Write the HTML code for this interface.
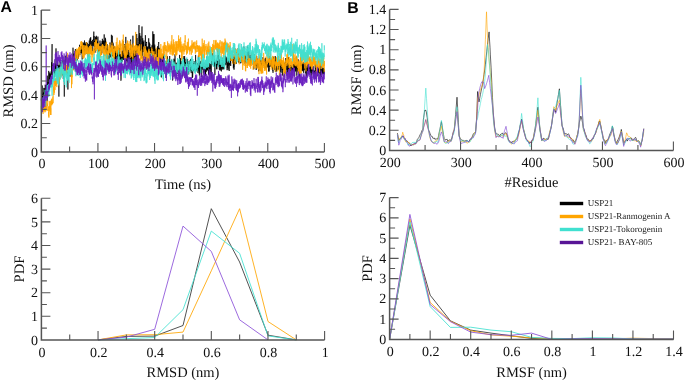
<!DOCTYPE html><html><head><meta charset="utf-8"><style>html,body{margin:0;padding:0;background:#fff;width:685px;height:381px;overflow:hidden}svg{display:block;will-change:transform}</style></head><body><svg width="685" height="381" viewBox="0 0 685 381" text-rendering="geometricPrecision">
<style>.tk{font-family:"Liberation Serif",serif;font-size:14px;fill:#111}.tt{font-family:"Liberation Serif",serif;font-size:14.5px;fill:#111}.pl{font-family:"Liberation Sans",sans-serif;font-weight:bold;font-size:15.8px;fill:#000}.lg{font-family:"Liberation Serif",serif;font-size:9px;fill:#222}</style>
<rect width="685" height="381" fill="#fff"/>
<polyline points="41.3,100.6 41.4,98.5 41.5,105.2 41.6,95.0 41.8,106.3 41.9,101.4 42.0,94.4 42.1,107.1 42.2,85.5 42.3,96.5 42.4,97.2 42.5,94.3 42.7,100.0 42.8,98.8 42.9,102.4 43.0,98.0 43.1,96.7 43.2,97.8 43.3,92.8 43.5,97.4 43.6,92.5 43.7,100.0 43.8,87.9 43.9,90.4 44.0,92.9 44.1,94.9 44.2,97.8 44.4,101.5 44.5,98.8 44.6,96.4 44.7,88.1 44.8,89.9 44.9,92.4 45.0,90.5 45.2,84.7 45.3,85.4 45.4,86.1 45.5,94.3 45.6,94.3 45.7,93.9 45.8,96.4 45.9,85.1 46.1,93.5 46.2,95.8 46.3,98.3 46.4,91.6 46.5,88.3 46.6,92.1 46.7,92.1 46.9,87.2 47.0,84.0 47.1,101.3 47.2,87.5 47.3,75.7 47.4,84.6 47.5,87.4 47.6,93.9 47.8,84.7 47.9,82.1 48.0,82.0 48.1,91.7 48.2,88.7 48.3,85.8 48.4,85.8 48.6,81.3 48.7,70.9 48.8,76.3 48.9,83.5 49.0,82.7 49.1,83.8 49.2,79.4 49.3,75.0 49.5,75.0 49.6,73.8 49.7,80.9 49.8,72.4 49.9,73.9 50.0,85.8 50.1,79.2 50.2,73.6 50.4,77.5 50.5,74.4 50.6,85.8 50.7,79.0 50.8,77.3 50.9,76.9 51.0,76.8 51.2,71.2 51.3,72.0 51.4,74.7 51.5,72.0 51.6,62.3 51.7,70.9 51.8,69.0 51.9,55.9 52.1,44.1 52.2,67.8 52.3,69.8 52.4,75.5 52.5,75.5 52.6,69.9 52.7,72.8 52.9,71.7 53.0,64.6 53.1,65.1 53.2,69.1 53.3,70.6 53.4,66.5 53.5,69.3 53.6,67.6 53.8,71.3 53.9,69.2 54.0,69.3 54.1,67.1 54.2,67.8 54.3,74.1 54.4,71.6 54.6,66.2 54.7,77.2 54.8,72.6 54.9,63.3 55.0,65.5 55.1,72.4 55.2,67.9 55.3,74.6 55.5,70.7 55.6,64.3 55.7,67.3 55.8,69.8 55.9,67.5 56.0,48.4 56.1,67.7 56.3,69.9 56.4,73.4 56.5,66.5 56.6,66.2 56.7,64.3 56.8,66.3 56.9,66.9 57.0,72.9 57.2,73.1 57.3,67.3 57.4,68.2 57.5,64.1 57.6,79.0 57.7,61.9 57.8,67.2 58.0,69.3 58.1,68.5 58.2,66.7 58.3,66.1 58.4,65.9 58.5,69.1 58.6,68.6 58.7,65.6 58.9,96.6 59.0,64.7 59.1,69.7 59.2,73.7 59.3,65.3 59.4,70.3 59.5,70.4 59.7,66.7 59.8,69.5 59.9,71.7 60.0,62.7 60.1,62.1 60.2,61.6 60.3,72.8 60.4,67.7 60.6,66.0 60.7,62.7 60.8,68.3 60.9,64.3 61.0,68.5 61.1,69.2 61.2,68.4 61.4,70.0 61.5,65.8 61.6,62.6 61.7,63.9 61.8,65.6 61.9,72.2 62.0,62.3 62.1,60.1 62.3,61.8 62.4,63.4 62.5,75.2 62.6,68.9 62.7,65.9 62.8,67.3 62.9,70.2 63.1,61.3 63.2,69.8 63.3,79.0 63.4,73.1 63.5,67.2 63.6,72.5 63.7,63.8 63.8,65.7 64.0,59.8 64.1,62.7 64.2,64.1 64.3,96.6 64.4,65.5 64.5,64.7 64.6,67.1 64.8,71.2 64.9,70.6 65.0,69.4 65.1,68.4 65.2,65.1 65.3,55.7 65.4,68.4 65.5,66.4 65.7,69.1 65.8,70.5 65.9,65.2 66.0,66.3 66.1,71.8 66.2,72.6 66.3,69.7 66.4,69.0 66.6,68.2 66.7,67.2 66.8,70.3 66.9,70.9 67.0,74.7 67.1,67.0 67.2,64.8 67.4,67.3 67.5,70.2 67.6,67.4 67.7,70.7 67.8,70.7 67.9,89.5 68.0,64.4 68.1,65.4 68.3,73.8 68.4,69.0 68.5,65.6 68.6,68.6 68.7,63.4 68.8,67.4 68.9,71.7 69.1,63.7 69.2,72.9 69.3,66.4 69.4,73.7 69.5,73.2 69.6,69.7 69.7,62.5 69.8,63.0 70.0,76.7 70.1,58.8 70.2,63.1 70.3,62.9 70.4,61.2 70.5,64.1 70.6,59.8 70.8,65.9 70.9,64.3 71.0,61.5 71.1,58.3 71.2,62.6 71.3,64.3 71.4,66.8 71.5,68.6 71.7,68.7 71.8,63.3 71.9,62.0 72.0,64.0 72.1,64.9 72.2,59.9 72.3,60.1 72.5,60.5 72.6,60.5 72.7,59.4 72.8,63.5 72.9,62.3 73.0,47.7 73.1,54.3 73.2,61.9 73.4,54.9 73.5,56.8 73.6,65.7 73.7,69.7 73.8,59.9 73.9,53.6 74.0,59.9 74.2,63.0 74.3,58.3 74.4,61.2 74.5,61.8 74.6,53.9 74.7,56.4 74.8,57.6 74.9,53.4 75.1,57.0 75.2,54.8 75.3,58.6 75.4,49.1 75.5,54.9 75.6,60.5 75.7,59.3 75.9,55.0 76.0,53.2 76.1,52.2 76.2,52.3 76.3,55.7 76.4,54.0 76.5,50.6 76.6,57.1 76.8,61.3 76.9,58.0 77.0,51.8 77.1,59.8 77.2,54.8 77.3,57.4 77.4,53.0 77.6,57.4 77.7,56.3 77.8,53.8 77.9,58.8 78.0,51.1 78.1,58.5 78.2,57.4 78.3,55.5 78.5,48.6 78.6,53.7 78.7,50.9 78.8,53.2 78.9,52.7 79.0,50.4 79.1,49.7 79.3,53.3 79.4,52.7 79.5,44.8 79.6,53.5 79.7,52.1 79.8,53.5 79.9,55.0 80.0,47.6 80.2,51.8 80.3,52.3 80.4,52.7 80.5,52.7 80.6,50.7 80.7,50.8 80.8,47.3 80.9,48.8 81.1,50.9 81.2,49.2 81.3,46.3 81.4,45.8 81.5,53.3 81.6,47.4 81.7,50.7 81.9,43.3 82.0,47.8 82.1,46.5 82.2,59.5 82.3,43.5 82.4,49.8 82.5,50.8 82.6,54.1 82.8,49.3 82.9,49.7 83.0,42.3 83.1,49.3 83.2,43.1 83.3,44.1 83.4,49.0 83.6,48.7 83.7,49.0 83.8,46.6 83.9,48.9 84.0,46.5 84.1,51.7 84.2,47.7 84.3,47.2 84.5,40.5 84.6,51.6 84.7,45.0 84.8,54.5 84.9,42.9 85.0,51.1 85.1,47.0 85.3,44.0 85.4,46.1 85.5,48.6 85.6,51.6 85.7,46.2 85.8,49.2 85.9,48.2 86.0,48.6 86.2,42.0 86.3,48.7 86.4,49.4 86.5,42.1 86.6,48.9 86.7,50.3 86.8,49.6 87.0,54.1 87.1,52.8 87.2,46.7 87.3,51.6 87.4,45.0 87.5,42.9 87.6,59.5 87.7,48.8 87.9,50.5 88.0,49.7 88.1,55.1 88.2,54.2 88.3,47.3 88.4,44.1 88.5,53.7 88.7,49.6 88.8,59.1 88.9,46.1 89.0,48.7 89.1,48.1 89.2,47.8 89.3,40.5 89.4,49.2 89.6,49.5 89.7,49.6 89.8,48.1 89.9,41.9 90.0,38.4 90.1,41.9 90.2,45.2 90.4,41.5 90.5,38.5 90.6,41.6 90.7,37.2 90.8,48.9 90.9,49.7 91.0,48.2 91.1,50.7 91.3,53.6 91.4,47.8 91.5,41.2 91.6,46.6 91.7,53.2 91.8,50.5 91.9,46.5 92.1,51.3 92.2,47.4 92.3,46.0 92.4,43.3 92.5,39.9 92.6,45.3 92.7,44.8 92.8,45.6 93.0,42.2 93.1,42.8 93.2,46.2 93.3,41.8 93.4,39.3 93.5,39.3 93.6,39.9 93.8,31.6 93.9,38.5 94.0,44.6 94.1,36.0 94.2,42.3 94.3,50.8 94.4,40.9 94.5,51.4 94.7,45.9 94.8,48.8 94.9,47.6 95.0,52.7 95.1,41.8 95.2,46.2 95.3,45.5 95.5,36.8 95.6,45.5 95.7,38.6 95.8,46.5 95.9,43.4 96.0,47.4 96.1,42.4 96.2,46.8 96.4,35.8 96.5,37.2 96.6,39.1 96.7,37.5 96.8,48.1 96.9,45.1 97.0,42.1 97.1,44.5 97.3,48.8 97.4,45.4 97.5,41.4 97.6,41.3 97.7,44.3 97.8,49.3 97.9,36.6 98.1,46.9 98.2,47.1 98.3,48.4 98.4,51.4 98.5,47.7 98.6,51.5 98.7,46.4 98.8,51.3 99.0,48.2 99.1,52.6 99.2,49.4 99.3,44.9 99.4,46.9 99.5,49.0 99.6,44.2 99.8,49.3 99.9,47.4 100.0,40.6 100.1,45.0 100.2,46.6 100.3,48.7 100.4,47.5 100.5,50.4 100.7,47.8 100.8,50.3 100.9,47.1 101.0,43.5 101.1,45.9 101.2,48.4 101.3,50.5 101.5,54.5 101.6,54.1 101.7,46.7 101.8,53.3 101.9,45.8 102.0,44.4 102.1,41.1 102.2,48.3 102.4,38.8 102.5,45.9 102.6,44.2 102.7,47.2 102.8,42.3 102.9,43.1 103.0,44.4 103.2,41.0 103.3,45.9 103.4,40.5 103.5,47.7 103.6,50.2 103.7,50.0 103.8,44.9 103.9,47.2 104.1,45.9 104.2,34.4 104.3,44.2 104.4,47.2 104.5,47.9 104.6,49.7 104.7,43.7 104.9,40.9 105.0,43.0 105.1,43.5 105.2,42.7 105.3,43.2 105.4,37.8 105.5,42.2 105.6,39.4 105.8,51.4 105.9,43.1 106.0,52.7 106.1,41.8 106.2,48.1 106.3,42.6 106.4,46.2 106.6,52.6 106.7,53.7 106.8,58.4 106.9,55.0 107.0,50.6 107.1,48.9 107.2,51.3 107.3,44.3 107.5,52.2 107.6,51.4 107.7,54.1 107.8,65.6 107.9,56.3 108.0,58.1 108.1,66.3 108.3,58.3 108.4,59.8 108.5,58.0 108.6,56.4 108.7,59.3 108.8,62.3 108.9,70.1 109.0,55.4 109.2,55.9 109.3,60.2 109.4,57.3 109.5,48.0 109.6,48.0 109.7,55.1 109.8,49.2 110.0,42.5 110.1,51.8 110.2,50.8 110.3,50.8 110.4,48.0 110.5,57.3 110.6,48.5 110.7,47.8 110.9,50.4 111.0,50.8 111.1,54.2 111.2,49.0 111.3,44.4 111.4,34.8 111.5,39.3 111.7,45.5 111.8,42.4 111.9,43.3 112.0,51.7 112.1,56.3 112.2,44.3 112.3,35.7 112.4,46.1 112.6,41.9 112.7,44.3 112.8,42.7 112.9,55.5 113.0,54.6 113.1,43.6 113.2,56.5 113.3,50.6 113.5,50.5 113.6,47.2 113.7,50.1 113.8,50.6 113.9,49.6 114.0,48.6 114.1,47.1 114.3,46.7 114.4,57.2 114.5,57.0 114.6,52.0 114.7,46.4 114.8,54.0 114.9,59.2 115.0,48.8 115.2,57.8 115.3,60.8 115.4,48.2 115.5,58.8 115.6,53.0 115.7,56.2 115.8,58.1 116.0,62.6 116.1,53.1 116.2,64.8 116.3,58.5 116.4,58.3 116.5,58.1 116.6,61.1 116.7,61.2 116.9,57.4 117.0,50.5 117.1,49.6 117.2,53.5 117.3,55.2 117.4,54.7 117.5,59.3 117.7,58.1 117.8,52.2 117.9,58.3 118.0,55.5 118.1,56.9 118.2,59.2 118.3,52.8 118.4,57.2 118.6,68.4 118.7,50.6 118.8,51.7 118.9,52.2 119.0,50.9 119.1,58.1 119.2,47.7 119.4,49.7 119.5,59.5 119.6,54.0 119.7,54.6 119.8,55.6 119.9,57.5 120.0,62.4 120.1,54.1 120.3,57.7 120.4,57.0 120.5,57.3 120.6,60.0 120.7,55.1 120.8,59.2 120.9,80.7 121.1,79.6 121.2,62.1 121.3,51.4 121.4,63.3 121.5,63.4 121.6,55.3 121.7,54.5 121.8,51.8 122.0,55.5 122.1,53.2 122.2,61.7 122.3,57.6 122.4,59.6 122.5,51.3 122.6,59.8 122.8,49.2 122.9,49.0 123.0,45.7 123.1,49.2 123.2,49.6 123.3,41.1 123.4,44.5 123.5,59.9 123.7,56.9 123.8,50.8 123.9,47.4 124.0,51.7 124.1,44.0 124.2,50.1 124.3,48.4 124.5,57.0 124.6,50.9 124.7,55.8 124.8,67.3 124.9,55.2 125.0,52.9 125.1,46.2 125.2,50.8 125.4,63.3 125.5,56.9 125.6,52.0 125.7,60.2 125.8,36.9 125.9,63.9 126.0,52.2 126.2,60.6 126.3,56.3 126.4,59.5 126.5,57.5 126.6,46.0 126.7,57.5 126.8,51.7 126.9,53.1 127.1,61.4 127.2,56.4 127.3,48.3 127.4,57.5 127.5,61.4 127.6,50.4 127.7,56.7 127.8,53.8 128.0,69.0 128.1,52.8 128.2,58.5 128.3,59.7 128.4,51.8 128.5,61.2 128.6,49.8 128.8,56.4 128.9,52.4 129.0,57.9 129.1,64.1 129.2,56.8 129.3,69.4 129.4,67.2 129.5,66.7 129.7,55.9 129.8,60.7 129.9,60.8 130.0,60.6 130.1,57.3 130.2,62.3 130.3,63.9 130.5,60.2 130.6,39.5 130.7,53.3 130.8,53.6 130.9,57.8 131.0,49.5 131.1,51.5 131.2,53.1 131.4,51.0 131.5,57.0 131.6,70.5 131.7,56.0 131.8,57.7 131.9,58.6 132.0,52.8 132.2,58.7 132.3,64.4 132.4,57.8 132.5,57.7 132.6,56.0 132.7,58.9 132.8,65.4 132.9,35.7 133.1,52.6 133.2,68.3 133.3,53.7 133.4,54.9 133.5,52.8 133.6,66.7 133.7,57.0 133.9,49.5 134.0,52.0 134.1,52.9 134.2,53.8 134.3,55.7 134.4,49.8 134.5,60.6 134.6,50.9 134.8,51.4 134.9,51.4 135.0,53.5 135.1,52.1 135.2,46.0 135.3,49.9 135.4,66.1 135.6,54.0 135.7,46.0 135.8,45.4 135.9,49.0 136.0,51.1 136.1,53.2 136.2,50.6 136.3,49.0 136.5,62.9 136.6,59.5 136.7,34.0 136.8,56.9 136.9,50.3 137.0,38.0 137.1,49.8 137.3,46.8 137.4,56.5 137.5,53.3 137.6,66.9 137.7,57.4 137.8,49.3 137.9,44.1 138.0,46.5 138.2,46.7 138.3,44.5 138.4,47.5 138.5,45.9 138.6,41.4 138.7,36.9 138.8,35.5 139.0,25.1 139.1,40.9 139.2,43.5 139.3,49.4 139.4,34.9 139.5,38.9 139.6,46.8 139.7,33.0 139.9,41.6 140.0,39.5 140.1,45.3 140.2,43.9 140.3,49.8 140.4,53.7 140.5,49.5 140.7,54.4 140.8,35.8 140.9,36.8 141.0,45.6 141.1,50.5 141.2,44.3 141.3,45.5 141.4,45.2 141.6,57.5 141.7,40.5 141.8,36.0 141.9,31.1 142.0,26.5 142.1,38.4 142.2,58.8 142.4,47.1 142.5,41.2 142.6,52.2 142.7,38.2 142.8,48.1 142.9,41.7 143.0,46.5 143.1,43.3 143.3,43.5 143.4,42.0 143.5,50.5 143.6,51.7 143.7,47.9 143.8,47.7 143.9,40.5 144.0,52.2 144.2,52.1 144.3,60.7 144.4,52.8 144.5,52.0 144.6,59.9 144.7,55.1 144.8,47.7 145.0,47.1 145.1,53.6 145.2,50.5 145.3,58.1 145.4,35.2 145.5,62.4 145.6,54.0 145.7,44.1 145.9,63.1 146.0,54.0 146.1,48.7 146.2,45.5 146.3,43.3 146.4,42.1 146.5,43.0 146.7,41.9 146.8,65.3 146.9,46.3 147.0,55.1 147.1,61.4 147.2,48.9 147.3,55.2 147.4,47.4 147.6,49.5 147.7,51.1 147.8,46.8 147.9,51.6 148.0,56.5 148.1,49.4 148.2,56.2 148.4,51.1 148.5,45.6 148.6,44.9 148.7,38.3 148.8,46.9 148.9,46.8 149.0,50.5 149.1,49.7 149.3,54.1 149.4,42.5 149.5,43.8 149.6,52.7 149.7,51.4 149.8,43.8 149.9,59.7 150.1,50.1 150.2,51.5 150.3,48.6 150.4,50.8 150.5,53.6 150.6,47.1 150.7,52.6 150.8,49.3 151.0,52.2 151.1,51.6 151.2,49.9 151.3,57.1 151.4,49.8 151.5,56.1 151.6,56.3 151.8,50.6 151.9,46.6 152.0,61.4 152.1,44.9 152.2,46.2 152.3,49.0 152.4,57.0 152.5,51.6 152.7,41.0 152.8,31.4 152.9,52.5 153.0,54.1 153.1,52.7 153.2,54.0 153.3,44.8 153.5,34.3 153.6,45.6 153.7,50.2 153.8,52.4 153.9,49.2 154.0,34.1 154.1,54.9 154.2,52.4 154.4,62.1 154.5,46.1 154.6,50.9 154.7,44.6 154.8,45.8 154.9,48.5 155.0,49.2 155.2,53.2 155.3,54.6 155.4,52.9 155.5,51.0 155.6,50.4 155.7,48.8 155.8,54.5 155.9,57.6 156.1,50.4 156.2,65.3 156.3,67.0 156.4,62.2 156.5,59.4 156.6,54.5 156.7,60.0 156.9,57.5 157.0,55.7 157.1,54.3 157.2,49.8 157.3,54.8 157.4,58.8 157.5,53.7 157.6,46.2 157.8,52.2 157.9,49.4 158.0,53.1 158.1,53.0 158.2,47.8 158.3,50.8 158.4,44.3 158.6,43.7 158.7,42.0 158.8,47.0 158.9,52.9 159.0,49.4 159.1,49.7 159.2,66.6 159.3,47.9 159.5,60.9 159.6,61.6 159.7,58.8 159.8,61.5 159.9,59.1 160.0,56.5 160.1,67.5 160.2,65.0 160.4,70.2 160.5,67.7 160.6,59.5 160.7,57.2 160.8,57.4 160.9,68.4 161.0,57.4 161.2,59.4 161.3,63.5 161.4,77.4 161.5,59.2 161.6,68.1 161.7,65.0 161.8,61.4 161.9,59.5 162.1,66.1 162.2,54.4 162.3,55.7 162.4,54.8 162.5,57.6 162.6,54.5 162.7,61.8 162.9,66.3 163.0,68.1 163.1,53.8 163.2,66.8 163.3,64.8 163.4,60.7 163.5,64.9 163.6,71.5 163.8,53.9 163.9,65.9 164.0,62.7 164.1,62.8 164.2,71.1 164.3,67.5 164.4,63.2 164.6,61.9 164.7,68.6 164.8,62.3 164.9,67.7 165.0,72.4 165.1,67.6 165.2,63.6 165.3,66.5 165.5,63.2 165.6,62.1 165.7,60.9 165.8,68.4 165.9,70.5 166.0,77.9 166.1,67.2 166.3,61.5 166.4,72.6 166.5,67.2 166.6,62.3 166.7,68.6 166.8,65.9 166.9,65.7 167.0,64.5 167.2,62.6 167.3,60.1 167.4,58.0 167.5,56.3 167.6,71.9 167.7,65.3 167.8,64.8 168.0,59.7 168.1,60.2 168.2,65.5 168.3,66.5 168.4,65.3 168.5,66.4 168.6,66.2 168.7,60.7 168.9,67.5 169.0,62.7 169.1,68.8 169.2,72.5 169.3,69.3 169.4,63.7 169.5,66.5 169.7,56.0 169.8,72.2 169.9,64.4 170.0,65.3 170.1,66.3 170.2,65.0 170.3,64.2 170.4,63.7 170.6,71.7 170.7,66.6 170.8,61.8 170.9,64.5 171.0,67.4 171.1,66.6 171.2,68.9 171.4,59.7 171.5,59.7 171.6,65.9 171.7,63.3 171.8,67.1 171.9,69.6 172.0,68.8 172.1,72.2 172.3,68.7 172.4,68.0 172.5,69.0 172.6,80.5 172.7,77.0 172.8,73.3 172.9,64.3 173.1,71.9 173.2,69.0 173.3,67.7 173.4,70.1 173.5,68.1 173.6,64.0 173.7,61.1 173.8,64.4 174.0,58.7 174.1,66.3 174.2,68.3 174.3,63.8 174.4,59.6 174.5,63.9 174.6,66.5 174.8,66.0 174.9,76.5 175.0,54.3 175.1,66.1 175.2,64.4 175.3,72.0 175.4,67.2 175.5,73.2 175.7,65.6 175.8,68.5 175.9,67.4 176.0,64.1 176.1,68.6 176.2,68.4 176.3,72.4 176.4,62.9 176.6,64.0 176.7,67.9 176.8,65.1 176.9,69.5 177.0,72.7 177.1,64.7 177.2,62.5 177.4,71.5 177.5,69.8 177.6,67.5 177.7,70.7 177.8,74.0 177.9,68.7 178.0,67.5 178.1,71.7 178.3,65.5 178.4,66.4 178.5,65.4 178.6,68.1 178.7,66.9 178.8,68.5 178.9,71.2 179.1,71.9 179.2,60.6 179.3,72.3 179.4,66.9 179.5,61.7 179.6,54.9 179.7,68.1 179.8,62.4 180.0,66.4 180.1,64.4 180.2,68.6 180.3,75.7 180.4,76.3 180.5,58.2 180.6,69.4 180.8,64.6 180.9,64.3 181.0,68.6 181.1,67.0 181.2,66.9 181.3,65.3 181.4,61.2 181.5,69.7 181.7,63.6 181.8,67.6 181.9,76.6 182.0,67.3 182.1,67.6 182.2,64.3 182.3,69.9 182.5,68.9 182.6,69.5 182.7,76.5 182.8,75.5 182.9,71.9 183.0,71.6 183.1,63.9 183.2,68.0 183.4,69.7 183.5,68.4 183.6,66.0 183.7,72.9 183.8,62.9 183.9,56.1 184.0,63.6 184.2,58.2 184.3,64.6 184.4,68.0 184.5,67.2 184.6,56.1 184.7,64.8 184.8,66.6 184.9,62.5 185.1,71.2 185.2,62.1 185.3,65.8 185.4,62.7 185.5,64.5 185.6,63.2 185.7,65.4 185.9,65.8 186.0,58.8 186.1,61.1 186.2,73.1 186.3,65.5 186.4,64.3 186.5,63.5 186.6,69.9 186.8,70.0 186.9,73.4 187.0,70.1 187.1,68.3 187.2,71.5 187.3,67.4 187.4,70.4 187.6,59.1 187.7,69.3 187.8,68.5 187.9,65.5 188.0,72.4 188.1,70.3 188.2,66.4 188.3,66.3 188.5,61.5 188.6,70.1 188.7,74.4 188.8,67.6 188.9,71.4 189.0,65.5 189.1,64.5 189.3,64.8 189.4,65.4 189.5,65.0 189.6,67.4 189.7,70.6 189.8,70.3 189.9,65.7 190.0,60.5 190.2,67.8 190.3,62.1 190.4,64.1 190.5,71.2 190.6,59.1 190.7,68.2 190.8,66.5 190.9,67.6 191.1,65.8 191.2,73.1 191.3,72.6 191.4,67.1 191.5,70.8 191.6,66.8 191.7,69.0 191.9,70.3 192.0,64.1 192.1,66.9 192.2,69.1 192.3,78.0 192.4,71.0 192.5,72.2 192.6,77.0 192.8,73.4 192.9,67.7 193.0,65.7 193.1,63.9 193.2,66.0 193.3,67.4 193.4,67.9 193.6,68.9 193.7,66.4 193.8,71.1 193.9,63.1 194.0,69.8 194.1,61.0 194.2,62.9 194.3,66.7 194.5,64.7 194.6,66.6 194.7,68.8 194.8,62.7 194.9,70.2 195.0,68.7 195.1,65.3 195.3,62.3 195.4,70.1 195.5,60.7 195.6,54.9 195.7,60.6 195.8,60.3 195.9,71.4 196.0,67.3 196.2,65.2 196.3,69.9 196.4,62.2 196.5,63.5 196.6,65.4 196.7,66.7 196.8,64.9 197.0,64.4 197.1,65.5 197.2,63.0 197.3,70.5 197.4,69.0 197.5,66.8 197.6,71.0 197.7,69.6 197.9,72.8 198.0,67.0 198.1,66.5 198.2,69.4 198.3,66.7 198.4,55.5 198.5,68.8 198.7,66.1 198.8,59.1 198.9,70.7 199.0,67.6 199.1,73.5 199.2,70.5 199.3,71.9 199.4,75.6 199.6,70.8 199.7,60.7 199.8,70.7 199.9,67.6 200.0,68.0 200.1,61.3 200.2,73.3 200.4,66.6 200.5,71.4 200.6,70.7 200.7,68.4 200.8,61.5 200.9,68.1 201.0,67.8 201.1,66.3 201.3,69.0 201.4,64.2 201.5,68.2 201.6,67.3 201.7,77.1 201.8,64.9 201.9,62.9 202.1,67.4 202.2,64.0 202.3,67.5 202.4,68.4 202.5,67.3 202.6,69.0 202.7,66.8 202.8,63.6 203.0,70.0 203.1,66.2 203.2,67.1 203.3,65.6 203.4,72.6 203.5,71.9 203.6,70.5 203.8,69.1 203.9,62.4 204.0,74.7 204.1,71.6 204.2,71.0 204.3,71.2 204.4,70.8 204.5,77.0 204.7,77.0 204.8,66.0 204.9,74.7 205.0,71.1 205.1,68.6 205.2,75.9 205.3,67.0 205.5,75.6 205.6,74.0 205.7,69.7 205.8,71.9 205.9,70.0 206.0,72.1 206.1,63.3 206.2,68.3 206.4,70.1 206.5,66.2 206.6,64.7 206.7,56.7 206.8,64.1 206.9,70.5 207.0,63.2 207.1,69.8 207.3,69.2 207.4,64.6 207.5,70.3 207.6,65.0 207.7,63.5 207.8,66.0 207.9,64.6 208.1,68.3 208.2,66.0 208.3,68.0 208.4,70.1 208.5,74.2 208.6,70.2 208.7,70.1 208.8,75.2 209.0,74.9 209.1,73.5 209.2,70.6 209.3,67.8 209.4,71.8 209.5,66.4 209.6,63.3 209.8,67.2 209.9,73.3 210.0,69.1 210.1,68.4 210.2,68.3 210.3,63.8 210.4,71.1 210.5,71.2 210.7,71.8 210.8,69.2 210.9,65.7 211.0,69.9 211.1,69.7 211.2,78.9 211.3,70.8 211.5,58.2 211.6,58.8 211.7,58.2 211.8,61.5 211.9,65.2 212.0,62.4 212.1,63.9 212.2,58.9 212.4,60.0 212.5,63.2 212.6,56.7 212.7,53.2 212.8,61.4 212.9,59.6 213.0,60.3 213.2,57.9 213.3,61.7 213.4,55.7 213.5,58.3 213.6,60.9 213.7,59.4 213.8,63.4 213.9,59.3 214.1,62.6 214.2,66.4 214.3,65.1 214.4,65.4 214.5,55.9 214.6,64.6 214.7,60.6 214.9,75.0 215.0,67.8 215.1,62.9 215.2,63.4 215.3,64.6 215.4,66.6 215.5,63.7 215.6,63.7 215.8,61.9 215.9,60.8 216.0,60.4 216.1,63.6 216.2,65.4 216.3,63.9 216.4,63.7 216.6,68.9 216.7,63.6 216.8,69.4 216.9,59.1 217.0,65.3 217.1,62.9 217.2,59.5 217.3,58.8 217.5,55.0 217.6,64.7 217.7,60.0 217.8,61.9 217.9,61.5 218.0,48.8 218.1,60.4 218.3,61.5 218.4,66.4 218.5,54.5 218.6,60.8 218.7,64.8 218.8,61.9 218.9,62.6 219.0,67.3 219.2,67.4 219.3,69.4 219.4,69.8 219.5,59.0 219.6,66.2 219.7,63.6 219.8,60.1 220.0,64.7 220.1,70.6 220.2,70.5 220.3,65.3 220.4,69.7 220.5,66.7 220.6,60.7 220.7,60.9 220.9,60.8 221.0,62.0 221.1,60.1 221.2,61.6 221.3,61.6 221.4,71.4 221.5,62.8 221.7,64.9 221.8,66.2 221.9,69.2 222.0,61.6 222.1,57.6 222.2,61.5 222.3,60.7 222.4,65.9 222.6,67.3 222.7,59.4 222.8,63.8 222.9,69.6 223.0,62.0 223.1,67.7 223.2,68.6 223.3,62.0 223.5,61.6 223.6,64.2 223.7,60.0 223.8,64.7 223.9,62.6 224.0,66.2 224.1,69.2 224.3,61.2 224.4,66.2 224.5,62.4 224.6,60.6 224.7,59.3 224.8,65.6 224.9,64.9 225.0,58.1 225.2,64.3 225.3,64.2 225.4,55.4 225.5,61.4 225.6,61.2 225.7,58.0 225.8,59.5 226.0,64.8 226.1,62.6 226.2,56.8 226.3,60.5 226.4,62.2 226.5,62.8 226.6,59.1 226.7,58.3 226.9,63.1 227.0,64.6 227.1,70.2 227.2,66.4 227.3,63.3 227.4,67.9 227.5,63.0 227.7,64.3 227.8,65.7 227.9,61.8 228.0,57.7 228.1,64.3 228.2,69.7 228.3,58.3 228.4,61.2 228.6,62.0 228.7,60.0 228.8,65.7 228.9,63.3 229.0,64.0 229.1,65.3 229.2,71.0 229.4,58.1 229.5,61.7 229.6,61.9 229.7,59.4 229.8,65.1 229.9,59.3 230.0,63.0 230.1,62.5 230.3,61.9 230.4,54.1 230.5,62.4 230.6,62.2 230.7,66.0 230.8,58.0 230.9,60.9 231.1,60.1 231.2,60.4 231.3,60.9 231.4,60.5 231.5,60.2 231.6,55.4 231.7,60.7 231.8,57.6 232.0,54.4 232.1,56.4 232.2,54.8 232.3,58.5 232.4,50.8 232.5,57.5 232.6,62.9 232.8,54.1 232.9,58.8 233.0,61.3 233.1,60.9 233.2,60.5 233.3,56.8 233.4,68.3 233.5,59.2 233.7,63.6 233.8,66.9 233.9,62.1 234.0,69.7 234.1,69.2 234.2,65.4 234.3,61.4 234.5,56.6 234.6,59.2 234.7,57.1 234.8,56.1 234.9,48.4 235.0,57.7 235.1,58.4 235.2,52.2 235.4,59.5 235.5,60.0 235.6,59.8 235.7,58.8 235.8,63.8 235.9,60.0 236.0,55.4 236.2,63.7 236.3,57.0 236.4,54.1 236.5,52.1 236.6,55.8 236.7,59.7 236.8,54.9 236.9,53.4 237.1,54.9 237.2,55.0 237.3,55.9 237.4,48.7 237.5,52.5 237.6,49.2 237.7,55.6 237.9,55.2 238.0,52.8 238.1,55.4 238.2,56.2 238.3,57.7 238.4,57.3 238.5,54.5 238.6,62.6 238.8,58.4 238.9,54.2 239.0,54.9 239.1,58.4 239.2,57.2 239.3,58.5 239.4,58.0 239.5,60.0 239.7,56.4 239.8,59.3 239.9,59.4 240.0,54.9 240.1,63.3 240.2,55.9 240.3,52.7 240.5,51.9 240.6,51.4 240.7,59.8 240.8,60.3 240.9,63.2 241.0,60.2 241.1,56.1 241.2,50.2 241.4,56.1 241.5,52.4 241.6,54.6 241.7,58.6 241.8,58.4 241.9,55.8 242.0,61.0 242.2,50.9 242.3,57.0 242.4,53.3 242.5,57.8 242.6,51.5 242.7,50.5 242.8,52.8 242.9,53.3 243.1,55.1 243.2,51.5 243.3,54.7 243.4,52.9 243.5,49.6 243.6,54.5 243.7,51.5 243.9,46.5 244.0,53.8 244.1,51.5 244.2,54.4 244.3,59.7 244.4,54.4 244.5,59.7 244.6,58.4 244.8,58.8 244.9,57.9 245.0,63.8 245.1,54.6 245.2,58.6 245.3,56.1 245.4,57.5 245.6,59.6 245.7,60.9 245.8,55.2 245.9,60.2 246.0,63.4 246.1,61.2 246.2,58.5 246.3,61.9 246.5,56.4 246.6,54.9 246.7,54.0 246.8,55.5 246.9,60.7 247.0,55.9 247.1,52.4 247.3,55.1 247.4,46.3 247.5,62.9 247.6,56.3 247.7,55.5 247.8,51.7 247.9,57.4 248.0,62.5 248.2,51.2 248.3,52.9 248.4,53.0 248.5,54.6 248.6,53.9 248.7,52.1 248.8,54.4 249.0,56.9 249.1,57.9 249.2,51.0 249.3,54.6 249.4,54.9 249.5,56.8 249.6,56.5 249.7,57.1 249.9,58.5 250.0,55.0 250.1,62.1 250.2,57.4 250.3,65.2 250.4,56.5 250.5,62.8 250.7,56.4 250.8,58.4 250.9,62.9 251.0,61.3 251.1,59.2 251.2,56.9 251.3,52.8 251.4,57.3 251.6,60.1 251.7,55.7 251.8,57.3 251.9,56.5 252.0,60.0 252.1,54.7 252.2,55.7 252.4,53.6 252.5,57.5 252.6,57.2 252.7,62.7 252.8,62.5 252.9,55.1 253.0,64.4 253.1,60.8 253.3,64.4 253.4,59.0 253.5,63.8 253.6,64.8 253.7,64.8 253.8,69.3 253.9,63.8 254.0,59.6 254.2,61.8 254.3,54.1 254.4,59.0 254.5,57.5 254.6,59.8 254.7,60.4 254.8,57.4 255.0,65.8 255.1,63.9 255.2,60.4 255.3,62.0 255.4,61.0 255.5,61.9 255.6,61.6 255.7,65.1 255.9,66.1 256.0,65.6 256.1,62.2 256.2,70.0 256.3,66.4 256.4,66.2 256.5,62.5 256.7,56.0 256.8,59.9 256.9,66.0 257.0,59.7 257.1,58.9 257.2,61.2 257.3,64.2 257.4,67.7 257.6,58.8 257.7,64.0 257.8,64.7 257.9,65.0 258.0,63.0 258.1,63.5 258.2,63.3 258.4,64.3 258.5,71.3 258.6,63.6 258.7,63.4 258.8,67.2 258.9,69.1 259.0,64.9 259.1,64.5 259.3,60.9 259.4,60.5 259.5,65.5 259.6,66.4 259.7,65.7 259.8,62.4 259.9,70.4 260.1,65.2 260.2,62.1 260.3,60.3 260.4,64.4 260.5,70.9 260.6,59.0 260.7,54.3 260.8,66.6 261.0,68.9 261.1,62.9 261.2,67.9 261.3,69.6 261.4,67.3 261.5,65.3 261.6,71.4 261.8,70.5 261.9,63.4 262.0,65.9 262.1,59.8 262.2,61.7 262.3,62.0 262.4,64.3 262.5,64.3 262.7,64.1 262.8,60.2 262.9,58.9 263.0,57.2 263.1,58.6 263.2,60.3 263.3,60.1 263.5,61.9 263.6,65.3 263.7,62.6 263.8,60.8 263.9,58.7 264.0,64.8 264.1,66.0 264.2,62.0 264.4,66.2 264.5,68.4 264.6,64.7 264.7,61.1 264.8,64.3 264.9,64.1 265.0,62.9 265.2,65.2 265.3,68.3 265.4,57.8 265.5,65.0 265.6,58.3 265.7,65.3 265.8,64.6 265.9,61.1 266.1,67.4 266.2,62.2 266.3,63.9 266.4,66.7 266.5,66.7 266.6,65.9 266.7,62.2 266.9,67.8 267.0,62.8 267.1,66.1 267.2,63.5 267.3,67.1 267.4,64.4 267.5,62.3 267.6,60.8 267.8,63.7 267.9,61.1 268.0,63.5 268.1,63.2 268.2,67.0 268.3,61.5 268.4,60.4 268.6,66.3 268.7,66.7 268.8,71.6 268.9,66.5 269.0,71.3 269.1,67.4 269.2,63.3 269.3,64.5 269.5,66.7 269.6,62.9 269.7,56.3 269.8,59.7 269.9,58.6 270.0,61.4 270.1,63.9 270.2,60.1 270.4,61.5 270.5,61.1 270.6,62.6 270.7,65.6 270.8,63.5 270.9,65.8 271.0,67.0 271.2,60.6 271.3,64.6 271.4,65.0 271.5,61.2 271.6,59.2 271.7,63.4 271.8,62.1 271.9,60.6 272.1,67.7 272.2,61.6 272.3,65.4 272.4,66.6 272.5,65.8 272.6,69.6 272.7,70.5 272.9,70.0 273.0,72.8 273.1,66.2 273.2,65.1 273.3,61.8 273.4,62.0 273.5,60.1 273.6,57.8 273.8,56.6 273.9,61.0 274.0,61.7 274.1,60.6 274.2,64.0 274.3,60.2 274.4,66.6 274.6,70.0 274.7,59.7 274.8,63.0 274.9,64.8 275.0,69.0 275.1,67.8 275.2,64.7 275.3,56.1 275.5,66.9 275.6,63.7 275.7,66.7 275.8,66.8 275.9,67.8 276.0,72.1 276.1,69.0 276.3,71.0 276.4,67.1 276.5,69.9 276.6,65.5 276.7,65.7 276.8,67.1 276.9,66.1 277.0,65.4 277.2,62.4 277.3,64.4 277.4,61.9 277.5,62.8 277.6,67.6 277.7,69.9 277.8,64.4 278.0,60.5 278.1,64.4 278.2,63.2 278.3,63.3 278.4,65.3 278.5,65.2 278.6,67.5 278.7,69.5 278.9,67.6 279.0,66.3 279.1,60.0 279.2,60.9 279.3,60.1 279.4,63.7 279.5,59.8 279.7,60.6 279.8,62.7 279.9,67.0 280.0,65.8 280.1,61.9 280.2,61.7 280.3,59.5 280.4,64.4 280.6,61.4 280.7,67.9 280.8,71.8 280.9,66.0 281.0,73.3 281.1,65.3 281.2,67.3 281.4,62.6 281.5,63.3 281.6,61.6 281.7,60.2 281.8,67.6 281.9,63.3 282.0,68.7 282.1,68.2 282.3,70.0 282.4,65.9 282.5,65.0 282.6,75.6 282.7,68.2 282.8,68.8 282.9,69.6 283.1,64.9 283.2,68.0 283.3,64.7 283.4,66.0 283.5,67.3 283.6,61.9 283.7,69.6 283.8,69.2 284.0,65.0 284.1,67.0 284.2,70.8 284.3,65.5 284.4,63.0 284.5,65.4 284.6,64.9 284.8,73.1 284.9,72.2 285.0,67.4 285.1,64.8 285.2,62.3 285.3,63.0 285.4,65.8 285.5,66.5 285.7,74.3 285.8,58.0 285.9,64.8 286.0,66.8 286.1,64.2 286.2,67.5 286.3,65.6 286.4,64.0 286.6,66.5 286.7,64.7 286.8,68.1 286.9,69.6 287.0,68.4 287.1,72.8 287.2,67.6 287.4,69.6 287.5,64.0 287.6,57.0 287.7,64.7 287.8,71.8 287.9,75.8 288.0,71.9 288.1,69.0 288.3,70.2 288.4,68.3 288.5,57.1 288.6,70.8 288.7,68.7 288.8,69.4 288.9,68.2 289.1,66.5 289.2,67.7 289.3,72.5 289.4,69.7 289.5,68.3 289.6,71.4 289.7,69.8 289.8,70.2 290.0,77.1 290.1,71.1 290.2,69.4 290.3,70.6 290.4,65.0 290.5,70.4 290.6,68.4 290.8,67.7 290.9,66.3 291.0,71.3 291.1,68.4 291.2,65.1 291.3,67.9 291.4,71.7 291.5,69.8 291.7,74.0 291.8,75.1 291.9,74.2 292.0,74.2 292.1,72.5 292.2,73.3 292.3,68.1 292.5,69.6 292.6,67.5 292.7,69.5 292.8,69.0 292.9,71.3 293.0,69.2 293.1,68.5 293.2,64.3 293.4,66.3 293.5,64.2 293.6,63.8 293.7,66.9 293.8,64.1 293.9,68.5 294.0,71.4 294.2,68.1 294.3,64.1 294.4,73.2 294.5,72.7 294.6,67.9 294.7,76.5 294.8,62.1 294.9,64.3 295.1,71.6 295.2,67.6 295.3,64.7 295.4,71.1 295.5,65.8 295.6,66.2 295.7,70.1 295.9,66.5 296.0,66.4 296.1,68.7 296.2,67.3 296.3,56.6 296.4,63.6 296.5,65.0 296.6,63.9 296.8,75.7 296.9,71.1 297.0,64.2 297.1,67.9 297.2,71.4 297.3,65.5 297.4,68.3 297.6,71.5 297.7,67.7 297.8,70.9 297.9,70.3 298.0,66.2 298.1,59.2 298.2,61.1 298.3,63.3 298.5,64.0 298.6,65.3 298.7,65.3 298.8,63.4 298.9,68.8 299.0,66.7 299.1,69.6 299.3,67.7 299.4,67.0 299.5,68.6 299.6,82.4 299.7,69.9 299.8,64.2 299.9,66.0 300.0,64.5 300.2,65.4 300.3,66.5 300.4,61.7 300.5,65.3 300.6,65.3 300.7,65.7 300.8,57.1 300.9,64.6 301.1,60.4 301.2,62.7 301.3,62.8 301.4,66.6 301.5,60.1 301.6,62.9 301.7,62.3 301.9,65.2 302.0,69.9 302.1,70.7 302.2,63.5 302.3,71.2 302.4,63.7 302.5,69.9 302.6,67.9 302.8,67.3 302.9,68.2 303.0,65.7 303.1,66.4 303.2,68.7 303.3,69.8 303.4,62.4 303.6,72.8 303.7,69.0 303.8,70.6 303.9,69.4 304.0,69.8 304.1,67.0 304.2,62.9 304.3,69.3 304.5,65.7 304.6,69.0 304.7,68.1 304.8,65.6 304.9,64.4 305.0,69.2 305.1,63.8 305.3,66.1 305.4,73.5 305.5,65.5 305.6,67.0 305.7,69.8 305.8,66.7 305.9,62.1 306.0,68.1 306.2,68.9 306.3,74.8 306.4,79.6 306.5,69.0 306.6,68.0 306.7,69.4 306.8,68.0 307.0,70.0 307.1,72.1 307.2,66.5 307.3,73.7 307.4,68.5 307.5,63.5 307.6,67.8 307.7,74.1 307.9,71.4 308.0,67.6 308.1,70.4 308.2,72.0 308.3,66.0 308.4,71.8 308.5,63.7 308.7,73.9 308.8,66.1 308.9,68.6 309.0,69.2 309.1,71.5 309.2,69.4 309.3,71.9 309.4,68.7 309.6,69.1 309.7,68.6 309.8,69.7 309.9,74.7 310.0,66.6 310.1,69.9 310.2,67.1 310.4,70.7 310.5,68.3 310.6,71.5 310.7,59.6 310.8,65.5 310.9,70.3 311.0,73.2 311.1,63.5 311.3,75.9 311.4,70.8 311.5,69.5 311.6,71.0 311.7,66.9 311.8,68.4 311.9,67.8 312.1,66.9 312.2,68.0 312.3,68.8 312.4,71.7 312.5,68.4 312.6,65.4 312.7,69.5 312.8,70.7 313.0,73.7 313.1,66.2 313.2,72.1 313.3,71.4 313.4,69.9 313.5,70.3 313.6,73.8 313.8,74.7 313.9,77.0 314.0,70.6 314.1,70.3 314.2,74.0 314.3,71.7 314.4,72.0 314.5,71.2 314.7,71.8 314.8,71.3 314.9,77.1 315.0,72.0 315.1,70.0 315.2,63.8 315.3,68.0 315.5,68.8 315.6,64.7 315.7,73.5 315.8,70.2 315.9,73.5 316.0,68.9 316.1,75.8 316.2,78.5 316.4,77.7 316.5,71.8 316.6,69.1 316.7,76.4 316.8,65.3 316.9,64.6 317.0,68.7 317.1,72.0 317.3,69.1 317.4,71.7 317.5,69.3 317.6,65.9 317.7,67.9 317.8,66.1 317.9,76.3 318.1,70.0 318.2,72.8 318.3,68.5 318.4,70.2 318.5,71.9 318.6,67.5 318.7,70.1 318.8,72.5 319.0,70.3 319.1,72.0 319.2,71.6 319.3,72.5 319.4,70.1 319.5,73.4 319.6,73.1 319.8,65.5 319.9,73.3 320.0,75.4 320.1,78.3 320.2,76.3 320.3,75.0 320.4,71.6 320.5,73.0 320.7,71.5 320.8,75.0 320.9,68.9 321.0,70.9 321.1,63.9 321.2,72.2 321.3,77.1 321.5,72.2 321.6,73.7 321.7,70.3 321.8,71.0 321.9,74.0 322.0,67.4 322.1,68.2 322.2,69.4 322.4,71.5 322.5,72.4 322.6,69.1 322.7,72.2 322.8,73.4 322.9,74.5 323.0,67.8 323.2,71.8 323.3,74.0 323.4,70.7 323.5,70.0 323.6,68.0 323.7,71.3 323.8,70.4 323.9,68.9 324.1,70.7 324.2,74.4 324.3,72.0 324.4,70.8" fill="none" stroke="#000000" stroke-width="0.7" stroke-linejoin="round" />
<polyline points="41.3,106.3 41.4,106.9 41.5,105.4 41.6,108.4 41.8,104.9 41.9,102.7 42.0,107.8 42.1,102.2 42.2,100.6 42.3,103.8 42.4,103.8 42.5,106.5 42.7,104.5 42.8,110.8 42.9,107.4 43.0,106.7 43.1,113.9 43.2,105.6 43.3,111.5 43.5,110.5 43.6,109.2 43.7,107.4 43.8,106.3 43.9,103.3 44.0,110.2 44.1,106.7 44.2,100.6 44.4,107.3 44.5,111.1 44.6,110.1 44.7,107.0 44.8,107.3 44.9,112.4 45.0,106.6 45.2,106.7 45.3,99.8 45.4,107.2 45.5,107.0 45.6,102.9 45.7,111.5 45.8,104.1 45.9,101.3 46.1,107.8 46.2,108.7 46.3,108.0 46.4,100.9 46.5,108.1 46.6,108.8 46.7,108.6 46.9,108.9 47.0,110.6 47.1,109.9 47.2,108.2 47.3,103.6 47.4,105.8 47.5,105.0 47.6,105.7 47.8,100.7 47.9,108.3 48.0,110.5 48.1,109.2 48.2,110.7 48.3,108.3 48.4,106.5 48.6,108.1 48.7,116.5 48.8,111.7 48.9,117.7 49.0,109.4 49.1,106.4 49.2,110.3 49.3,110.7 49.5,107.1 49.6,101.2 49.7,110.5 49.8,106.4 49.9,110.1 50.0,111.9 50.1,108.1 50.2,105.8 50.4,108.5 50.5,100.7 50.6,114.9 50.7,108.3 50.8,108.9 50.9,115.0 51.0,109.7 51.2,105.6 51.3,102.0 51.4,104.7 51.5,99.3 51.6,102.8 51.7,105.4 51.8,105.2 51.9,98.6 52.1,104.3 52.2,104.3 52.3,102.2 52.4,101.8 52.5,104.0 52.6,102.3 52.7,99.0 52.9,96.4 53.0,99.0 53.1,103.2 53.2,97.3 53.3,96.9 53.4,92.5 53.5,86.6 53.6,90.5 53.8,87.2 53.9,80.4 54.0,94.9 54.1,88.2 54.2,90.9 54.3,92.8 54.4,92.5 54.6,89.1 54.7,79.2 54.8,84.0 54.9,80.8 55.0,90.0 55.1,79.3 55.2,81.8 55.3,78.1 55.5,85.8 55.6,80.7 55.7,82.9 55.8,85.7 55.9,85.0 56.0,83.6 56.1,81.3 56.3,83.0 56.4,78.4 56.5,84.4 56.6,83.9 56.7,82.9 56.8,87.1 56.9,70.0 57.0,71.5 57.2,80.6 57.3,79.7 57.4,82.0 57.5,77.4 57.6,79.9 57.7,82.1 57.8,79.7 58.0,81.2 58.1,77.0 58.2,70.3 58.3,73.8 58.4,74.5 58.5,77.1 58.6,69.0 58.7,76.7 58.9,83.8 59.0,76.5 59.1,82.2 59.2,72.6 59.3,73.0 59.4,68.8 59.5,70.1 59.7,76.1 59.8,78.6 59.9,73.2 60.0,79.3 60.1,78.1 60.2,67.8 60.3,75.8 60.4,71.1 60.6,64.3 60.7,73.5 60.8,64.1 60.9,76.9 61.0,73.4 61.1,64.1 61.2,70.0 61.4,71.9 61.5,74.5 61.6,67.7 61.7,63.3 61.8,75.7 61.9,73.9 62.0,68.5 62.1,73.3 62.3,66.1 62.4,71.6 62.5,63.4 62.6,65.2 62.7,70.3 62.8,69.4 62.9,63.4 63.1,73.9 63.2,69.6 63.3,72.8 63.4,70.4 63.5,61.7 63.6,67.2 63.7,65.6 63.8,66.9 64.0,70.6 64.1,65.1 64.2,69.6 64.3,67.2 64.4,67.2 64.5,63.4 64.6,72.7 64.8,69.5 64.9,69.0 65.0,69.3 65.1,70.8 65.2,72.8 65.3,70.6 65.4,66.5 65.5,68.9 65.7,73.2 65.8,66.5 65.9,65.2 66.0,66.9 66.1,72.5 66.2,66.0 66.3,65.2 66.4,66.9 66.6,67.2 66.7,74.3 66.8,65.9 66.9,68.2 67.0,66.3 67.1,70.6 67.2,68.6 67.4,70.1 67.5,71.8 67.6,52.9 67.7,62.2 67.8,60.9 67.9,61.6 68.0,66.5 68.1,65.8 68.3,74.0 68.4,67.0 68.5,72.1 68.6,69.5 68.7,63.5 68.8,67.0 68.9,59.0 69.1,62.8 69.2,66.6 69.3,69.8 69.4,74.7 69.5,61.1 69.6,63.0 69.7,68.2 69.8,68.8 70.0,74.2 70.1,64.8 70.2,69.4 70.3,66.1 70.4,66.5 70.5,67.3 70.6,68.7 70.8,68.7 70.9,70.4 71.0,69.7 71.1,62.8 71.2,60.5 71.3,77.1 71.4,69.7 71.5,88.1 71.7,74.6 71.8,69.4 71.9,84.2 72.0,68.2 72.1,77.2 72.2,66.7 72.3,67.6 72.5,68.5 72.6,64.6 72.7,69.0 72.8,55.7 72.9,67.9 73.0,69.5 73.1,62.7 73.2,61.0 73.4,60.2 73.5,65.6 73.6,69.5 73.7,69.2 73.8,70.4 73.9,68.8 74.0,63.6 74.2,65.4 74.3,61.7 74.4,57.5 74.5,61.2 74.6,57.8 74.7,55.6 74.8,60.9 74.9,56.9 75.1,62.3 75.2,53.2 75.3,57.9 75.4,57.4 75.5,58.9 75.6,55.3 75.7,50.7 75.9,57.0 76.0,59.2 76.1,57.1 76.2,53.8 76.3,51.6 76.4,54.6 76.5,52.9 76.6,50.6 76.8,48.5 76.9,55.1 77.0,59.5 77.1,56.0 77.2,49.9 77.3,56.3 77.4,51.7 77.6,52.5 77.7,58.7 77.8,49.2 77.9,56.1 78.0,59.0 78.1,54.4 78.2,52.1 78.3,48.7 78.5,49.9 78.6,52.3 78.7,47.8 78.8,50.4 78.9,47.0 79.0,54.5 79.1,51.3 79.3,53.7 79.4,51.5 79.5,46.8 79.6,46.9 79.7,51.7 79.8,56.6 79.9,51.1 80.0,51.5 80.2,51.3 80.3,46.3 80.4,46.8 80.5,48.6 80.6,45.7 80.7,50.1 80.8,48.2 80.9,41.5 81.1,45.4 81.2,42.0 81.3,45.0 81.4,43.9 81.5,45.8 81.6,41.1 81.7,45.6 81.9,42.8 82.0,44.5 82.1,49.1 82.2,42.6 82.3,49.5 82.4,45.5 82.5,54.7 82.6,45.6 82.8,55.7 82.9,53.1 83.0,58.3 83.1,57.0 83.2,55.2 83.3,56.5 83.4,45.1 83.6,52.0 83.7,58.6 83.8,53.9 83.9,52.3 84.0,50.5 84.1,50.6 84.2,57.6 84.3,45.3 84.5,48.2 84.6,49.0 84.7,48.4 84.8,52.6 84.9,55.3 85.0,54.1 85.1,47.5 85.3,52.9 85.4,51.7 85.5,53.1 85.6,45.9 85.7,47.7 85.8,45.5 85.9,49.9 86.0,53.7 86.2,48.7 86.3,53.3 86.4,53.9 86.5,46.8 86.6,47.4 86.7,42.3 86.8,45.9 87.0,49.1 87.1,45.9 87.2,52.4 87.3,51.0 87.4,53.1 87.5,58.9 87.6,49.5 87.7,51.5 87.9,53.8 88.0,47.2 88.1,55.2 88.2,47.9 88.3,47.8 88.4,54.3 88.5,52.7 88.7,52.4 88.8,57.0 88.9,57.1 89.0,55.9 89.1,51.4 89.2,58.7 89.3,55.1 89.4,46.1 89.6,51.7 89.7,52.5 89.8,55.7 89.9,57.2 90.0,47.2 90.1,46.3 90.2,50.6 90.4,53.9 90.5,48.7 90.6,52.5 90.7,44.6 90.8,47.3 90.9,46.5 91.0,51.1 91.1,54.6 91.3,54.4 91.4,46.1 91.5,54.3 91.6,48.2 91.7,54.5 91.8,54.7 91.9,62.3 92.1,54.2 92.2,54.9 92.3,51.2 92.4,54.7 92.5,54.3 92.6,53.6 92.7,53.2 92.8,54.3 93.0,57.4 93.1,56.5 93.2,53.0 93.3,49.6 93.4,51.0 93.5,51.8 93.6,52.6 93.8,53.2 93.9,47.8 94.0,54.7 94.1,54.1 94.2,49.9 94.3,51.8 94.4,52.3 94.5,47.3 94.7,48.5 94.8,42.0 94.9,42.9 95.0,44.0 95.1,47.9 95.2,42.6 95.3,44.2 95.5,48.6 95.6,50.4 95.7,46.4 95.8,39.5 95.9,45.1 96.0,41.0 96.1,44.5 96.2,45.6 96.4,39.8 96.5,44.7 96.6,51.1 96.7,44.6 96.8,48.0 96.9,44.6 97.0,46.2 97.1,49.4 97.3,53.0 97.4,46.6 97.5,43.4 97.6,48.9 97.7,58.8 97.8,55.5 97.9,50.6 98.1,59.6 98.2,56.3 98.3,56.9 98.4,52.9 98.5,44.1 98.6,49.6 98.7,42.8 98.8,48.9 99.0,48.6 99.1,49.4 99.2,49.8 99.3,46.3 99.4,46.0 99.5,47.3 99.6,47.1 99.8,56.7 99.9,51.7 100.0,53.4 100.1,51.3 100.2,46.2 100.3,55.8 100.4,54.8 100.5,53.0 100.7,57.7 100.8,50.4 100.9,47.0 101.0,46.2 101.1,50.5 101.2,49.4 101.3,47.2 101.5,52.6 101.6,54.9 101.7,48.4 101.8,48.9 101.9,48.0 102.0,45.3 102.1,47.8 102.2,49.3 102.4,44.3 102.5,46.5 102.6,48.4 102.7,44.5 102.8,47.0 102.9,45.1 103.0,52.5 103.2,49.0 103.3,45.9 103.4,55.6 103.5,55.9 103.6,56.6 103.7,55.6 103.8,50.5 103.9,48.5 104.1,53.3 104.2,49.8 104.3,56.0 104.4,52.2 104.5,48.7 104.6,47.8 104.7,46.1 104.9,47.3 105.0,50.5 105.1,60.5 105.2,56.3 105.3,53.3 105.4,51.8 105.5,50.6 105.6,45.6 105.8,51.3 105.9,56.3 106.0,51.2 106.1,45.4 106.2,42.7 106.3,47.7 106.4,41.9 106.6,45.0 106.7,44.2 106.8,58.8 106.9,50.0 107.0,51.5 107.1,51.3 107.2,53.3 107.3,54.5 107.5,52.2 107.6,55.3 107.7,60.3 107.8,51.0 107.9,53.0 108.0,52.6 108.1,45.2 108.3,50.0 108.4,51.9 108.5,51.0 108.6,54.3 108.7,49.7 108.8,54.7 108.9,49.2 109.0,50.3 109.2,47.3 109.3,49.7 109.4,46.2 109.5,52.5 109.6,53.0 109.7,43.8 109.8,46.2 110.0,50.7 110.1,48.4 110.2,52.6 110.3,51.9 110.4,53.3 110.5,47.5 110.6,54.3 110.7,52.0 110.9,54.0 111.0,51.7 111.1,53.3 111.2,52.5 111.3,47.9 111.4,45.3 111.5,49.0 111.7,58.1 111.8,50.7 111.9,53.8 112.0,42.5 112.1,43.9 112.2,46.0 112.3,46.9 112.4,48.7 112.6,45.5 112.7,47.6 112.8,55.2 112.9,46.2 113.0,51.8 113.1,49.4 113.2,60.5 113.3,48.9 113.5,55.3 113.6,55.5 113.7,51.3 113.8,57.0 113.9,51.5 114.0,59.0 114.1,45.9 114.3,45.8 114.4,49.1 114.5,56.8 114.6,48.5 114.7,49.1 114.8,51.4 114.9,52.7 115.0,50.7 115.2,50.4 115.3,49.1 115.4,46.6 115.5,50.1 115.6,48.7 115.7,50.1 115.8,51.2 116.0,48.6 116.1,51.0 116.2,49.4 116.3,42.0 116.4,52.9 116.5,47.3 116.6,56.1 116.7,47.4 116.9,49.5 117.0,43.3 117.1,37.7 117.2,49.3 117.3,46.0 117.4,49.4 117.5,48.8 117.7,45.8 117.8,52.8 117.9,49.9 118.0,54.5 118.1,47.4 118.2,44.6 118.3,48.4 118.4,47.1 118.6,54.9 118.7,48.2 118.8,47.8 118.9,52.3 119.0,54.3 119.1,48.2 119.2,43.7 119.4,41.9 119.5,44.3 119.6,40.3 119.7,45.1 119.8,47.7 119.9,40.8 120.0,46.0 120.1,52.1 120.3,50.0 120.4,45.4 120.5,44.2 120.6,47.4 120.7,50.2 120.8,44.2 120.9,42.7 121.1,45.5 121.2,44.5 121.3,56.3 121.4,52.7 121.5,50.8 121.6,50.9 121.7,53.1 121.8,56.7 122.0,47.5 122.1,47.5 122.2,49.8 122.3,44.7 122.4,39.6 122.5,48.9 122.6,50.1 122.8,47.2 122.9,42.1 123.0,47.5 123.1,47.7 123.2,46.8 123.3,34.6 123.4,42.8 123.5,43.2 123.7,47.7 123.8,50.6 123.9,53.3 124.0,46.9 124.1,45.0 124.2,54.8 124.3,47.7 124.5,58.6 124.6,63.1 124.7,53.5 124.8,51.4 124.9,50.3 125.0,54.1 125.1,55.9 125.2,51.3 125.4,63.0 125.5,52.8 125.6,53.9 125.7,58.1 125.8,53.2 125.9,43.3 126.0,59.3 126.2,52.3 126.3,55.9 126.4,48.9 126.5,45.5 126.6,45.2 126.7,45.5 126.8,43.1 126.9,45.3 127.1,52.2 127.2,51.5 127.3,44.2 127.4,48.9 127.5,43.3 127.6,40.5 127.7,54.7 127.8,41.2 128.0,48.3 128.1,48.3 128.2,46.5 128.3,43.7 128.4,43.5 128.5,49.8 128.6,46.2 128.8,46.0 128.9,45.9 129.0,43.9 129.1,46.4 129.2,49.8 129.3,48.9 129.4,52.0 129.5,48.4 129.7,49.8 129.8,48.7 129.9,42.1 130.0,41.2 130.1,49.9 130.2,52.5 130.3,57.9 130.5,49.9 130.6,50.0 130.7,52.5 130.8,52.9 130.9,45.5 131.0,49.0 131.1,55.2 131.2,44.9 131.4,49.4 131.5,44.6 131.6,52.4 131.7,56.4 131.8,54.0 131.9,55.1 132.0,56.8 132.2,49.1 132.3,52.0 132.4,57.5 132.5,47.5 132.6,50.6 132.7,48.3 132.8,50.6 132.9,59.1 133.1,44.3 133.2,48.2 133.3,50.4 133.4,48.8 133.5,43.2 133.6,46.5 133.7,49.3 133.9,48.3 134.0,53.4 134.1,48.0 134.2,49.6 134.3,45.6 134.4,49.7 134.5,49.5 134.6,55.9 134.8,51.2 134.9,53.8 135.0,53.5 135.1,49.2 135.2,48.0 135.3,45.9 135.4,50.9 135.6,44.8 135.7,31.9 135.8,48.6 135.9,50.2 136.0,46.0 136.1,50.2 136.2,45.0 136.3,55.1 136.5,51.6 136.6,51.6 136.7,49.2 136.8,45.8 136.9,49.1 137.0,48.4 137.1,45.5 137.3,49.8 137.4,47.7 137.5,54.8 137.6,51.9 137.7,53.6 137.8,50.3 137.9,54.5 138.0,54.3 138.2,61.8 138.3,47.6 138.4,54.3 138.5,51.4 138.6,55.7 138.7,45.6 138.8,48.3 139.0,46.6 139.1,54.0 139.2,50.5 139.3,46.6 139.4,54.9 139.5,44.3 139.6,48.8 139.7,51.7 139.9,55.7 140.0,50.5 140.1,54.7 140.2,60.2 140.3,57.6 140.4,60.7 140.5,56.4 140.7,51.1 140.8,55.7 140.9,52.2 141.0,56.2 141.1,53.9 141.2,44.3 141.3,55.4 141.4,58.3 141.6,54.2 141.7,49.4 141.8,53.0 141.9,59.1 142.0,59.0 142.1,61.6 142.2,57.4 142.4,55.8 142.5,57.4 142.6,63.3 142.7,58.5 142.8,62.1 142.9,62.7 143.0,58.0 143.1,57.9 143.3,62.6 143.4,60.4 143.5,63.0 143.6,63.3 143.7,56.4 143.8,55.1 143.9,46.6 144.0,51.2 144.2,51.4 144.3,53.3 144.4,55.8 144.5,58.9 144.6,50.4 144.7,52.3 144.8,52.5 145.0,48.4 145.1,53.8 145.2,51.5 145.3,46.2 145.4,56.9 145.5,55.7 145.6,49.1 145.7,51.0 145.9,49.9 146.0,59.6 146.1,61.7 146.2,51.3 146.3,53.1 146.4,58.3 146.5,67.9 146.7,50.8 146.8,53.0 146.9,53.9 147.0,63.5 147.1,52.7 147.2,55.1 147.3,56.9 147.4,53.0 147.6,59.1 147.7,61.5 147.8,59.9 147.9,52.6 148.0,61.6 148.1,59.5 148.2,60.1 148.4,60.1 148.5,57.6 148.6,61.6 148.7,49.7 148.8,55.8 148.9,58.5 149.0,48.8 149.1,52.6 149.3,51.6 149.4,56.7 149.5,58.3 149.6,60.6 149.7,56.6 149.8,51.0 149.9,60.5 150.1,55.3 150.2,57.1 150.3,52.9 150.4,55.9 150.5,56.9 150.6,54.0 150.7,56.7 150.8,53.8 151.0,57.2 151.1,58.6 151.2,57.4 151.3,53.8 151.4,51.2 151.5,50.3 151.6,50.0 151.8,47.5 151.9,51.9 152.0,49.1 152.1,53.0 152.2,54.3 152.3,53.3 152.4,51.0 152.5,58.8 152.7,55.1 152.8,56.9 152.9,59.0 153.0,57.2 153.1,54.9 153.2,51.5 153.3,60.8 153.5,54.1 153.6,62.0 153.7,54.5 153.8,55.6 153.9,59.2 154.0,51.4 154.1,63.3 154.2,58.5 154.4,62.5 154.5,59.7 154.6,63.6 154.7,60.4 154.8,57.1 154.9,54.2 155.0,54.4 155.2,62.4 155.3,59.6 155.4,56.4 155.5,54.4 155.6,57.3 155.7,65.0 155.8,58.1 155.9,54.8 156.1,56.5 156.2,47.7 156.3,69.6 156.4,65.6 156.5,65.1 156.6,58.3 156.7,57.3 156.9,66.7 157.0,60.9 157.1,57.0 157.2,59.0 157.3,57.8 157.4,59.8 157.5,60.4 157.6,64.3 157.8,66.8 157.9,57.4 158.0,58.4 158.1,58.5 158.2,62.3 158.3,55.4 158.4,50.2 158.6,58.6 158.7,49.2 158.8,55.6 158.9,65.8 159.0,57.7 159.1,55.7 159.2,50.0 159.3,55.5 159.5,61.4 159.6,59.4 159.7,58.5 159.8,49.8 159.9,55.9 160.0,58.2 160.1,50.4 160.2,48.6 160.4,58.3 160.5,52.6 160.6,48.9 160.7,46.8 160.8,44.0 160.9,44.8 161.0,49.1 161.2,56.4 161.3,48.8 161.4,52.6 161.5,54.8 161.6,57.4 161.7,55.5 161.8,59.0 161.9,57.0 162.1,53.4 162.2,54.5 162.3,59.7 162.4,53.8 162.5,54.4 162.6,57.2 162.7,55.2 162.9,56.4 163.0,51.3 163.1,46.3 163.2,52.3 163.3,45.5 163.4,55.7 163.5,55.3 163.6,48.5 163.8,54.2 163.9,52.0 164.0,51.5 164.1,53.4 164.2,42.3 164.3,50.6 164.4,46.8 164.6,48.6 164.7,47.4 164.8,42.1 164.9,59.1 165.0,55.8 165.1,56.8 165.2,51.4 165.3,47.1 165.5,45.1 165.6,50.9 165.7,47.2 165.8,48.2 165.9,48.5 166.0,51.4 166.1,50.1 166.3,48.3 166.4,45.6 166.5,51.0 166.6,49.2 166.7,58.9 166.8,63.5 166.9,51.3 167.0,49.8 167.2,51.4 167.3,50.1 167.4,46.4 167.5,45.2 167.6,41.4 167.7,48.2 167.8,52.6 168.0,47.6 168.1,43.2 168.2,44.0 168.3,51.9 168.4,50.2 168.5,45.4 168.6,49.8 168.7,47.3 168.9,46.9 169.0,49.2 169.1,48.7 169.2,49.8 169.3,51.3 169.4,50.2 169.5,45.4 169.7,49.2 169.8,49.0 169.9,43.7 170.0,54.3 170.1,45.8 170.2,50.9 170.3,46.4 170.4,46.4 170.6,45.3 170.7,51.9 170.8,52.1 170.9,46.6 171.0,47.4 171.1,54.7 171.2,41.4 171.4,48.7 171.5,43.9 171.6,49.1 171.7,43.2 171.8,43.7 171.9,35.1 172.0,44.0 172.1,48.8 172.3,46.4 172.4,55.5 172.5,45.5 172.6,44.3 172.7,49.6 172.8,49.1 172.9,53.8 173.1,48.3 173.2,46.9 173.3,55.2 173.4,45.7 173.5,51.0 173.6,39.4 173.7,53.7 173.8,45.1 174.0,42.2 174.1,50.3 174.2,51.7 174.3,45.9 174.4,44.3 174.5,47.9 174.6,49.3 174.8,51.6 174.9,52.9 175.0,52.7 175.1,47.2 175.2,51.6 175.3,50.6 175.4,50.1 175.5,55.3 175.7,52.8 175.8,41.2 175.9,56.1 176.0,50.6 176.1,48.4 176.2,50.6 176.3,50.9 176.4,41.7 176.6,54.9 176.7,44.2 176.8,54.6 176.9,54.5 177.0,47.2 177.1,47.4 177.2,41.1 177.4,46.1 177.5,47.8 177.6,47.3 177.7,48.8 177.8,51.4 177.9,48.7 178.0,43.9 178.1,47.7 178.3,50.5 178.4,43.9 178.5,48.5 178.6,35.4 178.7,46.5 178.8,38.9 178.9,42.7 179.1,39.2 179.2,38.9 179.3,47.1 179.4,43.4 179.5,43.0 179.6,52.2 179.7,40.9 179.8,45.0 180.0,45.5 180.1,42.3 180.2,46.0 180.3,48.4 180.4,45.5 180.5,52.1 180.6,37.3 180.8,50.8 180.9,41.6 181.0,48.1 181.1,45.4 181.2,44.3 181.3,53.0 181.4,49.9 181.5,60.3 181.7,48.5 181.8,46.2 181.9,50.0 182.0,51.1 182.1,53.3 182.2,61.0 182.3,55.3 182.5,51.1 182.6,45.8 182.7,48.6 182.8,51.4 182.9,51.0 183.0,47.7 183.1,43.7 183.2,51.3 183.4,46.5 183.5,47.3 183.6,47.0 183.7,47.9 183.8,54.6 183.9,54.2 184.0,47.9 184.2,43.6 184.3,43.3 184.4,46.8 184.5,50.7 184.6,49.1 184.7,51.7 184.8,46.4 184.9,40.5 185.1,42.1 185.2,35.2 185.3,46.4 185.4,45.3 185.5,46.9 185.6,47.8 185.7,49.8 185.9,49.9 186.0,45.5 186.1,49.4 186.2,48.8 186.3,45.9 186.4,51.1 186.5,54.7 186.6,48.8 186.8,46.6 186.9,49.6 187.0,50.3 187.1,53.1 187.2,49.1 187.3,42.2 187.4,53.5 187.6,48.7 187.7,47.7 187.8,49.1 187.9,49.8 188.0,41.8 188.1,42.9 188.2,48.2 188.3,39.8 188.5,38.6 188.6,46.9 188.7,49.9 188.8,48.8 188.9,47.4 189.0,47.7 189.1,51.2 189.3,51.5 189.4,46.7 189.5,49.2 189.6,48.5 189.7,50.4 189.8,46.9 189.9,54.6 190.0,48.3 190.2,48.1 190.3,48.6 190.4,51.2 190.5,47.9 190.6,49.6 190.7,45.7 190.8,46.3 190.9,48.8 191.1,46.6 191.2,46.4 191.3,48.0 191.4,45.3 191.5,54.7 191.6,51.7 191.7,43.6 191.9,42.5 192.0,40.3 192.1,40.9 192.2,46.3 192.3,52.6 192.4,44.1 192.5,47.2 192.6,46.4 192.8,47.0 192.9,47.2 193.0,43.3 193.1,49.1 193.2,48.7 193.3,46.2 193.4,42.6 193.6,48.3 193.7,42.9 193.8,47.1 193.9,45.2 194.0,41.9 194.1,43.0 194.2,48.0 194.3,49.4 194.5,46.8 194.6,45.9 194.7,47.9 194.8,48.1 194.9,47.6 195.0,44.7 195.1,41.6 195.3,53.7 195.4,46.7 195.5,50.6 195.6,47.5 195.7,46.1 195.8,50.7 195.9,49.5 196.0,52.4 196.2,51.0 196.3,51.9 196.4,50.0 196.5,43.2 196.6,44.1 196.7,40.4 196.8,45.8 197.0,48.9 197.1,45.2 197.2,48.4 197.3,45.6 197.4,49.1 197.5,47.2 197.6,46.8 197.7,45.3 197.9,52.0 198.0,48.4 198.1,48.1 198.2,51.2 198.3,46.2 198.4,49.8 198.5,48.3 198.7,45.7 198.8,54.8 198.9,57.4 199.0,52.5 199.1,57.3 199.2,46.7 199.3,53.5 199.4,45.5 199.6,51.8 199.7,55.5 199.8,55.4 199.9,48.9 200.0,46.8 200.1,51.8 200.2,55.7 200.4,52.4 200.5,49.4 200.6,47.7 200.7,54.9 200.8,54.3 200.9,46.3 201.0,46.7 201.1,54.7 201.3,59.1 201.4,51.3 201.5,66.5 201.6,53.1 201.7,55.3 201.8,47.0 201.9,53.3 202.1,53.4 202.2,38.7 202.3,47.2 202.4,51.9 202.5,52.0 202.6,52.9 202.7,58.3 202.8,48.8 203.0,51.2 203.1,45.4 203.2,48.7 203.3,43.0 203.4,47.2 203.5,45.5 203.6,46.8 203.8,49.9 203.9,52.3 204.0,57.7 204.1,45.3 204.2,52.3 204.3,40.3 204.4,51.1 204.5,58.1 204.7,53.2 204.8,49.3 204.9,50.2 205.0,51.5 205.1,46.9 205.2,46.8 205.3,47.4 205.5,46.6 205.6,46.3 205.7,49.8 205.8,47.5 205.9,47.1 206.0,44.0 206.1,54.1 206.2,54.9 206.4,51.7 206.5,50.0 206.6,53.8 206.7,51.3 206.8,51.2 206.9,47.4 207.0,45.8 207.1,50.1 207.3,56.5 207.4,54.2 207.5,51.2 207.6,49.2 207.7,46.9 207.8,53.0 207.9,47.0 208.1,43.3 208.2,54.4 208.3,49.9 208.4,51.1 208.5,49.5 208.6,49.2 208.7,53.1 208.8,41.6 209.0,51.8 209.1,49.3 209.2,49.4 209.3,49.8 209.4,51.6 209.5,51.7 209.6,53.5 209.8,53.0 209.9,45.8 210.0,56.8 210.1,53.6 210.2,53.8 210.3,54.9 210.4,50.0 210.5,54.0 210.7,55.0 210.8,57.0 210.9,50.1 211.0,51.5 211.1,54.3 211.2,49.5 211.3,50.2 211.5,47.0 211.6,55.7 211.7,61.1 211.8,56.8 211.9,54.3 212.0,54.5 212.1,48.7 212.2,48.1 212.4,48.5 212.5,50.8 212.6,52.4 212.7,43.9 212.8,50.3 212.9,51.9 213.0,47.4 213.2,45.3 213.3,54.3 213.4,45.3 213.5,48.4 213.6,52.4 213.7,51.8 213.8,42.1 213.9,40.0 214.1,48.4 214.2,45.6 214.3,48.7 214.4,49.0 214.5,51.4 214.6,52.0 214.7,49.1 214.9,48.2 215.0,44.9 215.1,44.7 215.2,46.3 215.3,46.4 215.4,40.5 215.5,49.4 215.6,45.7 215.8,40.9 215.9,48.5 216.0,39.9 216.1,47.9 216.2,46.8 216.3,47.0 216.4,46.0 216.6,49.8 216.7,45.3 216.8,43.8 216.9,44.2 217.0,46.0 217.1,50.8 217.2,43.0 217.3,49.3 217.5,44.1 217.6,48.0 217.7,42.4 217.8,44.9 217.9,47.3 218.0,54.9 218.1,50.6 218.3,46.7 218.4,51.6 218.5,49.7 218.6,53.0 218.7,43.7 218.8,51.2 218.9,43.4 219.0,50.5 219.2,54.8 219.3,45.0 219.4,48.7 219.5,51.3 219.6,51.1 219.7,42.5 219.8,43.7 220.0,43.6 220.1,40.2 220.2,46.4 220.3,46.7 220.4,52.8 220.5,49.3 220.6,49.0 220.7,46.4 220.9,46.5 221.0,49.2 221.1,48.9 221.2,59.9 221.3,51.0 221.4,41.5 221.5,48.5 221.7,49.5 221.8,47.1 221.9,46.0 222.0,53.4 222.1,50.8 222.2,48.2 222.3,50.4 222.4,48.1 222.6,53.6 222.7,41.6 222.8,52.0 222.9,51.7 223.0,46.3 223.1,43.1 223.2,47.6 223.3,49.9 223.5,47.4 223.6,59.0 223.7,49.1 223.8,43.1 223.9,50.6 224.0,42.4 224.1,45.6 224.3,49.5 224.4,48.3 224.5,46.5 224.6,42.3 224.7,51.1 224.8,54.9 224.9,47.7 225.0,38.6 225.2,51.2 225.3,47.6 225.4,49.3 225.5,48.6 225.6,40.6 225.7,42.8 225.8,52.4 226.0,48.6 226.1,45.0 226.2,43.0 226.3,45.0 226.4,49.1 226.5,51.5 226.6,46.9 226.7,43.6 226.9,48.2 227.0,51.2 227.1,42.6 227.2,50.1 227.3,46.4 227.4,45.6 227.5,52.0 227.7,43.9 227.8,55.1 227.9,51.8 228.0,47.2 228.1,43.5 228.2,44.1 228.3,50.9 228.4,47.7 228.6,52.9 228.7,55.1 228.8,45.9 228.9,49.4 229.0,48.0 229.1,55.0 229.2,50.4 229.4,60.2 229.5,52.3 229.6,50.7 229.7,45.4 229.8,51.5 229.9,49.7 230.0,46.5 230.1,42.0 230.3,46.9 230.4,49.7 230.5,56.9 230.6,54.0 230.7,55.7 230.8,60.9 230.9,52.8 231.1,58.0 231.2,54.5 231.3,58.3 231.4,53.3 231.5,60.8 231.6,57.3 231.7,50.4 231.8,57.6 232.0,60.9 232.1,59.7 232.2,59.8 232.3,58.0 232.4,54.7 232.5,56.4 232.6,56.8 232.8,63.9 232.9,60.8 233.0,56.9 233.1,51.9 233.2,49.5 233.3,47.5 233.4,52.2 233.5,51.3 233.7,50.4 233.8,45.3 233.9,51.3 234.0,53.2 234.1,51.0 234.2,49.2 234.3,49.3 234.5,55.8 234.6,51.0 234.7,57.2 234.8,51.6 234.9,59.0 235.0,60.3 235.1,64.3 235.2,48.8 235.4,57.2 235.5,52.9 235.6,55.9 235.7,63.9 235.8,56.0 235.9,57.7 236.0,56.4 236.2,57.3 236.3,54.5 236.4,49.5 236.5,55.4 236.6,52.9 236.7,58.8 236.8,57.8 236.9,57.8 237.1,55.0 237.2,57.7 237.3,57.7 237.4,58.4 237.5,59.7 237.6,52.7 237.7,59.1 237.9,48.9 238.0,52.7 238.1,48.9 238.2,48.5 238.3,58.8 238.4,59.1 238.5,57.9 238.6,55.1 238.8,56.7 238.9,60.8 239.0,59.3 239.1,63.5 239.2,64.3 239.3,57.4 239.4,56.1 239.5,53.9 239.7,58.4 239.8,55.3 239.9,54.2 240.0,53.7 240.1,55.3 240.2,58.0 240.3,54.3 240.5,50.5 240.6,58.4 240.7,57.8 240.8,59.6 240.9,59.9 241.0,58.3 241.1,61.7 241.2,49.2 241.4,59.5 241.5,60.4 241.6,56.2 241.7,53.2 241.8,52.3 241.9,48.5 242.0,55.9 242.2,60.3 242.3,62.7 242.4,59.8 242.5,57.5 242.6,61.5 242.7,69.9 242.8,63.4 242.9,58.8 243.1,63.2 243.2,65.4 243.3,65.2 243.4,56.3 243.5,53.4 243.6,56.8 243.7,62.2 243.9,61.1 244.0,51.3 244.1,50.5 244.2,50.5 244.3,55.9 244.4,60.0 244.5,52.5 244.6,52.5 244.8,60.1 244.9,66.0 245.0,64.3 245.1,61.9 245.2,64.6 245.3,63.4 245.4,70.7 245.6,63.5 245.7,71.3 245.8,65.7 245.9,66.0 246.0,63.7 246.1,59.3 246.2,61.9 246.3,57.4 246.5,62.4 246.6,60.0 246.7,62.0 246.8,62.8 246.9,66.2 247.0,64.8 247.1,67.9 247.3,66.3 247.4,68.0 247.5,60.3 247.6,65.9 247.7,56.3 247.8,57.0 247.9,58.9 248.0,54.8 248.2,61.9 248.3,65.7 248.4,63.0 248.5,62.2 248.6,61.5 248.7,63.9 248.8,59.4 249.0,64.5 249.1,58.2 249.2,61.5 249.3,58.3 249.4,58.8 249.5,64.1 249.6,58.1 249.7,66.7 249.9,64.4 250.0,63.2 250.1,65.0 250.2,60.3 250.3,60.8 250.4,61.5 250.5,64.7 250.7,68.7 250.8,65.4 250.9,65.5 251.0,58.0 251.1,63.6 251.2,59.8 251.3,61.2 251.4,65.9 251.6,61.4 251.7,58.2 251.8,56.1 251.9,52.7 252.0,54.1 252.1,52.4 252.2,61.3 252.4,56.5 252.5,57.1 252.6,63.8 252.7,60.5 252.8,62.5 252.9,57.0 253.0,62.8 253.1,69.8 253.3,63.8 253.4,53.4 253.5,66.3 253.6,60.4 253.7,60.5 253.8,60.6 253.9,58.9 254.0,66.0 254.2,64.3 254.3,65.0 254.4,63.1 254.5,67.8 254.6,68.1 254.7,60.1 254.8,59.9 255.0,62.2 255.1,63.4 255.2,61.4 255.3,63.4 255.4,62.0 255.5,68.6 255.6,67.2 255.7,63.6 255.9,60.9 256.0,59.0 256.1,58.0 256.2,64.7 256.3,58.5 256.4,55.2 256.5,61.8 256.7,63.2 256.8,63.3 256.9,59.9 257.0,68.2 257.1,58.6 257.2,60.1 257.3,62.9 257.4,61.7 257.6,59.5 257.7,60.8 257.8,66.7 257.9,68.0 258.0,69.2 258.1,63.3 258.2,62.6 258.4,57.8 258.5,63.4 258.6,60.9 258.7,69.2 258.8,68.1 258.9,67.7 259.0,74.2 259.1,61.1 259.3,69.7 259.4,55.2 259.5,66.4 259.6,62.4 259.7,62.9 259.8,57.2 259.9,67.3 260.1,64.3 260.2,65.1 260.3,61.7 260.4,65.7 260.5,71.3 260.6,69.2 260.7,69.0 260.8,63.8 261.0,73.7 261.1,59.9 261.2,70.2 261.3,65.4 261.4,65.5 261.5,65.7 261.6,73.5 261.8,65.7 261.9,72.4 262.0,67.4 262.1,68.9 262.2,68.7 262.3,59.0 262.4,73.2 262.5,60.5 262.7,65.9 262.8,73.3 262.9,65.2 263.0,64.1 263.1,67.8 263.2,63.9 263.3,58.3 263.5,65.3 263.6,65.1 263.7,52.9 263.8,62.4 263.9,62.8 264.0,61.5 264.1,67.3 264.2,68.1 264.4,61.9 264.5,65.0 264.6,67.0 264.7,71.0 264.8,66.6 264.9,61.2 265.0,61.2 265.2,70.5 265.3,68.0 265.4,67.6 265.5,65.1 265.6,65.8 265.7,65.3 265.8,63.5 265.9,64.0 266.1,69.8 266.2,56.3 266.3,61.7 266.4,71.4 266.5,67.9 266.6,74.5 266.7,70.7 266.9,68.1 267.0,66.0 267.1,60.4 267.2,62.2 267.3,64.2 267.4,62.8 267.5,64.1 267.6,60.6 267.8,56.7 267.9,51.5 268.0,56.7 268.1,61.5 268.2,54.0 268.3,62.8 268.4,62.1 268.6,56.0 268.7,49.3 268.8,61.3 268.9,53.3 269.0,59.6 269.1,57.3 269.2,61.4 269.3,61.9 269.5,59.5 269.6,65.1 269.7,65.5 269.8,59.2 269.9,60.9 270.0,59.8 270.1,63.6 270.2,61.3 270.4,62.8 270.5,61.8 270.6,53.9 270.7,65.1 270.8,64.6 270.9,62.6 271.0,63.7 271.2,69.7 271.3,63.9 271.4,57.5 271.5,58.3 271.6,59.9 271.7,63.7 271.8,65.0 271.9,67.9 272.1,63.8 272.2,57.7 272.3,63.7 272.4,58.5 272.5,55.9 272.6,66.6 272.7,60.7 272.9,62.4 273.0,63.9 273.1,66.9 273.2,59.4 273.3,68.5 273.4,68.1 273.5,58.6 273.6,64.4 273.8,69.8 273.9,65.2 274.0,57.2 274.1,59.0 274.2,61.5 274.3,64.7 274.4,56.4 274.6,60.5 274.7,62.5 274.8,63.3 274.9,63.5 275.0,61.4 275.1,71.6 275.2,66.1 275.3,65.2 275.5,68.3 275.6,62.8 275.7,64.7 275.8,65.5 275.9,61.6 276.0,65.7 276.1,62.4 276.3,66.2 276.4,57.9 276.5,64.2 276.6,63.3 276.7,62.9 276.8,57.1 276.9,63.5 277.0,61.7 277.2,62.6 277.3,71.4 277.4,59.3 277.5,62.0 277.6,68.0 277.7,65.9 277.8,57.1 278.0,58.2 278.1,58.7 278.2,66.0 278.3,57.7 278.4,55.9 278.5,64.0 278.6,60.8 278.7,56.1 278.9,65.9 279.0,62.6 279.1,60.3 279.2,70.9 279.3,67.8 279.4,75.2 279.5,65.7 279.7,60.3 279.8,63.1 279.9,66.1 280.0,66.1 280.1,62.3 280.2,63.1 280.3,58.9 280.4,60.0 280.6,62.3 280.7,59.3 280.8,62.0 280.9,60.0 281.0,64.7 281.1,61.4 281.2,60.3 281.4,53.4 281.5,53.6 281.6,63.9 281.7,62.7 281.8,62.8 281.9,67.0 282.0,65.4 282.1,60.9 282.3,68.8 282.4,60.3 282.5,64.8 282.6,62.3 282.7,63.4 282.8,66.4 282.9,62.7 283.1,67.3 283.2,66.7 283.3,57.9 283.4,65.7 283.5,57.3 283.6,68.3 283.7,58.7 283.8,77.3 284.0,67.6 284.1,72.7 284.2,68.3 284.3,66.3 284.4,71.5 284.5,67.3 284.6,63.4 284.8,64.2 284.9,67.1 285.0,61.5 285.1,60.7 285.2,71.5 285.3,66.5 285.4,74.0 285.5,70.2 285.7,66.0 285.8,63.0 285.9,64.3 286.0,66.4 286.1,62.1 286.2,59.8 286.3,63.6 286.4,60.6 286.6,64.0 286.7,61.4 286.8,54.4 286.9,59.8 287.0,65.7 287.1,64.1 287.2,58.8 287.4,62.2 287.5,52.2 287.6,63.0 287.7,57.5 287.8,57.5 287.9,56.7 288.0,56.9 288.1,60.4 288.3,60.8 288.4,64.5 288.5,64.4 288.6,59.5 288.7,61.2 288.8,60.8 288.9,63.2 289.1,67.9 289.2,58.9 289.3,56.9 289.4,62.1 289.5,59.1 289.6,66.6 289.7,63.6 289.8,72.7 290.0,69.7 290.1,69.9 290.2,66.2 290.3,67.0 290.4,65.4 290.5,65.2 290.6,59.7 290.8,57.9 290.9,65.6 291.0,59.6 291.1,58.7 291.2,59.0 291.3,63.5 291.4,62.4 291.5,65.6 291.7,66.7 291.8,64.4 291.9,61.3 292.0,61.3 292.1,64.7 292.2,61.2 292.3,62.2 292.5,57.9 292.6,54.4 292.7,52.3 292.8,67.9 292.9,44.1 293.0,49.3 293.1,60.8 293.2,54.5 293.4,59.9 293.5,50.0 293.6,63.8 293.7,55.7 293.8,56.7 293.9,55.1 294.0,56.5 294.2,63.7 294.3,65.3 294.4,61.2 294.5,62.8 294.6,63.9 294.7,57.8 294.8,62.8 294.9,62.8 295.1,53.6 295.2,61.3 295.3,64.5 295.4,66.1 295.5,63.5 295.6,64.8 295.7,64.6 295.9,63.0 296.0,63.3 296.1,62.3 296.2,57.2 296.3,66.4 296.4,61.9 296.5,58.8 296.6,65.0 296.8,61.0 296.9,55.6 297.0,58.8 297.1,63.7 297.2,61.8 297.3,64.1 297.4,60.5 297.6,58.6 297.7,68.0 297.8,63.6 297.9,63.6 298.0,61.9 298.1,73.1 298.2,70.5 298.3,69.4 298.5,68.0 298.6,68.7 298.7,61.5 298.8,63.5 298.9,65.3 299.0,72.5 299.1,60.7 299.3,73.8 299.4,63.9 299.5,68.5 299.6,63.5 299.7,65.4 299.8,62.6 299.9,63.0 300.0,60.3 300.2,60.0 300.3,61.9 300.4,54.5 300.5,63.6 300.6,73.6 300.7,52.6 300.8,52.3 300.9,61.0 301.1,68.8 301.2,65.6 301.3,73.3 301.4,69.1 301.5,65.2 301.6,61.1 301.7,64.4 301.9,58.7 302.0,57.4 302.1,57.4 302.2,60.6 302.3,57.1 302.4,55.9 302.5,61.2 302.6,54.7 302.8,58.6 302.9,55.2 303.0,63.1 303.1,64.1 303.2,60.1 303.3,49.7 303.4,60.0 303.6,58.0 303.7,55.6 303.8,54.0 303.9,52.5 304.0,55.2 304.1,56.9 304.2,54.3 304.3,53.6 304.5,56.8 304.6,65.4 304.7,68.6 304.8,64.0 304.9,58.8 305.0,56.1 305.1,59.4 305.3,63.2 305.4,63.4 305.5,61.1 305.6,63.5 305.7,52.5 305.8,64.7 305.9,71.4 306.0,54.2 306.2,56.7 306.3,65.4 306.4,63.0 306.5,66.0 306.6,53.2 306.7,58.8 306.8,57.6 307.0,64.8 307.1,62.3 307.2,52.8 307.3,63.9 307.4,63.8 307.5,53.9 307.6,58.0 307.7,59.7 307.9,64.5 308.0,62.3 308.1,67.5 308.2,51.5 308.3,56.8 308.4,54.8 308.5,57.5 308.7,59.5 308.8,56.4 308.9,60.9 309.0,60.0 309.1,59.6 309.2,57.5 309.3,61.7 309.4,56.9 309.6,57.6 309.7,64.3 309.8,63.4 309.9,60.4 310.0,66.4 310.1,58.8 310.2,56.7 310.4,66.1 310.5,58.9 310.6,62.4 310.7,65.2 310.8,63.2 310.9,64.9 311.0,60.8 311.1,66.6 311.3,59.7 311.4,65.7 311.5,60.0 311.6,68.4 311.7,69.3 311.8,61.8 311.9,67.3 312.1,67.9 312.2,56.8 312.3,69.4 312.4,60.8 312.5,66.3 312.6,58.5 312.7,64.2 312.8,66.3 313.0,55.7 313.1,65.5 313.2,53.1 313.3,62.5 313.4,63.6 313.5,62.9 313.6,59.6 313.8,60.6 313.9,57.7 314.0,59.1 314.1,64.3 314.2,58.4 314.3,61.6 314.4,64.7 314.5,56.9 314.7,65.4 314.8,62.3 314.9,62.8 315.0,63.8 315.1,63.4 315.2,60.8 315.3,64.6 315.5,62.3 315.6,63.0 315.7,60.6 315.8,58.0 315.9,56.5 316.0,67.7 316.1,61.2 316.2,65.9 316.4,64.7 316.5,76.8 316.6,63.8 316.7,72.2 316.8,71.2 316.9,69.0 317.0,61.0 317.1,71.5 317.3,68.6 317.4,69.5 317.5,63.6 317.6,64.0 317.7,60.0 317.8,63.5 317.9,67.7 318.1,62.3 318.2,62.3 318.3,62.0 318.4,63.1 318.5,60.6 318.6,61.8 318.7,57.7 318.8,68.4 319.0,60.3 319.1,60.0 319.2,62.1 319.3,58.8 319.4,63.1 319.5,72.3 319.6,67.6 319.8,60.7 319.9,59.0 320.0,60.3 320.1,66.2 320.2,62.3 320.3,61.2 320.4,63.2 320.5,62.6 320.7,61.2 320.8,65.1 320.9,59.8 321.0,60.8 321.1,58.9 321.2,61.1 321.3,69.0 321.5,61.3 321.6,59.7 321.7,60.7 321.8,55.2 321.9,63.4 322.0,55.4 322.1,58.5 322.2,55.1 322.4,57.8 322.5,67.3 322.6,65.3 322.7,60.8 322.8,60.9 322.9,61.4 323.0,66.5 323.2,60.9 323.3,64.6 323.4,57.7 323.5,59.8 323.6,68.0 323.7,55.7 323.8,64.7 323.9,66.0 324.1,63.6 324.2,71.8 324.3,61.0 324.4,64.4" fill="none" stroke="#FFA500" stroke-width="0.7" stroke-linejoin="round" />
<polyline points="41.3,104.6 41.4,110.2 41.5,108.7 41.6,110.9 41.8,103.4 41.9,107.6 42.0,107.8 42.1,107.4 42.2,106.8 42.3,101.7 42.4,98.3 42.5,106.4 42.7,107.6 42.8,104.9 42.9,106.9 43.0,105.4 43.1,100.2 43.2,100.7 43.3,100.2 43.5,105.1 43.6,99.9 43.7,98.9 43.8,96.3 43.9,99.9 44.0,102.0 44.1,99.1 44.2,99.1 44.4,100.8 44.5,97.1 44.6,96.5 44.7,94.3 44.8,98.0 44.9,101.5 45.0,91.2 45.2,89.8 45.3,98.8 45.4,101.3 45.5,93.7 45.6,97.8 45.7,106.1 45.8,95.3 45.9,97.3 46.1,96.3 46.2,94.1 46.3,100.0 46.4,99.6 46.5,91.4 46.6,89.2 46.7,91.8 46.9,85.9 47.0,89.0 47.1,87.7 47.2,93.4 47.3,89.7 47.4,85.0 47.5,93.5 47.6,92.7 47.8,92.6 47.9,92.1 48.0,93.1 48.1,97.2 48.2,85.0 48.3,90.9 48.4,84.0 48.6,95.4 48.7,91.9 48.8,90.6 48.9,87.1 49.0,96.4 49.1,86.0 49.2,90.0 49.3,88.4 49.5,89.7 49.6,82.0 49.7,91.5 49.8,80.2 49.9,86.2 50.0,86.0 50.1,87.6 50.2,82.3 50.4,87.4 50.5,86.4 50.6,85.6 50.7,78.7 50.8,78.6 50.9,84.0 51.0,80.4 51.2,78.2 51.3,79.0 51.4,82.1 51.5,87.4 51.6,77.6 51.7,80.5 51.8,87.2 51.9,86.5 52.1,95.8 52.2,83.3 52.3,87.1 52.4,81.9 52.5,75.2 52.6,86.1 52.7,77.0 52.9,81.5 53.0,83.1 53.1,75.2 53.2,78.1 53.3,81.7 53.4,76.4 53.5,79.7 53.6,76.4 53.8,73.1 53.9,66.7 54.0,80.2 54.1,80.4 54.2,73.4 54.3,80.9 54.4,80.4 54.6,78.7 54.7,80.4 54.8,80.6 54.9,79.9 55.0,80.2 55.1,77.3 55.2,77.4 55.3,71.3 55.5,74.3 55.6,76.1 55.7,72.4 55.8,70.8 55.9,68.9 56.0,71.1 56.1,73.4 56.3,74.1 56.4,80.7 56.5,71.2 56.6,74.4 56.7,76.2 56.8,75.3 56.9,66.0 57.0,77.6 57.2,71.1 57.3,83.5 57.4,73.5 57.5,66.0 57.6,73.4 57.7,74.6 57.8,79.9 58.0,83.8 58.1,73.4 58.2,72.0 58.3,71.2 58.4,67.7 58.5,74.9 58.6,75.3 58.7,85.4 58.9,78.1 59.0,76.9 59.1,73.2 59.2,71.7 59.3,72.0 59.4,74.4 59.5,77.0 59.7,76.5 59.8,75.0 59.9,73.2 60.0,67.0 60.1,75.8 60.2,79.5 60.3,78.7 60.4,63.5 60.6,68.1 60.7,73.5 60.8,71.4 60.9,67.8 61.0,67.0 61.1,68.4 61.2,77.7 61.4,75.3 61.5,71.0 61.6,65.9 61.7,66.7 61.8,60.0 61.9,67.1 62.0,68.3 62.1,69.4 62.3,65.1 62.4,72.8 62.5,62.6 62.6,74.6 62.7,66.2 62.8,67.9 62.9,63.4 63.1,74.9 63.2,76.0 63.3,74.4 63.4,72.5 63.5,71.3 63.6,81.9 63.7,73.6 63.8,71.1 64.0,68.9 64.1,69.0 64.2,71.0 64.3,71.3 64.4,81.5 64.5,69.7 64.6,85.0 64.8,75.3 64.9,77.8 65.0,71.2 65.1,76.6 65.2,71.0 65.3,72.7 65.4,72.1 65.5,70.7 65.7,70.2 65.8,75.3 65.9,71.7 66.0,74.3 66.1,73.1 66.2,78.0 66.3,87.4 66.4,79.6 66.6,76.1 66.7,75.3 66.8,78.7 66.9,74.3 67.0,77.3 67.1,73.6 67.2,70.0 67.4,74.7 67.5,73.7 67.6,80.6 67.7,79.3 67.8,76.1 67.9,79.8 68.0,74.3 68.1,73.2 68.3,68.7 68.4,77.1 68.5,70.2 68.6,78.7 68.7,72.7 68.8,68.8 68.9,72.1 69.1,82.8 69.2,73.4 69.3,67.4 69.4,75.2 69.5,71.3 69.6,69.9 69.7,67.2 69.8,60.8 70.0,72.0 70.1,70.1 70.2,61.0 70.3,62.3 70.4,62.6 70.5,66.2 70.6,62.3 70.8,75.1 70.9,66.5 71.0,72.7 71.1,73.2 71.2,70.3 71.3,61.6 71.4,58.6 71.5,65.9 71.7,65.9 71.8,59.8 71.9,65.9 72.0,63.7 72.1,61.8 72.2,58.5 72.3,64.6 72.5,74.6 72.6,64.5 72.7,59.1 72.8,64.4 72.9,65.8 73.0,68.1 73.1,61.8 73.2,65.7 73.4,64.8 73.5,64.1 73.6,60.8 73.7,62.2 73.8,63.4 73.9,69.0 74.0,66.3 74.2,67.3 74.3,62.8 74.4,63.2 74.5,68.1 74.6,61.3 74.7,62.6 74.8,65.6 74.9,62.7 75.1,71.8 75.2,68.4 75.3,61.2 75.4,66.8 75.5,69.1 75.6,66.9 75.7,67.9 75.9,76.2 76.0,73.7 76.1,72.9 76.2,69.0 76.3,65.7 76.4,58.6 76.5,66.9 76.6,72.1 76.8,68.9 76.9,69.8 77.0,67.0 77.1,67.3 77.2,64.9 77.3,69.8 77.4,66.3 77.6,64.8 77.7,68.3 77.8,68.7 77.9,75.0 78.0,69.4 78.1,73.9 78.2,76.0 78.3,72.6 78.5,72.9 78.6,66.9 78.7,67.3 78.8,60.4 78.9,62.0 79.0,63.3 79.1,64.8 79.3,65.0 79.4,63.1 79.5,71.7 79.6,69.7 79.7,72.9 79.8,63.5 79.9,64.8 80.0,67.0 80.2,64.1 80.3,78.0 80.4,68.7 80.5,63.2 80.6,65.3 80.7,73.4 80.8,66.7 80.9,64.1 81.1,69.8 81.2,71.0 81.3,68.4 81.4,74.5 81.5,63.9 81.6,69.4 81.7,66.5 81.9,66.7 82.0,65.9 82.1,59.3 82.2,66.5 82.3,65.4 82.4,72.4 82.5,71.0 82.6,76.5 82.8,64.1 82.9,68.1 83.0,70.9 83.1,67.0 83.2,72.7 83.3,69.2 83.4,73.3 83.6,71.8 83.7,68.7 83.8,68.7 83.9,68.2 84.0,69.2 84.1,70.3 84.2,60.2 84.3,64.7 84.5,67.4 84.6,63.5 84.7,68.3 84.8,61.7 84.9,67.7 85.0,59.2 85.1,58.5 85.3,61.2 85.4,61.9 85.5,64.9 85.6,57.8 85.7,61.5 85.8,68.7 85.9,67.7 86.0,59.0 86.2,68.6 86.3,63.3 86.4,66.6 86.5,59.8 86.6,62.9 86.7,63.8 86.8,65.9 87.0,65.2 87.1,60.3 87.2,65.2 87.3,69.6 87.4,54.9 87.5,56.5 87.6,64.0 87.7,58.5 87.9,57.3 88.0,60.6 88.1,53.9 88.2,55.9 88.3,60.8 88.4,62.2 88.5,57.6 88.7,56.7 88.8,62.6 88.9,56.9 89.0,63.2 89.1,57.1 89.2,67.8 89.3,60.4 89.4,53.9 89.6,54.7 89.7,63.5 89.8,71.5 89.9,59.8 90.0,55.9 90.1,61.9 90.2,63.6 90.4,69.2 90.5,68.2 90.6,71.4 90.7,71.2 90.8,67.4 90.9,61.6 91.0,63.7 91.1,70.1 91.3,66.4 91.4,71.6 91.5,71.8 91.6,67.1 91.7,73.2 91.8,67.7 91.9,71.6 92.1,63.8 92.2,70.2 92.3,65.5 92.4,67.5 92.5,63.4 92.6,72.9 92.7,69.2 92.8,68.1 93.0,68.9 93.1,63.3 93.2,62.8 93.3,64.8 93.4,65.1 93.5,64.9 93.6,64.1 93.8,57.2 93.9,60.6 94.0,57.9 94.1,59.9 94.2,54.1 94.3,57.3 94.4,57.3 94.5,58.5 94.7,64.9 94.8,60.8 94.9,61.6 95.0,63.1 95.1,62.6 95.2,62.2 95.3,71.3 95.5,63.6 95.6,67.1 95.7,67.3 95.8,64.0 95.9,62.9 96.0,63.3 96.1,65.6 96.2,61.7 96.4,64.0 96.5,61.2 96.6,60.8 96.7,61.6 96.8,64.3 96.9,66.3 97.0,54.4 97.1,61.2 97.3,54.8 97.4,56.4 97.5,49.6 97.6,56.0 97.7,58.9 97.8,64.3 97.9,55.6 98.1,56.3 98.2,58.9 98.3,58.1 98.4,52.3 98.5,53.8 98.6,52.9 98.7,58.3 98.8,56.8 99.0,55.7 99.1,61.1 99.2,56.1 99.3,61.2 99.4,51.2 99.5,61.7 99.6,61.4 99.8,59.8 99.9,60.9 100.0,62.4 100.1,63.4 100.2,59.0 100.3,64.4 100.4,58.8 100.5,60.5 100.7,64.6 100.8,65.3 100.9,55.8 101.0,71.5 101.1,64.4 101.2,63.4 101.3,62.4 101.5,64.6 101.6,62.0 101.7,62.9 101.8,60.9 101.9,68.5 102.0,62.8 102.1,56.0 102.2,65.2 102.4,61.8 102.5,67.8 102.6,61.0 102.7,67.9 102.8,60.5 102.9,67.8 103.0,62.1 103.2,66.0 103.3,63.4 103.4,62.0 103.5,54.2 103.6,62.2 103.7,62.8 103.8,58.6 103.9,63.6 104.1,69.4 104.2,63.0 104.3,64.1 104.4,60.3 104.5,63.2 104.6,71.5 104.7,64.3 104.9,54.8 105.0,62.2 105.1,73.7 105.2,73.2 105.3,69.8 105.4,73.9 105.5,80.9 105.6,65.5 105.8,72.3 105.9,70.2 106.0,69.1 106.1,67.3 106.2,66.7 106.3,60.8 106.4,66.5 106.6,63.4 106.7,63.3 106.8,54.4 106.9,60.9 107.0,72.4 107.1,59.2 107.2,59.2 107.3,61.7 107.5,69.0 107.6,59.7 107.7,64.4 107.8,66.6 107.9,67.2 108.0,59.0 108.1,66.5 108.3,63.8 108.4,65.1 108.5,59.3 108.6,63.9 108.7,60.8 108.8,64.0 108.9,55.2 109.0,64.2 109.2,60.7 109.3,58.7 109.4,60.4 109.5,70.9 109.6,65.1 109.7,63.3 109.8,63.7 110.0,65.0 110.1,58.4 110.2,58.6 110.3,67.2 110.4,69.1 110.5,64.5 110.6,65.2 110.7,60.9 110.9,66.2 111.0,64.4 111.1,68.9 111.2,61.8 111.3,53.1 111.4,52.4 111.5,57.9 111.7,61.9 111.8,62.9 111.9,58.8 112.0,60.0 112.1,64.3 112.2,66.9 112.3,67.7 112.4,63.7 112.6,57.7 112.7,66.6 112.8,66.2 112.9,62.0 113.0,64.5 113.1,58.2 113.2,65.9 113.3,62.7 113.5,63.5 113.6,59.4 113.7,60.8 113.8,65.3 113.9,64.2 114.0,64.9 114.1,60.6 114.3,62.2 114.4,63.0 114.5,67.7 114.6,70.9 114.7,70.3 114.8,69.3 114.9,67.1 115.0,68.1 115.2,64.9 115.3,73.8 115.4,69.9 115.5,69.8 115.6,72.1 115.7,73.2 115.8,66.8 116.0,59.0 116.1,69.4 116.2,60.7 116.3,62.9 116.4,67.4 116.5,69.2 116.6,71.2 116.7,69.0 116.9,60.8 117.0,60.4 117.1,62.3 117.2,64.3 117.3,66.5 117.4,63.8 117.5,69.7 117.7,67.1 117.8,59.9 117.9,65.9 118.0,56.5 118.1,57.8 118.2,59.7 118.3,58.4 118.4,58.4 118.6,50.3 118.7,66.1 118.8,64.7 118.9,69.5 119.0,60.6 119.1,58.8 119.2,56.6 119.4,68.3 119.5,62.6 119.6,67.5 119.7,63.1 119.8,60.4 119.9,70.5 120.0,63.1 120.1,65.2 120.3,62.1 120.4,59.6 120.5,71.3 120.6,66.4 120.7,71.0 120.8,73.7 120.9,67.1 121.1,65.2 121.2,70.2 121.3,70.5 121.4,61.5 121.5,65.9 121.6,64.4 121.7,65.5 121.8,68.8 122.0,58.6 122.1,66.5 122.2,69.8 122.3,70.0 122.4,72.7 122.5,70.1 122.6,67.2 122.8,66.6 122.9,65.8 123.0,73.8 123.1,69.4 123.2,70.3 123.3,70.1 123.4,72.7 123.5,69.1 123.7,70.7 123.8,66.0 123.9,73.3 124.0,69.2 124.1,77.8 124.2,69.9 124.3,64.1 124.5,68.1 124.6,66.5 124.7,69.1 124.8,71.2 124.9,67.3 125.0,67.4 125.1,66.6 125.2,70.5 125.4,71.1 125.5,78.1 125.6,69.0 125.7,72.9 125.8,69.4 125.9,65.4 126.0,67.6 126.2,69.2 126.3,73.8 126.4,71.4 126.5,73.3 126.6,72.4 126.7,72.5 126.8,63.4 126.9,73.0 127.1,66.9 127.2,67.4 127.3,65.7 127.4,68.5 127.5,74.3 127.6,71.0 127.7,62.8 127.8,63.7 128.0,69.7 128.1,65.4 128.2,67.4 128.3,63.0 128.4,71.6 128.5,66.4 128.6,64.7 128.8,67.4 128.9,58.7 129.0,69.6 129.1,70.3 129.2,67.0 129.3,73.6 129.4,70.8 129.5,74.2 129.7,71.0 129.8,68.1 129.9,75.3 130.0,70.1 130.1,67.7 130.2,69.0 130.3,68.2 130.5,67.9 130.6,73.1 130.7,67.1 130.8,67.9 130.9,71.6 131.0,67.3 131.1,72.3 131.2,78.5 131.4,69.0 131.5,73.8 131.6,68.2 131.7,77.7 131.8,71.7 131.9,76.3 132.0,76.4 132.2,73.5 132.3,71.3 132.4,70.2 132.5,67.1 132.6,65.1 132.7,73.1 132.8,69.9 132.9,59.0 133.1,62.0 133.2,70.3 133.3,71.0 133.4,62.5 133.5,75.0 133.6,66.4 133.7,80.0 133.9,73.4 134.0,78.0 134.1,70.5 134.2,63.7 134.3,66.9 134.4,62.8 134.5,62.3 134.6,58.3 134.8,64.1 134.9,75.7 135.0,72.7 135.1,64.4 135.2,67.6 135.3,66.8 135.4,74.7 135.6,75.1 135.7,81.6 135.8,76.2 135.9,71.4 136.0,76.3 136.1,82.1 136.2,71.0 136.3,78.6 136.5,76.9 136.6,76.8 136.7,78.1 136.8,82.0 136.9,73.3 137.0,76.1 137.1,75.0 137.3,66.7 137.4,69.6 137.5,69.0 137.6,78.0 137.7,65.6 137.8,74.2 137.9,77.2 138.0,75.6 138.2,77.2 138.3,75.8 138.4,72.9 138.5,69.8 138.6,75.3 138.7,73.3 138.8,74.2 139.0,73.0 139.1,78.3 139.2,65.0 139.3,75.8 139.4,75.1 139.5,68.6 139.6,75.8 139.7,76.7 139.9,72.2 140.0,62.3 140.1,71.5 140.2,78.0 140.3,71.4 140.4,70.9 140.5,73.5 140.7,71.8 140.8,80.8 140.9,71.6 141.0,70.9 141.1,71.9 141.2,75.3 141.3,68.5 141.4,68.3 141.6,65.5 141.7,73.9 141.8,70.2 141.9,68.1 142.0,66.5 142.1,77.4 142.2,75.1 142.4,76.1 142.5,72.6 142.6,72.3 142.7,64.1 142.8,64.3 142.9,69.4 143.0,66.0 143.1,69.1 143.3,71.8 143.4,73.0 143.5,72.1 143.6,60.4 143.7,70.1 143.8,71.4 143.9,68.8 144.0,81.1 144.2,73.5 144.3,74.6 144.4,67.2 144.5,70.3 144.6,80.1 144.7,79.9 144.8,71.2 145.0,72.9 145.1,78.0 145.2,74.6 145.3,67.9 145.4,73.8 145.5,69.1 145.6,70.6 145.7,74.0 145.9,70.6 146.0,81.1 146.1,82.5 146.2,77.0 146.3,83.4 146.4,73.1 146.5,74.8 146.7,75.6 146.8,77.0 146.9,77.4 147.0,82.5 147.1,76.5 147.2,75.5 147.3,72.1 147.4,71.8 147.6,66.4 147.7,70.7 147.8,76.5 147.9,72.1 148.0,65.7 148.1,71.4 148.2,69.9 148.4,67.0 148.5,73.9 148.6,68.4 148.7,62.7 148.8,70.7 148.9,74.0 149.0,70.2 149.1,70.6 149.3,75.0 149.4,68.6 149.5,71.3 149.6,80.0 149.7,70.0 149.8,75.4 149.9,72.8 150.1,71.1 150.2,74.8 150.3,76.4 150.4,78.1 150.5,72.3 150.6,68.9 150.7,75.8 150.8,70.5 151.0,63.3 151.1,73.5 151.2,53.5 151.3,66.6 151.4,72.4 151.5,67.0 151.6,70.8 151.8,66.6 151.9,75.4 152.0,67.9 152.1,76.0 152.2,67.8 152.3,64.4 152.4,70.7 152.5,67.0 152.7,72.3 152.8,66.1 152.9,71.9 153.0,69.5 153.1,71.3 153.2,77.1 153.3,76.1 153.5,75.0 153.6,65.4 153.7,74.0 153.8,74.2 153.9,76.2 154.0,71.9 154.1,74.6 154.2,68.9 154.4,73.5 154.5,77.9 154.6,72.1 154.7,80.5 154.8,65.9 154.9,78.3 155.0,83.9 155.2,73.1 155.3,69.7 155.4,69.8 155.5,72.1 155.6,76.4 155.7,75.8 155.8,74.4 155.9,70.3 156.1,68.3 156.2,67.5 156.3,66.8 156.4,79.3 156.5,72.4 156.6,67.0 156.7,75.0 156.9,71.6 157.0,74.5 157.1,71.9 157.2,73.2 157.3,80.3 157.4,70.4 157.5,69.7 157.6,74.7 157.8,78.9 157.9,73.7 158.0,80.3 158.1,71.5 158.2,77.1 158.3,79.9 158.4,75.8 158.6,66.7 158.7,73.8 158.8,74.2 158.9,70.4 159.0,73.1 159.1,65.1 159.2,74.5 159.3,66.9 159.5,64.5 159.6,65.0 159.7,69.3 159.8,72.3 159.9,73.1 160.0,74.3 160.1,72.7 160.2,72.2 160.4,69.1 160.5,74.0 160.6,77.1 160.7,67.8 160.8,69.4 160.9,70.2 161.0,64.5 161.2,72.8 161.3,70.2 161.4,68.5 161.5,62.9 161.6,71.8 161.7,70.7 161.8,65.3 161.9,75.4 162.1,65.5 162.2,63.9 162.3,70.8 162.4,74.2 162.5,71.3 162.6,71.1 162.7,66.2 162.9,65.0 163.0,66.0 163.1,79.2 163.2,74.0 163.3,73.2 163.4,75.0 163.5,81.2 163.6,72.5 163.8,70.7 163.9,70.3 164.0,70.5 164.1,64.9 164.2,72.5 164.3,68.1 164.4,65.1 164.6,54.8 164.7,69.1 164.8,64.4 164.9,62.2 165.0,65.0 165.1,66.2 165.2,64.0 165.3,74.2 165.5,65.7 165.6,69.2 165.7,60.7 165.8,63.9 165.9,67.7 166.0,69.9 166.1,73.1 166.3,63.9 166.4,76.8 166.5,73.0 166.6,73.0 166.7,69.2 166.8,71.8 166.9,74.6 167.0,67.6 167.2,65.3 167.3,74.4 167.4,61.9 167.5,70.8 167.6,67.0 167.7,65.3 167.8,68.4 168.0,59.0 168.1,64.3 168.2,66.2 168.3,72.3 168.4,63.4 168.5,67.9 168.6,58.8 168.7,69.8 168.9,62.2 169.0,73.2 169.1,72.5 169.2,65.3 169.3,63.4 169.4,64.9 169.5,71.4 169.7,74.0 169.8,67.3 169.9,76.3 170.0,76.2 170.1,69.2 170.2,68.6 170.3,67.7 170.4,65.2 170.6,79.7 170.7,69.7 170.8,60.7 170.9,68.3 171.0,71.6 171.1,61.4 171.2,63.9 171.4,64.1 171.5,67.0 171.6,70.2 171.7,70.3 171.8,71.0 171.9,58.9 172.0,73.2 172.1,69.2 172.3,71.9 172.4,69.1 172.5,67.2 172.6,75.2 172.7,69.3 172.8,67.1 172.9,60.5 173.1,70.7 173.2,67.2 173.3,62.5 173.4,75.7 173.5,71.3 173.6,69.7 173.7,73.1 173.8,70.1 174.0,68.1 174.1,61.6 174.2,64.0 174.3,71.6 174.4,71.7 174.5,63.6 174.6,73.6 174.8,69.6 174.9,72.2 175.0,73.6 175.1,67.5 175.2,72.6 175.3,71.5 175.4,65.9 175.5,64.3 175.7,75.4 175.8,72.6 175.9,72.2 176.0,74.7 176.1,64.4 176.2,66.3 176.3,69.7 176.4,76.1 176.6,70.2 176.7,72.2 176.8,72.1 176.9,67.7 177.0,63.7 177.1,66.4 177.2,65.7 177.4,69.1 177.5,58.0 177.6,60.5 177.7,73.1 177.8,63.9 177.9,60.6 178.0,69.8 178.1,68.6 178.3,59.5 178.4,63.9 178.5,69.9 178.6,64.1 178.7,64.0 178.8,68.7 178.9,71.2 179.1,67.7 179.2,66.1 179.3,58.5 179.4,60.7 179.5,63.6 179.6,70.2 179.7,71.4 179.8,78.4 180.0,70.4 180.1,70.1 180.2,72.5 180.3,65.4 180.4,65.8 180.5,78.3 180.6,69.5 180.8,67.1 180.9,71.8 181.0,74.8 181.1,64.1 181.2,67.5 181.3,63.9 181.4,75.6 181.5,76.8 181.7,73.1 181.8,66.8 181.9,67.0 182.0,60.5 182.1,70.2 182.2,74.0 182.3,64.2 182.5,64.5 182.6,62.6 182.7,58.2 182.8,68.0 182.9,72.8 183.0,60.3 183.1,67.4 183.2,69.3 183.4,66.4 183.5,59.0 183.6,67.7 183.7,62.1 183.8,66.8 183.9,63.4 184.0,71.3 184.2,65.9 184.3,70.1 184.4,67.6 184.5,68.2 184.6,71.5 184.7,69.7 184.8,69.2 184.9,74.7 185.1,73.5 185.2,71.0 185.3,67.7 185.4,71.0 185.5,72.5 185.6,72.6 185.7,69.9 185.9,63.9 186.0,75.1 186.1,65.9 186.2,70.8 186.3,72.4 186.4,70.4 186.5,62.9 186.6,66.4 186.8,57.5 186.9,58.2 187.0,68.2 187.1,71.8 187.2,75.9 187.3,66.0 187.4,72.3 187.6,71.6 187.7,70.8 187.8,63.8 187.9,67.7 188.0,67.2 188.1,74.1 188.2,70.4 188.3,70.4 188.5,71.2 188.6,69.4 188.7,61.2 188.8,63.5 188.9,61.7 189.0,63.7 189.1,65.9 189.3,65.7 189.4,64.1 189.5,71.8 189.6,68.0 189.7,65.0 189.8,68.8 189.9,66.0 190.0,71.7 190.2,65.4 190.3,65.1 190.4,61.0 190.5,63.3 190.6,63.7 190.7,66.8 190.8,64.3 190.9,64.8 191.1,60.6 191.2,65.5 191.3,57.7 191.4,63.6 191.5,67.8 191.6,70.0 191.7,62.2 191.9,65.8 192.0,65.8 192.1,55.9 192.2,71.4 192.3,67.1 192.4,71.1 192.5,69.8 192.6,64.1 192.8,67.9 192.9,59.0 193.0,68.8 193.1,67.3 193.2,71.2 193.3,66.0 193.4,68.2 193.6,67.6 193.7,69.7 193.8,63.9 193.9,66.6 194.0,64.2 194.1,65.5 194.2,67.6 194.3,65.7 194.5,65.9 194.6,63.9 194.7,72.9 194.8,61.5 194.9,66.7 195.0,68.5 195.1,66.4 195.3,74.1 195.4,65.5 195.5,68.6 195.6,70.8 195.7,64.6 195.8,66.8 195.9,71.4 196.0,62.2 196.2,62.7 196.3,65.5 196.4,66.3 196.5,60.4 196.6,68.9 196.7,67.0 196.8,67.6 197.0,67.3 197.1,64.6 197.2,71.4 197.3,66.0 197.4,66.0 197.5,66.1 197.6,67.3 197.7,67.3 197.9,62.0 198.0,57.4 198.1,64.8 198.2,67.6 198.3,66.0 198.4,61.1 198.5,60.9 198.7,61.8 198.8,59.9 198.9,64.7 199.0,57.0 199.1,60.8 199.2,58.7 199.3,60.9 199.4,61.0 199.6,62.1 199.7,62.8 199.8,57.4 199.9,61.1 200.0,61.9 200.1,65.8 200.2,63.7 200.4,64.7 200.5,64.5 200.6,67.3 200.7,72.9 200.8,73.0 200.9,67.9 201.0,63.9 201.1,66.7 201.3,66.5 201.4,64.7 201.5,62.2 201.6,66.5 201.7,64.0 201.8,61.9 201.9,59.4 202.1,66.7 202.2,63.5 202.3,61.6 202.4,63.2 202.5,59.9 202.6,59.6 202.7,66.8 202.8,54.3 203.0,60.2 203.1,54.4 203.2,58.2 203.3,69.1 203.4,66.1 203.5,59.8 203.6,61.4 203.8,59.9 203.9,68.3 204.0,61.0 204.1,59.0 204.2,57.9 204.3,59.1 204.4,69.1 204.5,67.0 204.7,67.6 204.8,68.6 204.9,65.3 205.0,63.8 205.1,60.8 205.2,68.3 205.3,68.1 205.5,69.3 205.6,61.7 205.7,59.8 205.8,64.0 205.9,60.7 206.0,59.9 206.1,63.3 206.2,60.4 206.4,65.4 206.5,67.3 206.6,57.4 206.7,61.9 206.8,55.7 206.9,60.6 207.0,68.0 207.1,58.7 207.3,66.9 207.4,64.9 207.5,56.1 207.6,64.1 207.7,59.6 207.8,56.0 207.9,52.0 208.1,63.4 208.2,62.0 208.3,67.1 208.4,59.8 208.5,66.5 208.6,56.4 208.7,65.5 208.8,59.1 209.0,56.5 209.1,56.4 209.2,60.3 209.3,60.4 209.4,62.8 209.5,52.5 209.6,52.2 209.8,55.7 209.9,61.3 210.0,60.3 210.1,56.2 210.2,50.2 210.3,47.0 210.4,51.3 210.5,59.7 210.7,63.7 210.8,56.1 210.9,54.5 211.0,50.4 211.1,58.9 211.2,53.1 211.3,60.2 211.5,55.1 211.6,60.1 211.7,60.9 211.8,59.7 211.9,57.5 212.0,64.7 212.1,64.7 212.2,59.4 212.4,64.1 212.5,61.7 212.6,60.1 212.7,60.6 212.8,55.7 212.9,63.3 213.0,54.8 213.2,66.5 213.3,62.0 213.4,56.3 213.5,66.3 213.6,59.7 213.7,57.9 213.8,62.8 213.9,52.4 214.1,49.7 214.2,57.8 214.3,58.7 214.4,56.4 214.5,55.8 214.6,61.6 214.7,61.5 214.9,51.7 215.0,56.7 215.1,58.5 215.2,60.7 215.3,67.4 215.4,59.9 215.5,61.6 215.6,59.1 215.8,57.8 215.9,54.9 216.0,56.5 216.1,58.1 216.2,61.6 216.3,61.8 216.4,62.4 216.6,63.7 216.7,57.6 216.8,59.9 216.9,57.7 217.0,48.1 217.1,53.8 217.2,60.0 217.3,60.7 217.5,59.1 217.6,60.6 217.7,52.1 217.8,55.4 217.9,54.8 218.0,54.0 218.1,56.8 218.3,66.9 218.4,62.9 218.5,61.8 218.6,55.3 218.7,55.0 218.8,50.6 218.9,51.1 219.0,48.8 219.2,54.6 219.3,51.5 219.4,49.4 219.5,59.1 219.6,59.3 219.7,52.6 219.8,52.6 220.0,65.0 220.1,56.4 220.2,61.9 220.3,63.8 220.4,62.0 220.5,57.2 220.6,58.2 220.7,61.8 220.9,57.2 221.0,64.7 221.1,62.7 221.2,56.3 221.3,59.8 221.4,65.2 221.5,66.9 221.7,61.1 221.8,62.4 221.9,61.4 222.0,61.9 222.1,59.0 222.2,60.0 222.3,58.1 222.4,61.7 222.6,66.8 222.7,61.4 222.8,62.5 222.9,60.0 223.0,59.0 223.1,60.8 223.2,55.1 223.3,56.7 223.5,63.6 223.6,62.9 223.7,64.8 223.8,67.1 223.9,58.2 224.0,62.2 224.1,66.7 224.3,55.3 224.4,61.3 224.5,60.2 224.6,62.7 224.7,69.2 224.8,55.8 224.9,62.0 225.0,63.2 225.2,54.3 225.3,50.8 225.4,56.2 225.5,51.6 225.6,50.9 225.7,52.6 225.8,52.8 226.0,45.2 226.1,50.9 226.2,45.0 226.3,47.7 226.4,46.2 226.5,42.7 226.6,48.1 226.7,44.8 226.9,44.7 227.0,44.2 227.1,48.8 227.2,57.5 227.3,59.7 227.4,61.7 227.5,59.0 227.7,54.1 227.8,54.2 227.9,54.6 228.0,54.5 228.1,60.0 228.2,56.3 228.3,55.4 228.4,47.5 228.6,54.1 228.7,54.9 228.8,55.6 228.9,61.1 229.0,53.7 229.1,61.7 229.2,50.1 229.4,62.9 229.5,58.7 229.6,54.8 229.7,53.3 229.8,51.5 229.9,58.4 230.0,48.8 230.1,49.8 230.3,46.2 230.4,49.2 230.5,49.8 230.6,55.3 230.7,48.4 230.8,55.3 230.9,53.7 231.1,50.8 231.2,58.0 231.3,51.4 231.4,55.1 231.5,55.4 231.6,59.2 231.7,54.9 231.8,49.8 232.0,47.8 232.1,47.7 232.2,58.1 232.3,51.3 232.4,54.7 232.5,55.5 232.6,55.1 232.8,49.7 232.9,50.2 233.0,59.0 233.1,47.3 233.2,48.0 233.3,43.0 233.4,46.3 233.5,50.8 233.7,50.0 233.8,45.4 233.9,45.6 234.0,45.5 234.1,52.3 234.2,43.0 234.3,55.4 234.5,43.8 234.6,49.6 234.7,50.5 234.8,44.2 234.9,51.2 235.0,53.0 235.1,55.8 235.2,53.0 235.4,53.7 235.5,49.9 235.6,50.7 235.7,54.9 235.8,60.3 235.9,55.8 236.0,57.0 236.2,56.9 236.3,57.7 236.4,53.2 236.5,55.1 236.6,58.2 236.7,54.7 236.8,62.4 236.9,54.9 237.1,61.7 237.2,53.4 237.3,49.6 237.4,49.1 237.5,54.3 237.6,52.7 237.7,51.9 237.9,53.0 238.0,50.5 238.1,53.0 238.2,50.4 238.3,50.9 238.4,45.2 238.5,51.6 238.6,51.7 238.8,43.6 238.9,51.5 239.0,56.5 239.1,48.3 239.2,52.5 239.3,54.9 239.4,57.3 239.5,50.4 239.7,49.0 239.8,50.0 239.9,56.3 240.0,43.4 240.1,55.4 240.2,57.5 240.3,55.2 240.5,62.1 240.6,57.9 240.7,55.7 240.8,55.2 240.9,50.1 241.0,51.4 241.1,53.5 241.2,50.5 241.4,55.9 241.5,44.0 241.6,50.3 241.7,46.4 241.8,51.1 241.9,53.8 242.0,56.4 242.2,56.5 242.3,55.7 242.4,51.0 242.5,57.1 242.6,50.6 242.7,48.3 242.8,50.4 242.9,46.8 243.1,59.9 243.2,51.8 243.3,56.0 243.4,47.7 243.5,53.6 243.6,57.7 243.7,53.7 243.9,50.3 244.0,42.4 244.1,52.7 244.2,50.1 244.3,52.2 244.4,49.0 244.5,51.2 244.6,51.9 244.8,55.5 244.9,50.5 245.0,47.8 245.1,48.9 245.2,55.1 245.3,53.6 245.4,53.5 245.6,51.2 245.7,51.2 245.8,56.3 245.9,51.7 246.0,46.1 246.1,52.3 246.2,60.9 246.3,59.9 246.5,54.6 246.6,52.7 246.7,62.4 246.8,52.3 246.9,49.0 247.0,50.7 247.1,58.6 247.3,50.3 247.4,45.2 247.5,47.2 247.6,50.1 247.7,52.2 247.8,49.2 247.9,48.0 248.0,54.8 248.2,53.6 248.3,46.8 248.4,44.8 248.5,51.0 248.6,47.2 248.7,52.5 248.8,54.9 249.0,56.1 249.1,57.9 249.2,58.3 249.3,57.6 249.4,48.2 249.5,48.9 249.6,42.8 249.7,55.3 249.9,49.5 250.0,51.5 250.1,53.0 250.2,45.7 250.3,51.3 250.4,48.9 250.5,42.5 250.7,51.9 250.8,54.2 250.9,53.6 251.0,60.1 251.1,56.0 251.2,57.6 251.3,53.3 251.4,53.2 251.6,52.8 251.7,53.5 251.8,50.5 251.9,58.6 252.0,57.4 252.1,50.1 252.2,49.8 252.4,57.6 252.5,46.1 252.6,63.6 252.7,52.3 252.8,51.0 252.9,49.4 253.0,57.2 253.1,53.4 253.3,54.4 253.4,51.3 253.5,60.2 253.6,55.1 253.7,55.8 253.8,50.9 253.9,49.0 254.0,47.4 254.2,59.2 254.3,54.3 254.4,57.6 254.5,57.8 254.6,61.3 254.7,55.0 254.8,55.0 255.0,48.1 255.1,52.8 255.2,44.1 255.3,58.7 255.4,54.3 255.5,54.3 255.6,54.3 255.7,48.5 255.9,51.1 256.0,38.8 256.1,49.6 256.2,44.5 256.3,50.6 256.4,53.3 256.5,41.5 256.7,52.3 256.8,55.4 256.9,53.1 257.0,48.4 257.1,44.2 257.2,50.8 257.3,50.8 257.4,47.4 257.6,47.2 257.7,53.1 257.8,45.4 257.9,48.8 258.0,47.3 258.1,49.1 258.2,46.9 258.4,45.4 258.5,56.3 258.6,58.5 258.7,55.4 258.8,53.8 258.9,55.4 259.0,49.4 259.1,52.5 259.3,49.4 259.4,51.3 259.5,51.4 259.6,52.8 259.7,49.2 259.8,55.0 259.9,50.3 260.1,54.5 260.2,58.3 260.3,53.1 260.4,53.8 260.5,54.4 260.6,60.0 260.7,53.9 260.8,53.8 261.0,60.4 261.1,53.2 261.2,54.0 261.3,58.2 261.4,58.1 261.5,51.1 261.6,47.3 261.8,48.7 261.9,56.4 262.0,53.4 262.1,45.2 262.2,49.8 262.3,42.4 262.4,42.5 262.5,47.6 262.7,47.1 262.8,45.0 262.9,47.1 263.0,48.1 263.1,48.5 263.2,48.5 263.3,44.6 263.5,47.8 263.6,44.3 263.7,45.5 263.8,46.9 263.9,46.4 264.0,44.5 264.1,46.0 264.2,42.4 264.4,45.2 264.5,50.4 264.6,48.3 264.7,50.8 264.8,47.6 264.9,49.8 265.0,50.6 265.2,50.2 265.3,52.9 265.4,45.9 265.5,45.7 265.6,53.2 265.7,52.8 265.8,54.2 265.9,52.2 266.1,48.4 266.2,47.3 266.3,50.3 266.4,46.2 266.5,56.3 266.6,54.5 266.7,44.5 266.9,50.5 267.0,47.2 267.1,43.8 267.2,44.1 267.3,51.1 267.4,50.9 267.5,51.9 267.6,51.7 267.8,49.5 267.9,57.4 268.0,50.2 268.1,50.9 268.2,45.5 268.3,58.6 268.4,48.9 268.6,52.2 268.7,54.7 268.8,47.8 268.9,46.4 269.0,51.9 269.1,45.8 269.2,48.4 269.3,49.5 269.5,48.9 269.6,47.9 269.7,50.3 269.8,47.0 269.9,57.9 270.0,48.7 270.1,50.6 270.2,54.0 270.4,49.8 270.5,50.8 270.6,48.0 270.7,44.4 270.8,46.8 270.9,59.6 271.0,42.6 271.2,46.7 271.3,44.9 271.4,50.7 271.5,49.9 271.6,51.1 271.7,47.9 271.8,45.8 271.9,47.7 272.1,46.7 272.2,41.8 272.3,38.6 272.4,41.4 272.5,44.5 272.6,40.2 272.7,44.9 272.9,41.5 273.0,37.3 273.1,47.4 273.2,47.1 273.3,52.3 273.4,37.8 273.5,43.9 273.6,41.7 273.8,43.1 273.9,44.3 274.0,45.9 274.1,43.9 274.2,48.9 274.3,43.1 274.4,40.4 274.6,39.8 274.7,50.4 274.8,48.7 274.9,52.3 275.0,52.6 275.1,52.8 275.2,48.9 275.3,45.9 275.5,44.6 275.6,51.7 275.7,47.6 275.8,51.0 275.9,49.9 276.0,48.2 276.1,45.6 276.3,45.8 276.4,48.7 276.5,49.5 276.6,49.9 276.7,48.2 276.8,51.4 276.9,47.3 277.0,52.5 277.2,50.6 277.3,58.3 277.4,58.1 277.5,55.5 277.6,56.2 277.7,62.0 277.8,49.0 278.0,45.3 278.1,55.7 278.2,52.9 278.3,42.9 278.4,51.6 278.5,45.9 278.6,48.5 278.7,51.6 278.9,50.5 279.0,55.0 279.1,60.5 279.2,56.4 279.3,55.6 279.4,52.2 279.5,49.2 279.7,47.9 279.8,50.9 279.9,56.2 280.0,53.0 280.1,57.9 280.2,58.4 280.3,56.2 280.4,58.7 280.6,49.5 280.7,57.8 280.8,57.4 280.9,54.8 281.0,45.8 281.1,47.9 281.2,49.7 281.4,46.2 281.5,54.6 281.6,50.1 281.7,47.4 281.8,52.3 281.9,53.2 282.0,50.9 282.1,41.6 282.3,39.4 282.4,49.9 282.5,40.5 282.6,52.2 282.7,47.3 282.8,47.2 282.9,48.7 283.1,42.0 283.2,46.7 283.3,49.0 283.4,46.7 283.5,49.8 283.6,45.1 283.7,42.3 283.8,48.2 284.0,39.6 284.1,48.8 284.2,49.5 284.3,46.5 284.4,46.4 284.5,48.8 284.6,39.6 284.8,44.0 284.9,51.5 285.0,52.0 285.1,52.2 285.2,56.5 285.3,49.2 285.4,51.5 285.5,45.3 285.7,46.0 285.8,51.7 285.9,47.0 286.0,46.7 286.1,46.1 286.2,43.6 286.3,46.0 286.4,49.3 286.6,46.6 286.7,49.3 286.8,48.3 286.9,44.7 287.0,46.2 287.1,45.3 287.2,51.5 287.4,53.9 287.5,48.8 287.6,43.9 287.7,45.7 287.8,50.4 287.9,45.4 288.0,39.1 288.1,46.9 288.3,46.3 288.4,41.8 288.5,52.8 288.6,47.6 288.7,56.7 288.8,53.2 288.9,52.7 289.1,47.5 289.2,51.3 289.3,55.1 289.4,49.0 289.5,45.4 289.6,44.0 289.7,53.5 289.8,47.2 290.0,50.5 290.1,46.7 290.2,48.1 290.3,54.8 290.4,41.8 290.5,56.6 290.6,48.9 290.8,56.0 290.9,51.4 291.0,45.5 291.1,46.2 291.2,43.4 291.3,51.9 291.4,56.0 291.5,52.9 291.7,37.8 291.8,45.4 291.9,54.1 292.0,54.4 292.1,56.4 292.2,51.6 292.3,54.6 292.5,61.4 292.6,58.3 292.7,49.6 292.8,50.8 292.9,52.7 293.0,53.6 293.1,45.4 293.2,47.8 293.4,52.2 293.5,49.7 293.6,43.3 293.7,49.1 293.8,46.0 293.9,52.6 294.0,47.6 294.2,49.9 294.3,45.5 294.4,47.8 294.5,53.3 294.6,44.8 294.7,53.1 294.8,52.6 294.9,43.7 295.1,49.5 295.2,45.2 295.3,45.4 295.4,41.6 295.5,50.8 295.6,46.8 295.7,53.9 295.9,43.7 296.0,42.7 296.1,42.1 296.2,43.6 296.3,48.6 296.4,44.9 296.5,51.0 296.6,49.8 296.8,49.1 296.9,44.7 297.0,52.6 297.1,39.1 297.2,50.8 297.3,53.6 297.4,47.3 297.6,54.8 297.7,50.9 297.8,51.0 297.9,58.1 298.0,53.8 298.1,56.1 298.2,52.7 298.3,55.1 298.5,56.6 298.6,51.8 298.7,47.8 298.8,53.5 298.9,50.1 299.0,47.0 299.1,53.9 299.3,46.4 299.4,50.1 299.5,47.9 299.6,44.9 299.7,51.3 299.8,46.0 299.9,44.9 300.0,49.6 300.2,50.9 300.3,53.1 300.4,49.2 300.5,51.6 300.6,57.2 300.7,49.3 300.8,48.7 300.9,49.6 301.1,52.7 301.2,57.4 301.3,50.3 301.4,56.3 301.5,53.7 301.6,43.2 301.7,57.6 301.9,61.2 302.0,50.6 302.1,60.7 302.2,55.9 302.3,55.0 302.4,56.4 302.5,49.5 302.6,57.6 302.8,54.8 302.9,58.1 303.0,59.9 303.1,52.9 303.2,45.0 303.3,54.5 303.4,52.3 303.6,51.6 303.7,57.1 303.8,48.5 303.9,52.1 304.0,58.2 304.1,58.3 304.2,48.4 304.3,44.3 304.5,49.6 304.6,46.8 304.7,54.2 304.8,63.0 304.9,46.7 305.0,49.8 305.1,59.3 305.3,53.7 305.4,52.5 305.5,53.7 305.6,57.9 305.7,52.2 305.8,54.0 305.9,62.0 306.0,53.9 306.2,61.9 306.3,54.8 306.4,55.6 306.5,50.1 306.6,51.3 306.7,58.4 306.8,57.3 307.0,52.7 307.1,51.3 307.2,45.2 307.3,53.6 307.4,51.0 307.5,41.6 307.6,50.6 307.7,57.0 307.9,61.4 308.0,50.6 308.1,51.4 308.2,58.2 308.3,50.6 308.4,47.5 308.5,48.0 308.7,48.4 308.8,52.5 308.9,52.3 309.0,45.8 309.1,54.9 309.2,43.5 309.3,46.4 309.4,51.5 309.6,54.4 309.7,51.9 309.8,52.7 309.9,52.7 310.0,50.2 310.1,45.2 310.2,57.6 310.4,55.2 310.5,41.8 310.6,49.0 310.7,48.9 310.8,55.1 310.9,46.7 311.0,51.6 311.1,52.7 311.3,49.8 311.4,45.3 311.5,46.5 311.6,52.1 311.7,48.2 311.8,50.8 311.9,59.4 312.1,56.6 312.2,61.5 312.3,55.3 312.4,55.5 312.5,52.9 312.6,58.6 312.7,52.6 312.8,52.9 313.0,49.3 313.1,56.6 313.2,51.8 313.3,53.8 313.4,48.8 313.5,55.0 313.6,50.4 313.8,55.3 313.9,50.1 314.0,51.1 314.1,54.4 314.2,55.6 314.3,54.8 314.4,52.7 314.5,53.4 314.7,49.3 314.8,51.8 314.9,55.5 315.0,57.0 315.1,53.4 315.2,56.8 315.3,59.0 315.5,59.7 315.6,60.3 315.7,52.5 315.8,59.4 315.9,56.9 316.0,57.7 316.1,54.7 316.2,56.1 316.4,50.5 316.5,52.0 316.6,57.3 316.7,54.2 316.8,58.2 316.9,55.7 317.0,53.4 317.1,64.4 317.3,58.8 317.4,59.9 317.5,55.8 317.6,59.2 317.7,50.6 317.8,52.1 317.9,49.0 318.1,53.3 318.2,55.3 318.3,53.8 318.4,53.1 318.5,46.5 318.6,53.5 318.7,58.2 318.8,46.9 319.0,56.6 319.1,61.0 319.2,56.9 319.3,55.4 319.4,57.2 319.5,47.0 319.6,55.5 319.8,52.3 319.9,54.2 320.0,58.4 320.1,63.2 320.2,48.5 320.3,56.5 320.4,56.5 320.5,51.0 320.7,58.7 320.8,57.9 320.9,49.4 321.0,57.0 321.1,54.2 321.2,57.9 321.3,52.6 321.5,63.0 321.6,65.9 321.7,54.5 321.8,55.8 321.9,43.2 322.0,56.4 322.1,55.3 322.2,52.7 322.4,55.4 322.5,54.5 322.6,61.9 322.7,57.5 322.8,52.7 322.9,64.2 323.0,60.9 323.2,58.5 323.3,56.6 323.4,57.0 323.5,54.7 323.6,53.8 323.7,53.1 323.8,59.1 323.9,54.2 324.1,56.9 324.2,54.6 324.3,45.4 324.4,50.1" fill="none" stroke="#40E0D0" stroke-width="0.7" stroke-linejoin="round" />
<polyline points="41.3,106.5 41.4,109.2 41.5,111.0 41.6,103.5 41.8,102.9 41.9,104.1 42.0,106.0 42.1,107.2 42.2,106.3 42.3,102.0 42.4,112.2 42.5,97.4 42.7,103.5 42.8,101.6 42.9,104.0 43.0,104.2 43.1,99.1 43.2,106.9 43.3,99.6 43.5,108.0 43.6,99.5 43.7,105.5 43.8,99.8 43.9,99.1 44.0,94.6 44.1,100.8 44.2,99.1 44.4,98.7 44.5,101.4 44.6,103.0 44.7,94.9 44.8,107.0 44.9,96.9 45.0,99.3 45.2,99.8 45.3,101.0 45.4,94.6 45.5,93.5 45.6,97.4 45.7,91.6 45.8,97.6 45.9,95.3 46.1,95.4 46.2,45.5 46.3,96.8 46.4,99.5 46.5,100.3 46.6,98.3 46.7,92.0 46.9,92.0 47.0,97.7 47.1,90.9 47.2,95.0 47.3,95.7 47.4,97.9 47.5,94.2 47.6,97.1 47.8,96.0 47.9,91.4 48.0,91.1 48.1,91.9 48.2,87.2 48.3,86.2 48.4,86.6 48.6,87.9 48.7,90.6 48.8,89.5 48.9,84.9 49.0,87.4 49.1,88.8 49.2,84.9 49.3,82.8 49.5,89.4 49.6,81.6 49.7,79.2 49.8,86.8 49.9,87.2 50.0,83.1 50.1,80.4 50.2,82.4 50.4,84.6 50.5,84.1 50.6,83.5 50.7,79.0 50.8,76.8 50.9,81.9 51.0,80.3 51.2,77.3 51.3,75.7 51.4,84.4 51.5,82.5 51.6,81.4 51.7,78.8 51.8,75.5 51.9,75.4 52.1,78.4 52.2,79.0 52.3,77.5 52.4,76.9 52.5,73.1 52.6,66.0 52.7,71.5 52.9,71.6 53.0,69.0 53.1,70.3 53.2,63.0 53.3,66.8 53.4,68.8 53.5,67.0 53.6,63.9 53.8,67.1 53.9,67.8 54.0,63.7 54.1,71.3 54.2,68.5 54.3,61.9 54.4,60.7 54.6,59.4 54.7,62.7 54.8,66.3 54.9,64.5 55.0,64.9 55.1,60.2 55.2,58.5 55.3,53.9 55.5,59.3 55.6,54.3 55.7,60.0 55.8,59.7 55.9,52.9 56.0,54.2 56.1,52.1 56.3,57.2 56.4,53.7 56.5,55.0 56.6,61.6 56.7,58.1 56.8,68.2 56.9,62.6 57.0,59.6 57.2,65.2 57.3,58.1 57.4,62.0 57.5,62.3 57.6,56.9 57.7,58.9 57.8,64.5 58.0,51.1 58.1,58.2 58.2,57.2 58.3,57.7 58.4,60.7 58.5,57.8 58.6,59.1 58.7,60.6 58.9,60.6 59.0,57.0 59.1,61.9 59.2,54.9 59.3,57.6 59.4,62.5 59.5,61.1 59.7,62.0 59.8,59.7 59.9,56.7 60.0,56.7 60.1,61.1 60.2,60.6 60.3,57.3 60.4,61.2 60.6,59.7 60.7,64.3 60.8,66.5 60.9,60.8 61.0,59.4 61.1,58.7 61.2,52.2 61.4,55.5 61.5,53.2 61.6,57.3 61.7,58.8 61.8,57.6 61.9,51.4 62.0,61.1 62.1,60.9 62.3,56.9 62.4,55.1 62.5,60.4 62.6,57.8 62.7,58.1 62.8,55.7 62.9,60.4 63.1,62.0 63.2,64.1 63.3,61.9 63.4,69.1 63.5,69.0 63.6,62.8 63.7,56.7 63.8,59.0 64.0,62.0 64.1,53.4 64.2,57.7 64.3,58.1 64.4,59.2 64.5,64.8 64.6,61.9 64.8,64.4 64.9,70.5 65.0,67.8 65.1,70.4 65.2,62.7 65.3,63.8 65.4,64.3 65.5,68.3 65.7,63.5 65.8,58.1 65.9,58.8 66.0,57.2 66.1,62.9 66.2,52.9 66.3,51.7 66.4,55.1 66.6,57.8 66.7,54.7 66.8,61.7 66.9,57.8 67.0,64.4 67.1,57.6 67.2,57.1 67.4,62.3 67.5,66.8 67.6,69.7 67.7,62.9 67.8,61.9 67.9,61.4 68.0,63.8 68.1,64.2 68.3,59.7 68.4,65.2 68.5,62.8 68.6,58.2 68.7,66.7 68.8,54.7 68.9,60.0 69.1,61.9 69.2,61.0 69.3,55.8 69.4,62.8 69.5,55.6 69.6,57.7 69.7,61.0 69.8,56.6 70.0,52.3 70.1,58.4 70.2,57.8 70.3,56.2 70.4,62.9 70.5,54.8 70.6,58.1 70.8,62.9 70.9,58.0 71.0,57.7 71.1,57.8 71.2,58.6 71.3,67.8 71.4,60.3 71.5,58.9 71.7,53.6 71.8,55.5 71.9,59.8 72.0,60.3 72.1,60.2 72.2,64.3 72.3,66.1 72.5,64.6 72.6,54.9 72.7,60.9 72.8,55.0 72.9,59.4 73.0,62.9 73.1,64.6 73.2,63.2 73.4,58.6 73.5,57.0 73.6,63.5 73.7,61.4 73.8,68.8 73.9,57.8 74.0,60.6 74.2,66.3 74.3,58.8 74.4,66.5 74.5,56.7 74.6,50.9 74.7,59.3 74.8,58.1 74.9,63.8 75.1,68.8 75.2,62.5 75.3,70.6 75.4,64.0 75.5,63.8 75.6,66.8 75.7,63.3 75.9,61.9 76.0,65.1 76.1,72.2 76.2,65.2 76.3,66.8 76.4,66.1 76.5,67.2 76.6,64.4 76.8,69.9 76.9,68.8 77.0,74.8 77.1,70.7 77.2,71.1 77.3,65.9 77.4,72.1 77.6,74.9 77.7,68.7 77.8,73.1 77.9,67.2 78.0,72.7 78.1,67.9 78.2,73.1 78.3,69.6 78.5,69.7 78.6,66.7 78.7,71.3 78.8,63.1 78.9,68.2 79.0,62.8 79.1,70.6 79.3,72.8 79.4,75.1 79.5,70.9 79.6,63.4 79.7,66.5 79.8,70.6 79.9,69.5 80.0,70.9 80.2,74.6 80.3,66.1 80.4,65.5 80.5,73.7 80.6,65.6 80.7,60.5 80.8,63.5 80.9,66.6 81.1,67.8 81.2,64.2 81.3,69.7 81.4,64.9 81.5,61.9 81.6,64.2 81.7,70.9 81.9,61.5 82.0,64.6 82.1,69.3 82.2,63.4 82.3,69.7 82.4,69.3 82.5,71.0 82.6,71.3 82.8,68.8 82.9,68.1 83.0,70.7 83.1,72.5 83.2,66.7 83.3,67.6 83.4,72.8 83.6,68.6 83.7,75.7 83.8,74.6 83.9,73.0 84.0,63.0 84.1,69.9 84.2,78.4 84.3,69.0 84.5,72.9 84.6,76.3 84.7,72.3 84.8,69.9 84.9,71.8 85.0,69.8 85.1,76.8 85.3,79.3 85.4,81.7 85.5,74.5 85.6,78.7 85.7,79.3 85.8,77.6 85.9,72.2 86.0,67.5 86.2,73.1 86.3,70.2 86.4,79.8 86.5,73.9 86.6,73.9 86.7,80.6 86.8,75.0 87.0,74.7 87.1,70.9 87.2,70.6 87.3,67.2 87.4,68.6 87.5,70.0 87.6,66.5 87.7,66.5 87.9,67.9 88.0,65.8 88.1,70.3 88.2,72.1 88.3,70.4 88.4,65.1 88.5,63.9 88.7,69.8 88.8,69.9 88.9,62.9 89.0,73.3 89.1,67.9 89.2,67.4 89.3,74.3 89.4,69.6 89.6,74.9 89.7,69.9 89.8,72.7 89.9,69.2 90.0,69.3 90.1,73.0 90.2,68.0 90.4,64.2 90.5,66.6 90.6,70.6 90.7,64.4 90.8,70.2 90.9,67.6 91.0,73.8 91.1,70.4 91.3,74.4 91.4,73.0 91.5,70.2 91.6,74.6 91.7,74.4 91.8,72.3 91.9,72.7 92.1,76.1 92.2,78.4 92.3,76.8 92.4,78.9 92.5,79.2 92.6,76.8 92.7,81.8 92.8,78.2 93.0,80.5 93.1,84.3 93.2,76.4 93.3,76.1 93.4,74.1 93.5,72.7 93.6,74.2 93.8,78.6 93.9,70.3 94.0,68.4 94.1,68.2 94.2,72.1 94.3,69.9 94.4,99.4 94.5,72.6 94.7,70.7 94.8,68.2 94.9,69.5 95.0,70.0 95.1,72.5 95.2,69.3 95.3,64.8 95.5,66.1 95.6,61.7 95.7,70.3 95.8,66.2 95.9,74.9 96.0,76.7 96.1,67.2 96.2,70.6 96.4,67.9 96.5,61.6 96.6,70.1 96.7,67.9 96.8,77.6 96.9,69.6 97.0,72.0 97.1,71.9 97.3,69.0 97.4,69.3 97.5,75.8 97.6,71.7 97.7,65.6 97.8,67.4 97.9,64.8 98.1,76.9 98.2,71.3 98.3,76.9 98.4,65.6 98.5,67.2 98.6,63.5 98.7,68.4 98.8,64.2 99.0,73.5 99.1,67.3 99.2,71.5 99.3,72.0 99.4,73.4 99.5,69.9 99.6,70.6 99.8,71.3 99.9,67.0 100.0,59.6 100.1,65.8 100.2,61.8 100.3,69.2 100.4,65.5 100.5,61.0 100.7,70.0 100.8,64.5 100.9,71.2 101.0,70.4 101.1,71.0 101.2,64.9 101.3,72.0 101.5,71.5 101.6,72.2 101.7,69.9 101.8,69.9 101.9,69.6 102.0,74.8 102.1,71.6 102.2,74.3 102.4,70.3 102.5,66.5 102.6,72.3 102.7,77.0 102.8,73.8 102.9,67.2 103.0,77.1 103.2,74.3 103.3,80.4 103.4,72.3 103.5,70.6 103.6,70.4 103.7,71.7 103.8,73.1 103.9,72.4 104.1,68.5 104.2,74.4 104.3,68.6 104.4,69.3 104.5,71.4 104.6,72.5 104.7,68.9 104.9,75.7 105.0,68.7 105.1,67.2 105.2,60.6 105.3,74.3 105.4,69.2 105.5,68.4 105.6,73.5 105.8,65.6 105.9,67.0 106.0,63.6 106.1,67.4 106.2,68.1 106.3,75.2 106.4,65.4 106.6,62.6 106.7,63.6 106.8,65.4 106.9,63.9 107.0,65.3 107.1,63.3 107.2,65.5 107.3,64.1 107.5,65.4 107.6,70.2 107.7,66.2 107.8,67.0 107.9,65.4 108.0,64.2 108.1,67.3 108.3,65.7 108.4,71.4 108.5,66.6 108.6,71.2 108.7,68.0 108.8,65.7 108.9,72.6 109.0,73.9 109.2,67.4 109.3,71.6 109.4,62.6 109.5,66.7 109.6,71.1 109.7,71.8 109.8,64.7 110.0,69.0 110.1,67.2 110.2,70.9 110.3,65.1 110.4,68.1 110.5,68.4 110.6,70.6 110.7,67.2 110.9,67.5 111.0,70.8 111.1,73.0 111.2,75.4 111.3,73.6 111.4,70.3 111.5,77.3 111.7,66.7 111.8,68.5 111.9,68.5 112.0,66.7 112.1,67.7 112.2,71.0 112.3,65.9 112.4,61.5 112.6,66.0 112.7,65.0 112.8,64.7 112.9,71.4 113.0,69.6 113.1,68.3 113.2,65.0 113.3,69.2 113.5,69.7 113.6,68.5 113.7,67.3 113.8,75.4 113.9,70.7 114.0,72.8 114.1,72.0 114.3,72.6 114.4,63.0 114.5,66.6 114.6,72.7 114.7,75.2 114.8,71.0 114.9,65.4 115.0,67.2 115.2,59.3 115.3,70.1 115.4,71.4 115.5,71.8 115.6,68.6 115.7,68.4 115.8,66.0 116.0,68.6 116.1,66.7 116.2,60.0 116.3,66.0 116.4,64.3 116.5,68.0 116.6,65.8 116.7,57.6 116.9,65.3 117.0,66.5 117.1,69.8 117.2,65.7 117.3,71.5 117.4,74.3 117.5,73.3 117.7,74.5 117.8,72.1 117.9,74.2 118.0,72.6 118.1,73.3 118.2,69.9 118.3,79.9 118.4,75.5 118.6,66.6 118.7,69.3 118.8,63.6 118.9,68.5 119.0,67.0 119.1,69.3 119.2,64.8 119.4,73.1 119.5,72.4 119.6,64.1 119.7,62.8 119.8,71.1 119.9,69.5 120.0,67.3 120.1,72.6 120.3,66.0 120.4,71.1 120.5,63.3 120.6,75.3 120.7,70.2 120.8,75.6 120.9,72.9 121.1,75.2 121.2,69.4 121.3,62.8 121.4,66.6 121.5,70.6 121.6,62.3 121.7,69.5 121.8,64.5 122.0,68.3 122.1,64.4 122.2,65.1 122.3,64.1 122.4,70.6 122.5,69.2 122.6,65.4 122.8,66.3 122.9,67.6 123.0,68.5 123.1,63.7 123.2,66.4 123.3,72.8 123.4,71.3 123.5,67.6 123.7,72.7 123.8,66.4 123.9,65.9 124.0,67.8 124.1,66.2 124.2,67.7 124.3,62.4 124.5,58.7 124.6,58.5 124.7,65.5 124.8,69.3 124.9,65.1 125.0,60.3 125.1,68.7 125.2,58.1 125.4,65.1 125.5,64.0 125.6,62.5 125.7,63.6 125.8,58.7 125.9,65.0 126.0,67.0 126.2,67.5 126.3,69.9 126.4,70.8 126.5,66.0 126.6,69.8 126.7,65.4 126.8,64.8 126.9,67.1 127.1,64.8 127.2,70.4 127.3,67.2 127.4,65.2 127.5,66.4 127.6,67.3 127.7,62.6 127.8,57.8 128.0,62.1 128.1,67.6 128.2,68.2 128.3,65.6 128.4,68.7 128.5,67.6 128.6,62.1 128.8,66.1 128.9,63.8 129.0,64.7 129.1,57.2 129.2,63.4 129.3,69.6 129.4,59.7 129.5,61.8 129.7,62.0 129.8,61.3 129.9,62.7 130.0,62.3 130.1,59.0 130.2,62.4 130.3,61.6 130.5,60.3 130.6,62.3 130.7,73.2 130.8,63.4 130.9,67.6 131.0,65.5 131.1,67.2 131.2,69.1 131.4,69.5 131.5,66.4 131.6,67.1 131.7,68.1 131.8,62.2 131.9,62.2 132.0,69.7 132.2,66.0 132.3,65.4 132.4,69.9 132.5,66.0 132.6,66.7 132.7,66.4 132.8,60.1 132.9,65.1 133.1,68.3 133.2,70.2 133.3,65.5 133.4,62.1 133.5,66.0 133.6,61.3 133.7,63.4 133.9,66.3 134.0,64.5 134.1,74.0 134.2,64.9 134.3,64.9 134.4,69.2 134.5,63.2 134.6,57.6 134.8,62.1 134.9,63.4 135.0,61.2 135.1,60.8 135.2,61.8 135.3,58.5 135.4,56.9 135.6,65.8 135.7,61.7 135.8,65.1 135.9,63.9 136.0,64.9 136.1,62.1 136.2,69.1 136.3,68.8 136.5,64.8 136.6,70.7 136.7,63.5 136.8,60.5 136.9,64.5 137.0,53.3 137.1,58.8 137.3,60.1 137.4,60.8 137.5,55.1 137.6,66.9 137.7,64.7 137.8,60.9 137.9,59.6 138.0,63.0 138.2,57.6 138.3,64.0 138.4,54.9 138.5,62.9 138.6,69.6 138.7,75.2 138.8,69.2 139.0,65.7 139.1,64.9 139.2,65.6 139.3,65.7 139.4,69.5 139.5,58.6 139.6,63.3 139.7,62.9 139.9,65.6 140.0,67.1 140.1,60.7 140.2,63.9 140.3,69.1 140.4,68.8 140.5,71.1 140.7,67.3 140.8,63.5 140.9,71.7 141.0,67.3 141.1,68.8 141.2,66.0 141.3,70.1 141.4,67.1 141.6,64.5 141.7,64.1 141.8,63.1 141.9,66.6 142.0,64.2 142.1,60.7 142.2,69.0 142.4,67.0 142.5,68.8 142.6,67.5 142.7,67.5 142.8,74.7 142.9,71.8 143.0,70.0 143.1,62.3 143.3,70.3 143.4,69.0 143.5,63.4 143.6,62.0 143.7,69.4 143.8,56.3 143.9,68.4 144.0,65.9 144.2,62.8 144.3,65.8 144.4,59.2 144.5,66.2 144.6,63.1 144.7,65.7 144.8,63.2 145.0,62.4 145.1,60.9 145.2,65.9 145.3,68.3 145.4,64.3 145.5,65.5 145.6,61.7 145.7,57.0 145.9,58.6 146.0,63.0 146.1,63.4 146.2,62.7 146.3,65.4 146.4,66.2 146.5,69.7 146.7,64.0 146.8,61.6 146.9,64.2 147.0,64.2 147.1,64.4 147.2,68.9 147.3,63.9 147.4,64.7 147.6,63.9 147.7,66.3 147.8,60.7 147.9,66.7 148.0,67.3 148.1,58.4 148.2,60.3 148.4,59.7 148.5,65.8 148.6,66.1 148.7,65.1 148.8,68.7 148.9,70.8 149.0,67.4 149.1,64.5 149.3,62.2 149.4,67.5 149.5,63.5 149.6,66.0 149.7,66.4 149.8,63.2 149.9,60.0 150.1,60.2 150.2,54.2 150.3,56.2 150.4,59.2 150.5,63.8 150.6,63.8 150.7,62.5 150.8,59.2 151.0,63.9 151.1,63.3 151.2,58.3 151.3,61.9 151.4,56.2 151.5,56.0 151.6,60.9 151.8,60.6 151.9,64.7 152.0,65.8 152.1,65.5 152.2,61.2 152.3,60.5 152.4,63.4 152.5,68.6 152.7,58.1 152.8,59.1 152.9,56.9 153.0,55.2 153.1,60.5 153.2,57.1 153.3,61.3 153.5,68.4 153.6,66.8 153.7,63.1 153.8,65.3 153.9,58.8 154.0,66.4 154.1,64.3 154.2,63.3 154.4,66.4 154.5,71.0 154.6,64.9 154.7,60.6 154.8,64.0 154.9,64.4 155.0,69.5 155.2,64.0 155.3,64.9 155.4,64.5 155.5,67.9 155.6,60.4 155.7,64.4 155.8,57.2 155.9,59.3 156.1,59.6 156.2,68.7 156.3,60.9 156.4,66.7 156.5,61.3 156.6,66.5 156.7,63.2 156.9,66.4 157.0,65.2 157.1,65.2 157.2,67.4 157.3,65.4 157.4,68.6 157.5,65.0 157.6,61.2 157.8,63.5 157.9,65.5 158.0,69.3 158.1,68.6 158.2,68.9 158.3,70.7 158.4,75.3 158.6,68.2 158.7,69.1 158.8,65.8 158.9,73.7 159.0,71.9 159.1,67.4 159.2,67.5 159.3,66.9 159.5,60.9 159.6,60.8 159.7,65.2 159.8,57.6 159.9,62.8 160.0,62.6 160.1,68.3 160.2,62.1 160.4,70.0 160.5,64.3 160.6,66.0 160.7,62.3 160.8,64.8 160.9,70.1 161.0,68.7 161.2,59.6 161.3,66.5 161.4,71.2 161.5,63.8 161.6,59.0 161.7,66.5 161.8,65.0 161.9,62.9 162.1,69.8 162.2,67.8 162.3,62.0 162.4,66.0 162.5,62.0 162.6,65.7 162.7,64.9 162.9,65.4 163.0,66.1 163.1,62.6 163.2,69.9 163.3,58.6 163.4,71.6 163.5,67.0 163.6,65.2 163.8,65.2 163.9,62.2 164.0,58.7 164.1,58.1 164.2,67.8 164.3,68.4 164.4,64.6 164.6,66.2 164.7,63.5 164.8,74.1 164.9,71.4 165.0,66.2 165.1,71.2 165.2,69.2 165.3,66.9 165.5,68.0 165.6,68.2 165.7,69.6 165.8,67.5 165.9,71.6 166.0,69.7 166.1,77.5 166.3,67.6 166.4,81.0 166.5,73.3 166.6,71.4 166.7,65.5 166.8,68.5 166.9,71.6 167.0,67.7 167.2,69.4 167.3,71.8 167.4,70.9 167.5,68.8 167.6,69.2 167.7,70.2 167.8,72.8 168.0,63.3 168.1,70.1 168.2,63.5 168.3,64.0 168.4,70.5 168.5,70.3 168.6,69.2 168.7,73.6 168.9,71.0 169.0,66.2 169.1,67.5 169.2,65.5 169.3,62.1 169.4,67.6 169.5,66.8 169.7,72.4 169.8,71.2 169.9,71.9 170.0,64.0 170.1,66.6 170.2,64.4 170.3,63.2 170.4,63.0 170.6,62.6 170.7,61.2 170.8,61.2 170.9,66.2 171.0,68.4 171.1,70.2 171.2,69.0 171.4,67.4 171.5,70.1 171.6,68.3 171.7,69.1 171.8,66.2 171.9,67.3 172.0,73.1 172.1,74.5 172.3,76.4 172.4,70.9 172.5,74.0 172.6,70.6 172.7,76.8 172.8,79.4 172.9,76.7 173.1,74.6 173.2,71.6 173.3,75.6 173.4,70.1 173.5,76.8 173.6,73.6 173.7,72.7 173.8,65.7 174.0,67.7 174.1,66.1 174.2,74.8 174.3,67.8 174.4,70.8 174.5,72.0 174.6,69.6 174.8,70.1 174.9,78.5 175.0,72.9 175.1,75.3 175.2,70.0 175.3,70.8 175.4,74.3 175.5,75.2 175.7,74.0 175.8,81.2 175.9,71.7 176.0,72.7 176.1,76.7 176.2,79.2 176.3,75.1 176.4,78.5 176.6,72.7 176.7,75.1 176.8,74.8 176.9,76.1 177.0,75.1 177.1,79.3 177.2,79.1 177.4,79.8 177.5,80.6 177.6,77.1 177.7,79.0 177.8,85.0 177.9,76.9 178.0,73.9 178.1,74.2 178.3,73.8 178.4,70.9 178.5,76.3 178.6,73.6 178.7,79.6 178.8,78.2 178.9,74.5 179.1,80.6 179.2,77.9 179.3,84.1 179.4,78.0 179.5,76.5 179.6,72.3 179.7,78.6 179.8,69.5 180.0,80.7 180.1,79.3 180.2,75.8 180.3,74.8 180.4,78.7 180.5,83.8 180.6,73.1 180.8,79.5 180.9,77.8 181.0,79.6 181.1,76.6 181.2,82.6 181.3,75.7 181.4,75.8 181.5,75.3 181.7,76.3 181.8,75.4 181.9,73.9 182.0,73.3 182.1,70.6 182.2,74.9 182.3,78.5 182.5,75.7 182.6,72.6 182.7,73.9 182.8,72.5 182.9,74.6 183.0,69.5 183.1,68.4 183.2,66.7 183.4,68.0 183.5,72.1 183.6,68.6 183.7,75.3 183.8,76.2 183.9,76.0 184.0,70.8 184.2,69.5 184.3,74.9 184.4,71.6 184.5,76.9 184.6,78.1 184.7,74.2 184.8,76.7 184.9,78.1 185.1,75.2 185.2,73.2 185.3,74.2 185.4,71.3 185.5,72.2 185.6,81.6 185.7,74.2 185.9,82.5 186.0,75.7 186.1,77.0 186.2,78.0 186.3,76.6 186.4,76.8 186.5,67.6 186.6,77.2 186.8,67.1 186.9,81.7 187.0,74.2 187.1,73.7 187.2,80.5 187.3,79.0 187.4,77.2 187.6,81.2 187.7,76.4 187.8,76.9 187.9,84.1 188.0,77.5 188.1,76.9 188.2,79.5 188.3,79.2 188.5,88.9 188.6,82.5 188.7,78.3 188.8,86.9 188.9,81.9 189.0,85.7 189.1,84.9 189.3,86.2 189.4,82.2 189.5,77.6 189.6,79.1 189.7,77.2 189.8,77.7 189.9,79.1 190.0,81.9 190.2,84.8 190.3,77.7 190.4,79.9 190.5,81.6 190.6,81.6 190.7,77.5 190.8,80.3 190.9,77.6 191.1,78.3 191.2,82.1 191.3,78.4 191.4,79.8 191.5,77.3 191.6,80.5 191.7,78.7 191.9,80.0 192.0,81.9 192.1,81.7 192.2,85.3 192.3,82.0 192.4,83.4 192.5,84.7 192.6,79.4 192.8,84.8 192.9,84.7 193.0,79.3 193.1,85.0 193.2,85.7 193.3,80.9 193.4,81.2 193.6,84.5 193.7,84.3 193.8,87.3 193.9,86.1 194.0,84.6 194.1,87.5 194.2,81.3 194.3,84.6 194.5,87.5 194.6,86.1 194.7,77.9 194.8,81.0 194.9,84.9 195.0,90.0 195.1,83.6 195.3,85.0 195.4,80.9 195.5,74.7 195.6,81.0 195.7,82.3 195.8,76.8 195.9,84.9 196.0,76.1 196.2,83.0 196.3,81.0 196.4,83.2 196.5,85.2 196.6,79.4 196.7,74.6 196.8,79.0 197.0,80.3 197.1,82.7 197.2,83.4 197.3,95.7 197.4,85.1 197.5,83.9 197.6,81.2 197.7,79.8 197.9,84.7 198.0,84.9 198.1,86.1 198.2,83.9 198.3,83.0 198.4,84.4 198.5,88.0 198.7,81.7 198.8,82.9 198.9,83.0 199.0,78.8 199.1,85.0 199.2,83.9 199.3,80.5 199.4,80.7 199.6,81.6 199.7,81.3 199.8,76.0 199.9,78.5 200.0,83.6 200.1,83.5 200.2,79.6 200.4,85.9 200.5,82.5 200.6,82.3 200.7,78.4 200.8,80.8 200.9,81.8 201.0,73.3 201.1,85.4 201.3,82.4 201.4,79.9 201.5,78.3 201.6,77.4 201.7,85.6 201.8,80.4 201.9,78.3 202.1,82.1 202.2,83.1 202.3,75.4 202.4,82.5 202.5,76.1 202.6,80.2 202.7,80.5 202.8,80.9 203.0,75.6 203.1,78.8 203.2,80.7 203.3,76.4 203.4,83.2 203.5,79.3 203.6,77.5 203.8,78.9 203.9,74.1 204.0,68.7 204.1,76.9 204.2,80.7 204.3,72.9 204.4,79.7 204.5,71.8 204.7,78.4 204.8,86.1 204.9,80.9 205.0,82.8 205.1,81.2 205.2,83.0 205.3,82.4 205.5,84.0 205.6,76.5 205.7,74.3 205.8,79.8 205.9,79.0 206.0,78.2 206.1,79.4 206.2,84.6 206.4,81.1 206.5,77.1 206.6,73.9 206.7,80.3 206.8,82.9 206.9,82.2 207.0,78.5 207.1,82.1 207.3,76.5 207.4,82.3 207.5,83.4 207.6,85.0 207.7,75.7 207.8,81.8 207.9,82.4 208.1,79.3 208.2,81.7 208.3,79.0 208.4,81.6 208.5,79.5 208.6,80.1 208.7,83.2 208.8,76.6 209.0,81.9 209.1,75.0 209.2,70.2 209.3,79.1 209.4,77.9 209.5,77.2 209.6,71.0 209.8,76.3 209.9,69.2 210.0,81.0 210.1,75.8 210.2,80.0 210.3,75.5 210.4,75.6 210.5,75.3 210.7,74.7 210.8,72.9 210.9,76.6 211.0,71.9 211.1,77.9 211.2,78.5 211.3,80.4 211.5,79.8 211.6,77.7 211.7,79.5 211.8,79.9 211.9,83.1 212.0,77.1 212.1,75.7 212.2,80.6 212.4,72.1 212.5,81.6 212.6,74.8 212.7,84.9 212.8,91.6 212.9,89.3 213.0,76.7 213.2,82.5 213.3,82.5 213.4,84.5 213.5,80.5 213.6,77.9 213.7,74.8 213.8,74.2 213.9,81.0 214.1,79.4 214.2,73.4 214.3,82.0 214.4,85.5 214.5,80.1 214.6,81.9 214.7,82.0 214.9,86.1 215.0,88.3 215.1,83.6 215.2,87.7 215.3,87.0 215.4,88.6 215.5,82.2 215.6,86.9 215.8,81.6 215.9,87.1 216.0,82.8 216.1,79.8 216.2,82.2 216.3,84.8 216.4,79.1 216.6,81.8 216.7,78.4 216.8,76.0 216.9,76.7 217.0,81.3 217.1,83.2 217.2,77.5 217.3,81.1 217.5,81.2 217.6,79.5 217.7,79.7 217.8,79.0 217.9,76.0 218.0,79.3 218.1,76.8 218.3,74.9 218.4,81.0 218.5,70.9 218.6,77.6 218.7,73.4 218.8,82.3 218.9,83.7 219.0,79.9 219.2,86.7 219.3,85.3 219.4,79.4 219.5,74.4 219.6,80.0 219.7,76.2 219.8,86.7 220.0,83.9 220.1,82.7 220.2,84.3 220.3,82.4 220.4,75.6 220.5,76.3 220.6,80.7 220.7,75.5 220.9,80.6 221.0,83.1 221.1,75.1 221.2,81.2 221.3,82.6 221.4,79.2 221.5,77.6 221.7,82.6 221.8,83.0 221.9,80.2 222.0,77.9 222.1,80.9 222.2,81.9 222.3,81.9 222.4,82.8 222.6,78.7 222.7,83.7 222.8,79.3 222.9,84.8 223.0,81.8 223.1,84.6 223.2,83.5 223.3,79.9 223.5,78.7 223.6,85.9 223.7,78.1 223.8,83.0 223.9,78.2 224.0,78.7 224.1,80.9 224.3,79.2 224.4,86.5 224.5,87.0 224.6,84.4 224.7,82.8 224.8,83.3 224.9,82.5 225.0,82.2 225.2,78.0 225.3,83.4 225.4,84.8 225.5,81.6 225.6,80.8 225.7,76.3 225.8,76.8 226.0,80.3 226.1,86.2 226.2,85.6 226.3,80.4 226.4,81.0 226.5,82.8 226.6,80.2 226.7,78.5 226.9,81.8 227.0,87.1 227.1,84.1 227.2,83.2 227.3,85.0 227.4,81.9 227.5,83.7 227.7,81.8 227.8,77.5 227.9,77.2 228.0,75.5 228.1,84.1 228.2,82.0 228.3,86.8 228.4,85.8 228.6,89.7 228.7,76.2 228.8,88.4 228.9,82.4 229.0,81.2 229.1,74.7 229.2,82.9 229.4,87.8 229.5,86.3 229.6,89.3 229.7,90.1 229.8,91.1 229.9,84.1 230.0,87.7 230.1,85.9 230.3,85.6 230.4,87.7 230.5,85.6 230.6,85.1 230.7,87.0 230.8,83.8 230.9,90.9 231.1,86.3 231.2,85.6 231.3,89.9 231.4,97.9 231.5,88.8 231.6,85.4 231.7,83.3 231.8,76.4 232.0,81.6 232.1,87.6 232.2,90.2 232.3,84.9 232.4,86.4 232.5,89.9 232.6,86.0 232.8,86.0 232.9,79.4 233.0,87.4 233.1,89.8 233.2,88.5 233.3,86.8 233.4,90.9 233.5,82.3 233.7,81.8 233.8,84.2 233.9,88.0 234.0,87.3 234.1,82.2 234.2,78.7 234.3,82.5 234.5,80.2 234.6,80.4 234.7,83.8 234.8,81.8 234.9,82.3 235.0,88.0 235.1,88.4 235.2,86.7 235.4,79.7 235.5,81.1 235.6,81.9 235.7,83.1 235.8,83.7 235.9,87.6 236.0,90.0 236.2,89.7 236.3,87.2 236.4,86.7 236.5,83.4 236.6,90.7 236.7,80.3 236.8,87.0 236.9,87.8 237.1,84.5 237.2,86.5 237.3,88.4 237.4,87.1 237.5,92.1 237.6,96.3 237.7,85.0 237.9,92.6 238.0,88.1 238.1,83.9 238.2,91.8 238.3,86.6 238.4,83.4 238.5,88.3 238.6,84.9 238.8,86.2 238.9,88.9 239.0,82.9 239.1,85.0 239.2,88.5 239.3,86.7 239.4,84.9 239.5,86.2 239.7,84.3 239.8,88.0 239.9,83.2 240.0,81.0 240.1,82.5 240.2,83.7 240.3,83.1 240.5,87.3 240.6,86.2 240.7,84.2 240.8,79.7 240.9,84.2 241.0,80.5 241.1,84.0 241.2,80.7 241.4,79.1 241.5,79.4 241.6,82.4 241.7,80.2 241.8,85.0 241.9,84.0 242.0,82.4 242.2,83.3 242.3,84.5 242.4,78.7 242.5,86.8 242.6,83.0 242.7,89.1 242.8,89.3 242.9,86.1 243.1,80.6 243.2,85.2 243.3,85.2 243.4,82.9 243.5,89.9 243.6,80.6 243.7,86.5 243.9,89.0 244.0,85.1 244.1,88.5 244.2,85.1 244.3,85.5 244.4,86.8 244.5,87.8 244.6,86.8 244.8,86.5 244.9,86.3 245.0,83.4 245.1,84.7 245.2,87.7 245.3,92.6 245.4,86.0 245.6,85.4 245.7,87.4 245.8,82.6 245.9,82.5 246.0,81.1 246.1,84.1 246.2,91.2 246.3,87.9 246.5,85.8 246.6,87.7 246.7,90.7 246.8,83.7 246.9,82.3 247.0,78.3 247.1,87.3 247.3,91.9 247.4,82.7 247.5,86.9 247.6,86.4 247.7,85.5 247.8,86.1 247.9,86.6 248.0,89.0 248.2,88.1 248.3,86.4 248.4,83.0 248.5,85.6 248.6,84.0 248.7,81.7 248.8,83.0 249.0,80.7 249.1,83.8 249.2,81.0 249.3,84.8 249.4,86.1 249.5,82.7 249.6,85.0 249.7,86.0 249.9,86.1 250.0,85.3 250.1,89.6 250.2,81.1 250.3,94.5 250.4,94.0 250.5,92.9 250.7,86.9 250.8,96.1 250.9,90.6 251.0,85.1 251.1,85.8 251.2,86.1 251.3,84.9 251.4,86.8 251.6,87.5 251.7,87.2 251.8,86.1 251.9,86.8 252.0,80.1 252.1,88.9 252.2,85.4 252.4,87.5 252.5,81.6 252.6,83.9 252.7,85.4 252.8,88.1 252.9,83.8 253.0,85.1 253.1,84.1 253.3,84.2 253.4,86.0 253.5,83.6 253.6,85.6 253.7,83.3 253.8,84.5 253.9,83.5 254.0,78.1 254.2,90.5 254.3,83.3 254.4,87.8 254.5,86.4 254.6,85.0 254.7,85.7 254.8,89.0 255.0,83.5 255.1,83.2 255.2,83.6 255.3,92.6 255.4,86.8 255.5,84.8 255.6,85.0 255.7,85.1 255.9,82.6 256.0,82.1 256.1,81.4 256.2,78.8 256.3,88.8 256.4,86.6 256.5,87.2 256.7,86.8 256.8,85.5 256.9,86.9 257.0,85.6 257.1,83.7 257.2,83.5 257.3,87.6 257.4,91.7 257.6,87.9 257.7,92.5 257.8,83.8 257.9,84.6 258.0,77.0 258.1,85.3 258.2,76.9 258.4,86.4 258.5,79.3 258.6,88.1 258.7,87.4 258.8,86.6 258.9,82.1 259.0,92.2 259.1,84.0 259.3,85.1 259.4,88.5 259.5,85.7 259.6,89.6 259.7,88.4 259.8,90.0 259.9,89.4 260.1,92.7 260.2,91.1 260.3,89.9 260.4,91.5 260.5,86.5 260.6,81.4 260.7,87.6 260.8,82.3 261.0,90.7 261.1,86.1 261.2,82.5 261.3,84.4 261.4,80.1 261.5,79.5 261.6,80.1 261.8,84.6 261.9,76.6 262.0,82.9 262.1,80.6 262.2,83.6 262.3,80.5 262.4,85.6 262.5,88.1 262.7,80.9 262.8,82.0 262.9,83.8 263.0,87.7 263.1,83.2 263.2,87.5 263.3,87.7 263.5,90.6 263.6,91.8 263.7,94.9 263.8,87.5 263.9,85.7 264.0,92.2 264.1,84.8 264.2,87.3 264.4,87.8 264.5,84.8 264.6,90.6 264.7,88.2 264.8,88.0 264.9,86.2 265.0,82.7 265.2,85.0 265.3,81.6 265.4,84.4 265.5,84.1 265.6,87.1 265.7,86.3 265.8,84.9 265.9,88.2 266.1,82.0 266.2,79.6 266.3,76.3 266.4,85.6 266.5,82.6 266.6,84.5 266.7,87.6 266.9,89.1 267.0,85.6 267.1,82.3 267.2,82.3 267.3,85.8 267.4,80.1 267.5,82.2 267.6,80.5 267.8,79.5 267.9,77.5 268.0,84.5 268.1,80.3 268.2,82.2 268.3,83.3 268.4,81.4 268.6,84.3 268.7,84.5 268.8,78.9 268.9,78.8 269.0,88.8 269.1,79.5 269.2,83.5 269.3,84.7 269.5,84.4 269.6,92.0 269.7,87.1 269.8,79.4 269.9,84.1 270.0,89.0 270.1,83.0 270.2,93.5 270.4,86.8 270.5,89.8 270.6,81.9 270.7,84.5 270.8,81.2 270.9,85.1 271.0,80.2 271.2,76.4 271.3,80.6 271.4,87.7 271.5,80.6 271.6,80.2 271.7,83.4 271.8,82.2 271.9,82.2 272.1,80.3 272.2,80.5 272.3,81.5 272.4,83.6 272.5,78.8 272.6,82.5 272.7,77.3 272.9,90.4 273.0,82.8 273.1,83.7 273.2,89.9 273.3,83.9 273.4,83.2 273.5,85.1 273.6,88.1 273.8,86.7 273.9,84.9 274.0,82.9 274.1,85.6 274.2,89.5 274.3,85.8 274.4,91.8 274.6,85.9 274.7,84.5 274.8,92.8 274.9,86.3 275.0,85.5 275.1,84.2 275.2,84.1 275.3,78.4 275.5,78.9 275.6,80.5 275.7,77.1 275.8,83.0 275.9,79.5 276.0,84.9 276.1,81.2 276.3,72.7 276.4,80.5 276.5,82.0 276.6,79.9 276.7,83.2 276.8,80.8 276.9,79.6 277.0,79.3 277.2,77.9 277.3,76.1 277.4,81.4 277.5,79.7 277.6,84.0 277.7,75.1 277.8,86.5 278.0,77.4 278.1,83.8 278.2,78.2 278.3,83.7 278.4,78.5 278.5,75.9 278.6,82.1 278.7,87.2 278.9,80.2 279.0,85.9 279.1,85.3 279.2,83.1 279.3,82.6 279.4,85.7 279.5,81.2 279.7,77.5 279.8,74.9 279.9,79.4 280.0,80.5 280.1,74.0 280.2,73.1 280.3,78.2 280.4,81.4 280.6,74.6 280.7,78.9 280.8,79.8 280.9,78.4 281.0,80.5 281.1,73.9 281.2,82.8 281.4,85.8 281.5,80.9 281.6,85.5 281.7,82.6 281.8,87.2 281.9,77.5 282.0,80.6 282.1,83.3 282.3,85.2 282.4,88.5 282.5,87.7 282.6,84.7 282.7,80.7 282.8,81.5 282.9,92.2 283.1,89.1 283.2,75.2 283.3,83.3 283.4,82.3 283.5,81.3 283.6,78.2 283.7,81.8 283.8,79.3 284.0,77.5 284.1,76.9 284.2,73.3 284.3,76.3 284.4,74.1 284.5,80.3 284.6,78.1 284.8,77.7 284.9,75.0 285.0,77.1 285.1,80.8 285.2,83.1 285.3,87.2 285.4,85.6 285.5,80.6 285.7,79.0 285.8,80.8 285.9,82.8 286.0,81.4 286.1,82.0 286.2,78.2 286.3,76.3 286.4,71.4 286.6,70.8 286.7,75.6 286.8,72.5 286.9,78.2 287.0,80.6 287.1,74.4 287.2,72.8 287.4,75.6 287.5,79.7 287.6,77.4 287.7,72.4 287.8,75.2 287.9,72.3 288.0,82.7 288.1,76.2 288.3,77.1 288.4,77.0 288.5,73.7 288.6,69.2 288.7,78.9 288.8,77.5 288.9,76.5 289.1,81.4 289.2,80.3 289.3,82.7 289.4,78.3 289.5,68.2 289.6,78.4 289.7,77.5 289.8,73.7 290.0,75.6 290.1,73.3 290.2,76.3 290.3,77.1 290.4,80.3 290.5,81.0 290.6,77.0 290.8,71.3 290.9,80.1 291.0,81.6 291.1,76.9 291.2,81.5 291.3,80.7 291.4,70.4 291.5,77.0 291.7,80.6 291.8,76.7 291.9,68.6 292.0,72.9 292.1,76.3 292.2,73.7 292.3,70.3 292.5,73.1 292.6,78.3 292.7,76.9 292.8,74.2 292.9,84.4 293.0,83.7 293.1,74.5 293.2,74.0 293.4,73.1 293.5,72.5 293.6,67.8 293.7,73.5 293.8,76.3 293.9,72.6 294.0,67.7 294.2,75.5 294.3,68.0 294.4,70.2 294.5,77.9 294.6,79.2 294.7,81.2 294.8,80.8 294.9,82.7 295.1,77.4 295.2,81.3 295.3,79.1 295.4,81.3 295.5,83.7 295.6,78.7 295.7,77.2 295.9,77.5 296.0,82.8 296.1,79.0 296.2,80.6 296.3,80.3 296.4,76.6 296.5,86.9 296.6,82.1 296.8,81.9 296.9,75.5 297.0,78.5 297.1,78.9 297.2,80.2 297.3,76.3 297.4,79.4 297.6,76.3 297.7,83.2 297.8,80.7 297.9,80.2 298.0,80.4 298.1,77.5 298.2,74.7 298.3,71.5 298.5,76.6 298.6,75.7 298.7,76.1 298.8,78.6 298.9,74.2 299.0,78.8 299.1,83.8 299.3,85.0 299.4,85.1 299.5,76.5 299.6,81.1 299.7,83.1 299.8,79.6 299.9,81.3 300.0,77.4 300.2,81.5 300.3,82.8 300.4,74.3 300.5,81.7 300.6,82.6 300.7,83.3 300.8,77.5 300.9,76.4 301.1,75.8 301.2,78.1 301.3,73.5 301.4,84.7 301.5,82.6 301.6,83.4 301.7,77.8 301.9,79.9 302.0,77.1 302.1,80.7 302.2,86.1 302.3,77.1 302.4,85.8 302.5,76.8 302.6,79.2 302.8,86.1 302.9,78.2 303.0,79.0 303.1,80.0 303.2,73.4 303.3,81.3 303.4,84.7 303.6,83.3 303.7,75.2 303.8,75.6 303.9,78.9 304.0,75.8 304.1,80.6 304.2,80.9 304.3,78.2 304.5,80.8 304.6,83.9 304.7,77.2 304.8,77.9 304.9,78.3 305.0,73.9 305.1,73.6 305.3,80.0 305.4,76.8 305.5,81.5 305.6,79.3 305.7,78.5 305.8,80.2 305.9,82.8 306.0,77.8 306.2,77.9 306.3,82.2 306.4,75.6 306.5,79.5 306.6,76.7 306.7,81.5 306.8,82.8 307.0,82.1 307.1,78.2 307.2,74.8 307.3,70.9 307.4,71.1 307.5,75.7 307.6,77.6 307.7,72.0 307.9,71.1 308.0,76.4 308.1,74.7 308.2,75.3 308.3,75.0 308.4,64.8 308.5,70.7 308.7,69.3 308.8,64.0 308.9,74.7 309.0,72.0 309.1,69.0 309.2,70.3 309.3,73.2 309.4,73.9 309.6,72.0 309.7,71.7 309.8,77.3 309.9,73.1 310.0,75.2 310.1,79.0 310.2,78.2 310.4,79.3 310.5,80.5 310.6,76.6 310.7,83.2 310.8,73.2 310.9,77.3 311.0,79.0 311.1,75.1 311.3,83.8 311.4,84.0 311.5,76.1 311.6,82.3 311.7,76.4 311.8,77.6 311.9,77.1 312.1,76.9 312.2,79.7 312.3,82.7 312.4,85.4 312.5,80.3 312.6,78.5 312.7,71.9 312.8,71.5 313.0,74.3 313.1,68.8 313.2,67.3 313.3,77.8 313.4,73.8 313.5,76.0 313.6,76.6 313.8,78.8 313.9,79.5 314.0,73.4 314.1,76.9 314.2,79.1 314.3,76.2 314.4,82.7 314.5,79.1 314.7,77.4 314.8,71.6 314.9,76.9 315.0,73.8 315.1,79.1 315.2,74.7 315.3,79.3 315.5,76.2 315.6,78.9 315.7,77.5 315.8,70.8 315.9,76.5 316.0,78.7 316.1,81.4 316.2,80.9 316.4,74.8 316.5,82.5 316.6,79.6 316.7,74.4 316.8,75.5 316.9,73.3 317.0,71.9 317.1,75.8 317.3,70.3 317.4,67.2 317.5,73.8 317.6,74.2 317.7,69.5 317.8,75.1 317.9,73.7 318.1,72.8 318.2,76.7 318.3,77.3 318.4,79.3 318.5,76.6 318.6,78.2 318.7,82.4 318.8,79.3 319.0,73.9 319.1,75.3 319.2,75.2 319.3,80.2 319.4,81.6 319.5,76.7 319.6,75.6 319.8,74.8 319.9,81.3 320.0,78.6 320.1,76.0 320.2,81.5 320.3,82.3 320.4,84.9 320.5,83.5 320.7,76.7 320.8,82.7 320.9,77.5 321.0,78.7 321.1,70.6 321.2,74.1 321.3,75.5 321.5,72.2 321.6,76.0 321.7,76.3 321.8,75.8 321.9,73.2 322.0,75.8 322.1,80.8 322.2,77.1 322.4,79.7 322.5,82.1 322.6,76.8 322.7,82.3 322.8,79.3 322.9,81.5 323.0,79.6 323.2,73.8 323.3,77.2 323.4,74.8 323.5,78.3 323.6,83.2 323.7,75.5 323.8,79.6 323.9,78.4 324.1,76.1 324.2,74.1 324.3,72.3 324.4,79.2" fill="none" stroke="#6A1FC0" stroke-width="0.7" stroke-linejoin="round" />
<path d="M69.61 151.90v-5.5M126.23 151.90v-5.5M182.85 151.90v-5.5M239.47 151.90v-5.5M296.09 151.90v-5.5M97.92 151.90v-9M154.54 151.90v-9M211.16 151.90v-9M267.78 151.90v-9M324.40 151.90v-9M41.30 137.72h5.5M41.30 109.36h5.5M41.30 81.00h5.5M41.30 52.64h5.5M41.30 24.28h5.5M41.30 123.54h9M41.30 95.18h9M41.30 66.82h9M41.30 38.46h9M41.30 10.10h9" stroke="#555" stroke-width="1.1" fill="none"/>
<path d="M41.30 10.10V151.90H324.40" stroke="#555" stroke-width="1.5" fill="none" stroke-linejoin="miter"/>
<text x="41.90" y="168.30" class="tk" text-anchor="middle">0</text>
<text x="98.52" y="168.30" class="tk" text-anchor="middle">100</text>
<text x="155.14" y="168.30" class="tk" text-anchor="middle">200</text>
<text x="211.76" y="168.30" class="tk" text-anchor="middle">300</text>
<text x="268.38" y="168.30" class="tk" text-anchor="middle">400</text>
<text x="325.00" y="168.30" class="tk" text-anchor="middle">500</text>
<text x="38.00" y="156.50" class="tk" text-anchor="end">0</text>
<text x="38.00" y="128.14" class="tk" text-anchor="end">0.2</text>
<text x="38.00" y="99.78" class="tk" text-anchor="end">0.4</text>
<text x="38.00" y="71.42" class="tk" text-anchor="end">0.6</text>
<text x="38.00" y="43.06" class="tk" text-anchor="end">0.8</text>
<text x="38.00" y="14.70" class="tk" text-anchor="end">1</text>
<text x="182.85" y="188.90" class="tt" text-anchor="middle">Time (ns)</text>
<text transform="translate(13.10 81.00) rotate(-90)" class="tt" text-anchor="middle">RMSD (nm)</text>
<polyline points="397.4,133.1 398.1,136.6 398.7,139.6 398.8,140.3 399.5,139.5 400.2,139.1 401.0,137.8 401.7,137.2 402.4,135.9 402.7,137.1 403.1,136.1 403.8,137.4 404.5,138.0 405.2,139.3 405.9,140.5 406.6,140.8 407.3,141.1 408.0,142.3 408.8,143.0 409.5,143.0 410.2,144.4 410.9,146.0 411.6,144.7 412.3,144.6 413.0,145.2 413.7,144.7 414.4,143.9 415.1,143.8 415.9,143.7 416.6,141.8 417.3,139.5 418.0,138.6 418.7,137.9 419.4,136.3 420.1,134.7 420.8,133.7 421.5,132.0 422.2,130.1 422.9,129.2 423.3,119.9 423.7,117.3 424.4,112.7 424.7,110.0 425.1,110.5 425.8,110.1 426.5,113.0 426.8,115.0 427.2,117.6 427.9,123.4 428.6,130.2 429.3,131.4 430.0,133.4 430.8,135.6 431.5,136.2 432.2,136.4 432.9,138.3 433.6,138.3 434.3,138.0 435.0,139.5 435.7,138.9 436.4,139.0 437.1,138.5 437.8,139.2 438.6,135.7 439.3,131.9 440.0,129.1 440.7,125.0 441.4,121.6 442.1,125.8 442.8,130.8 443.5,134.5 444.2,138.8 444.9,139.6 445.7,139.7 446.4,139.5 447.1,139.1 447.8,141.5 448.5,140.5 449.2,140.0 449.9,140.0 450.6,140.5 451.3,139.0 452.0,137.6 452.7,134.5 453.5,131.2 454.2,130.1 454.9,122.1 455.6,114.5 456.3,106.0 457.0,97.2 457.7,108.7 458.4,122.4 459.1,135.1 459.8,137.4 460.6,139.3 461.3,139.5 462.0,140.5 462.7,140.3 463.4,140.4 464.1,140.7 464.8,141.2 465.5,140.7 466.2,140.4 466.9,140.6 467.6,140.7 468.4,141.6 469.1,141.6 469.8,139.6 470.5,139.1 471.2,139.4 471.9,137.3 472.6,136.0 473.3,133.8 474.0,133.5 474.7,132.9 475.4,132.6 475.6,131.2 476.2,123.0 476.6,119.1 476.9,111.7 477.6,91.5 478.3,96.8 479.0,101.9 479.7,98.4 480.4,94.7 481.1,91.0 481.8,87.8 482.5,84.3 483.3,79.6 484.0,74.5 484.7,70.0 485.4,64.2 486.1,57.7 486.8,51.2 487.5,44.4 488.2,38.8 488.9,33.0 489.1,31.9 489.6,41.1 490.0,47.2 490.3,54.1 491.1,67.8 491.8,82.6 492.1,90.2 492.5,97.6 493.2,112.1 493.9,119.3 494.6,127.0 495.3,131.1 496.0,133.6 496.7,134.0 497.4,134.1 498.2,134.2 498.9,135.1 499.6,135.9 500.3,134.5 501.0,134.4 501.7,133.6 502.4,132.9 503.1,134.6 503.8,134.2 504.5,133.8 505.2,133.2 506.0,132.7 506.7,134.4 507.4,136.1 508.1,138.8 508.8,140.2 509.5,141.2 510.2,141.5 510.9,142.5 511.6,142.5 512.3,141.7 513.1,141.5 513.8,141.2 514.5,141.2 515.2,140.7 515.9,139.8 516.6,139.1 517.3,137.6 518.0,134.9 518.7,131.9 519.4,130.2 520.1,125.8 520.9,122.6 521.6,119.2 522.3,122.8 523.0,126.6 523.7,129.8 524.4,132.6 525.1,135.7 525.8,138.4 526.5,139.4 527.2,140.1 528.0,141.6 528.7,141.9 529.4,143.4 530.1,142.1 530.8,142.7 531.5,141.3 532.2,140.0 532.9,140.5 533.6,136.6 534.3,132.4 535.0,129.0 535.8,123.6 536.5,117.8 537.2,112.6 537.9,107.2 538.6,114.7 539.3,121.8 540.0,129.9 540.7,133.2 541.4,137.7 541.8,140.5 542.1,139.9 542.9,138.5 543.6,138.3 544.3,139.2 545.0,138.8 545.7,139.5 546.4,139.1 547.1,138.5 547.8,139.7 548.5,138.4 549.2,135.5 549.9,132.3 550.7,129.5 551.4,126.4 552.1,121.9 552.8,116.5 553.5,111.2 553.8,109.3 554.2,109.3 554.9,110.5 555.6,112.4 556.3,107.7 557.0,103.0 557.8,98.8 558.5,94.3 559.2,89.8 559.4,88.8 559.9,96.1 560.6,105.8 561.3,115.4 562.0,125.2 562.7,127.2 563.4,129.0 564.1,132.7 564.5,133.8 564.8,133.6 565.6,133.7 566.3,133.6 567.0,134.7 567.7,134.6 568.4,133.7 569.1,134.9 569.8,137.0 570.5,137.8 571.2,138.2 571.9,139.1 572.7,140.5 573.4,140.1 574.1,142.1 574.8,142.3 575.5,140.4 576.2,139.4 576.9,136.2 577.6,134.1 578.3,130.1 579.0,124.5 579.6,120.8 579.7,121.2 580.5,118.2 580.8,116.1 581.2,117.0 581.9,119.7 582.1,120.5 582.6,123.2 583.3,127.5 584.0,129.1 584.7,131.7 585.4,134.0 586.1,135.4 586.8,137.9 587.6,139.5 588.3,139.3 589.0,140.5 589.3,141.4 589.7,140.9 590.4,140.8 591.1,140.0 591.8,140.0 592.5,138.6 593.2,138.8 593.9,136.4 594.6,134.9 595.4,133.9 595.8,132.5 596.1,131.5 596.8,129.0 597.5,127.5 598.2,125.4 598.9,121.6 599.6,121.7 599.8,121.2 600.3,123.6 601.0,126.5 601.7,130.7 602.5,135.1 603.2,138.2 603.9,139.8 604.6,140.2 605.3,142.8 605.6,143.4 606.0,140.5 606.7,140.7 607.4,140.4 608.1,139.0 608.8,137.7 609.5,135.1 610.3,133.2 611.0,131.9 611.7,129.6 612.4,126.0 613.1,128.8 613.8,134.3 614.5,137.2 615.2,140.6 615.9,141.7 616.6,143.8 617.3,141.0 618.1,139.5 618.8,138.1 619.5,136.1 620.2,134.0 620.9,131.6 621.3,129.4 621.6,131.1 622.3,135.5 623.0,138.6 623.7,142.7 624.4,141.9 625.2,141.4 625.9,140.4 626.6,139.4 627.3,141.1 628.0,139.4 628.7,138.7 629.4,138.8 630.1,138.0 630.8,137.9 631.5,138.1 632.2,140.3 633.0,140.1 633.7,139.5 634.4,138.4 635.1,137.6 635.8,137.6 636.5,139.5 637.2,141.5 637.9,140.8 638.6,140.8 639.3,141.5 640.1,143.3 640.6,144.3 640.8,144.9 641.5,142.0 642.2,140.1 642.9,134.8 643.6,129.8 643.8,128.5" fill="none" stroke="#000000" stroke-width="0.6" stroke-linejoin="round" />
<polyline points="397.4,133.8 398.1,137.5 398.7,140.8 398.8,140.5 399.5,138.5 400.2,138.4 401.0,137.1 401.7,136.2 402.4,134.1 402.7,132.2 403.1,133.5 403.8,135.4 404.5,139.2 405.2,140.9 405.9,142.1 406.6,141.1 407.3,141.5 408.0,142.0 408.8,143.1 409.5,143.4 410.2,143.8 410.9,145.0 411.6,145.1 412.3,144.7 413.0,144.6 413.7,144.4 414.4,143.9 415.1,143.7 415.9,142.3 416.6,142.8 417.3,141.1 418.0,140.8 418.7,140.4 419.4,140.4 420.1,139.2 420.8,137.0 421.5,134.6 422.2,132.8 422.9,130.5 423.7,126.7 424.4,124.4 425.1,122.6 425.8,119.6 426.5,122.4 427.2,124.7 427.9,127.0 428.6,130.1 429.3,134.8 430.0,137.9 430.8,140.5 431.5,141.5 432.2,141.8 432.9,141.8 433.6,143.3 434.3,142.2 435.0,141.2 435.7,141.0 436.4,140.7 437.1,140.5 437.8,139.5 438.6,137.1 439.3,134.5 440.0,131.1 440.7,128.6 441.4,126.2 442.1,130.1 442.8,133.3 443.5,136.5 444.2,141.4 444.9,142.8 445.7,142.6 446.4,142.6 447.1,142.6 447.8,142.2 448.5,141.0 449.2,140.8 449.9,140.2 450.6,141.0 451.3,141.3 452.0,138.2 452.7,135.1 453.5,132.2 454.2,129.5 454.9,124.3 455.6,119.2 456.3,115.5 457.0,110.7 457.7,118.6 458.4,126.6 459.1,136.1 459.8,138.0 460.6,141.5 461.3,141.6 462.0,141.3 462.7,140.8 463.4,142.0 464.1,141.0 464.8,141.1 465.5,141.8 466.2,141.8 466.9,143.2 467.6,142.9 468.4,142.2 469.1,142.4 469.8,141.4 470.5,140.4 471.2,139.4 471.9,137.8 472.6,137.0 473.3,136.3 474.0,134.9 474.7,132.3 475.4,131.8 475.6,131.5 476.2,125.9 476.6,119.7 476.9,113.8 477.6,99.2 478.3,97.1 479.0,95.1 479.7,92.3 480.4,89.6 481.1,88.0 481.8,86.4 482.5,84.1 483.3,79.5 484.0,74.3 484.7,57.0 485.4,39.6 486.1,22.0 486.5,11.8 486.8,19.4 487.5,37.5 488.2,47.6 488.9,57.9 489.6,65.5 490.3,72.6 491.1,79.8 491.8,92.3 492.5,105.1 493.2,115.0 493.5,119.9 493.9,123.8 494.6,130.0 495.3,134.0 496.0,136.9 496.7,136.5 497.4,136.1 498.2,136.8 498.9,136.3 499.6,135.6 500.3,135.7 501.0,135.8 501.7,135.4 502.4,135.5 503.1,136.6 503.8,135.9 504.5,134.1 505.2,134.4 506.0,133.5 506.7,135.4 507.4,137.7 508.1,139.8 508.8,141.0 509.5,141.3 510.2,141.7 510.9,143.6 511.6,144.2 512.3,143.3 513.1,142.3 513.8,141.8 514.5,141.2 515.2,139.9 515.9,138.9 516.6,139.0 517.3,138.1 518.0,136.0 518.7,134.7 519.4,132.4 520.1,126.5 520.9,123.5 521.6,120.8 522.3,124.2 523.0,126.5 523.7,130.2 524.4,132.5 525.1,135.3 525.8,137.9 526.5,139.4 527.2,139.8 528.0,140.9 528.7,141.1 529.4,141.3 530.1,142.7 530.8,142.0 531.5,141.3 532.2,141.2 532.9,139.6 533.6,136.7 534.3,133.9 535.0,131.5 535.8,126.7 536.5,120.1 537.2,115.7 537.9,110.2 538.6,117.1 539.3,123.4 540.0,129.8 540.7,134.5 541.4,138.7 541.8,140.5 542.1,140.3 542.9,140.4 543.6,140.6 544.3,140.0 545.0,139.2 545.7,139.3 546.4,139.7 547.1,139.0 547.8,138.6 548.5,137.8 549.2,133.5 549.9,131.0 550.7,128.1 551.4,125.5 552.1,120.4 552.8,115.3 553.5,109.2 553.8,106.7 554.2,107.7 554.9,108.0 555.6,110.2 556.3,107.9 557.0,105.6 557.8,103.8 558.5,102.3 559.2,100.5 559.4,100.1 559.9,104.5 560.6,112.6 561.3,119.3 562.0,125.7 562.7,128.8 563.4,132.6 564.1,135.0 564.5,136.5 564.8,135.6 565.6,134.7 566.3,135.2 567.0,136.9 567.7,136.9 568.4,137.4 569.1,137.5 569.8,137.2 570.5,138.4 571.2,138.3 571.9,138.6 572.7,139.6 573.4,141.6 574.1,142.3 574.8,144.1 575.5,140.9 576.2,138.9 576.9,136.0 577.6,134.2 578.3,130.8 579.0,125.1 579.7,110.5 580.5,96.1 580.8,89.7 581.2,95.6 581.9,106.4 582.6,117.8 583.3,129.4 584.0,131.9 584.7,131.9 585.4,135.0 586.1,137.3 586.8,138.8 587.6,139.7 588.3,139.8 589.0,140.6 589.3,140.9 589.7,141.0 590.4,140.7 591.1,140.8 591.8,141.3 592.5,138.4 593.2,138.0 593.9,136.3 594.6,135.0 595.4,133.2 595.8,132.2 596.1,132.2 596.8,129.8 597.5,127.2 598.2,124.5 598.9,122.3 599.6,119.8 599.8,119.4 600.3,122.2 601.0,127.3 601.7,131.0 602.5,133.7 603.2,137.8 603.9,139.1 604.6,141.4 605.3,143.8 605.6,142.8 606.0,142.3 606.7,140.4 607.4,139.4 608.1,138.8 608.8,139.4 609.5,137.0 610.3,136.0 611.0,135.1 611.7,131.5 612.4,129.0 613.1,131.4 613.8,134.3 614.5,137.2 615.2,139.8 615.9,141.8 616.6,143.9 617.3,142.1 618.1,142.9 618.8,140.4 619.5,138.2 620.2,134.9 620.9,131.7 621.3,131.1 621.6,132.2 622.3,135.7 623.0,140.4 623.7,144.6 624.4,141.4 625.2,139.9 625.9,136.5 626.6,132.8 627.3,134.1 628.0,136.1 628.7,136.9 629.4,136.6 630.1,137.0 630.8,138.7 631.5,139.7 632.2,139.8 633.0,139.9 633.7,140.5 634.4,140.7 635.1,140.2 635.8,139.8 636.5,142.0 637.2,141.0 637.9,141.1 638.6,140.5 639.3,142.3 640.1,143.7 640.6,143.7 640.8,146.0 641.5,142.1 642.2,139.9 642.9,136.5 643.6,133.0 643.8,130.4" fill="none" stroke="#FFA500" stroke-width="0.6" stroke-linejoin="round" />
<polyline points="397.4,134.1 398.1,140.8 398.7,142.9 398.8,142.3 399.5,139.9 400.2,139.1 401.0,137.2 401.7,136.9 402.4,136.8 402.7,136.1 403.1,136.6 403.8,138.2 404.5,139.6 405.2,140.2 405.9,140.7 406.6,142.1 407.3,143.2 408.0,145.2 408.8,143.9 409.5,144.7 410.2,144.2 410.9,144.8 411.6,143.3 412.3,142.5 413.0,142.8 413.7,141.9 414.4,143.0 415.1,141.9 415.9,143.1 416.6,142.0 417.3,140.6 418.0,140.0 418.7,139.9 419.4,139.8 420.1,139.2 420.8,136.2 421.5,133.8 422.2,132.3 422.9,131.2 423.7,119.8 424.4,109.7 425.1,98.9 425.8,88.1 426.5,98.4 427.2,109.0 427.9,119.5 428.6,130.2 429.3,134.2 430.0,137.1 430.8,139.5 431.5,140.8 432.2,141.3 432.9,142.5 433.6,142.7 434.3,142.4 435.0,142.1 435.7,142.2 436.4,141.2 437.1,142.0 437.8,142.5 438.6,138.5 439.3,133.6 440.0,129.6 440.7,125.4 441.4,120.4 442.1,124.7 442.8,129.7 443.5,136.9 444.2,142.2 444.9,142.8 445.7,143.4 446.4,143.4 447.1,141.8 447.8,142.7 448.5,142.8 449.2,141.7 449.9,141.3 450.6,140.9 451.3,141.1 452.0,138.4 452.7,135.5 453.5,134.3 454.2,132.3 454.9,124.8 455.6,118.2 456.3,112.5 457.0,106.8 457.7,116.5 458.4,126.9 459.1,136.6 459.8,138.1 460.6,141.2 461.3,140.6 462.0,141.2 462.7,141.1 463.4,140.3 464.1,141.9 464.8,142.1 465.5,142.0 466.2,141.7 466.9,140.6 467.6,140.5 468.4,142.1 469.1,142.1 469.8,141.8 470.5,141.4 471.2,138.7 471.9,139.0 472.6,137.7 473.3,137.2 474.0,135.3 474.7,133.8 475.4,132.6 475.6,132.5 476.2,124.9 476.6,120.6 476.9,120.1 477.6,118.3 478.3,113.7 479.0,110.4 479.7,107.3 480.4,103.7 481.1,99.8 481.8,97.5 482.5,94.7 483.3,90.7 484.0,86.9 484.3,85.1 484.7,81.4 485.4,73.9 485.7,70.6 486.1,64.7 486.8,54.5 487.5,44.5 488.2,49.4 488.6,52.0 488.9,56.7 489.6,66.9 490.0,71.8 490.3,76.7 491.1,85.7 491.4,89.5 491.8,95.9 492.5,107.7 493.2,117.3 493.5,121.6 493.9,124.0 494.6,129.8 495.3,132.5 496.0,134.3 496.7,134.9 497.4,135.9 498.2,135.8 498.9,135.8 499.6,136.8 500.3,137.0 501.0,134.8 501.7,135.0 502.4,135.6 503.1,134.3 503.8,134.8 504.5,136.2 505.2,136.3 506.0,135.8 506.7,136.5 507.4,137.2 508.1,140.5 508.8,140.8 509.5,142.4 510.2,142.6 510.9,142.9 511.6,143.3 512.3,143.2 513.1,143.0 513.8,143.7 514.5,142.9 515.2,141.1 515.9,139.7 516.6,137.2 517.3,136.4 518.0,134.2 518.7,131.1 519.4,129.2 520.1,124.8 520.9,120.4 521.6,113.4 522.3,118.8 523.0,124.2 523.7,130.3 524.4,132.7 525.1,134.1 525.8,137.0 526.5,140.8 527.2,141.7 528.0,141.1 528.7,142.8 529.4,145.2 530.1,146.7 530.8,145.7 531.5,143.3 532.2,142.0 532.9,141.6 533.6,138.7 534.3,134.8 535.0,131.2 535.8,123.1 536.5,114.9 537.2,106.9 537.9,97.8 538.6,109.8 539.3,120.3 540.0,131.6 540.7,134.8 541.4,138.9 541.8,140.6 542.1,140.2 542.9,140.3 543.6,139.7 544.3,141.1 545.0,140.3 545.7,140.6 546.4,139.9 547.1,138.4 547.8,137.6 548.5,136.3 549.2,135.6 549.9,132.8 550.7,128.6 551.4,126.1 552.1,121.0 552.8,115.0 553.5,110.0 553.8,108.3 554.2,107.9 554.9,107.3 555.6,107.0 556.3,104.0 557.0,100.7 557.8,98.1 558.5,94.6 559.2,91.6 559.4,90.3 559.9,96.8 560.6,106.7 561.3,115.9 562.0,125.3 562.7,128.3 563.4,130.7 564.1,134.1 564.5,135.7 564.8,135.7 565.6,136.0 566.3,135.3 567.0,137.5 567.7,137.4 568.4,138.6 569.1,139.2 569.8,139.4 570.5,140.2 571.2,140.3 571.9,140.9 572.7,143.7 573.4,144.4 574.1,143.2 574.8,142.6 575.5,141.0 576.2,140.4 576.9,136.6 577.6,136.5 578.3,130.9 579.0,125.8 579.7,106.1 580.5,87.1 580.8,77.3 581.2,84.3 581.9,99.3 582.6,114.7 583.3,129.3 584.0,131.3 584.7,133.7 585.4,136.5 586.1,137.4 586.8,138.9 587.6,140.9 588.3,141.6 589.0,142.7 589.3,142.9 589.7,143.8 590.4,143.3 591.1,141.9 591.8,140.4 592.5,139.3 593.2,138.4 593.9,137.0 594.6,134.7 595.4,132.0 595.8,131.3 596.1,131.4 596.8,129.2 597.5,128.5 598.2,126.6 598.9,125.1 599.6,123.3 599.8,122.4 600.3,124.5 601.0,128.5 601.7,131.4 602.5,135.7 603.2,139.4 603.9,140.6 604.6,143.1 605.3,144.0 605.6,143.7 606.0,143.6 606.7,141.9 607.4,141.9 608.1,140.8 608.8,138.4 609.5,137.3 610.3,134.8 611.0,132.5 611.7,128.9 612.4,125.8 613.1,130.0 613.8,133.5 614.5,138.9 615.2,141.2 615.9,142.8 616.6,143.8 617.3,144.6 618.1,142.5 618.8,141.2 619.5,140.3 620.2,137.4 620.9,134.2 621.3,131.7 621.6,133.1 622.3,137.3 623.0,140.8 623.7,144.8 624.4,144.0 625.2,143.3 625.9,141.5 626.6,139.9 627.3,138.5 628.0,139.3 628.7,138.3 629.4,138.6 630.1,138.2 630.8,139.4 631.5,140.3 632.2,140.5 633.0,139.9 633.7,140.0 634.4,139.8 635.1,140.0 635.8,139.7 636.5,140.3 637.2,141.2 637.9,141.1 638.6,141.4 639.3,141.7 640.1,143.9 640.6,145.2 640.8,145.0 641.5,142.0 642.2,139.5 642.9,134.7 643.6,131.2 643.8,130.6" fill="none" stroke="#40E0D0" stroke-width="0.6" stroke-linejoin="round" />
<polyline points="397.4,134.3 398.1,139.5 398.7,144.0 398.8,145.2 399.5,143.0 400.2,140.3 401.0,139.3 401.7,137.9 402.4,136.4 402.7,136.9 403.1,135.6 403.8,138.1 404.5,139.2 405.2,138.5 405.9,140.3 406.6,141.5 407.3,143.0 408.0,143.6 408.8,145.8 409.5,146.3 410.2,144.9 410.9,145.5 411.6,145.4 412.3,144.7 413.0,144.1 413.7,143.8 414.4,143.1 415.1,144.2 415.9,143.0 416.6,142.8 417.3,141.3 418.0,140.7 418.7,140.8 419.4,140.0 420.1,139.8 420.8,136.7 421.5,134.7 422.2,132.2 422.9,131.1 423.7,127.4 424.4,125.4 425.1,122.2 425.8,119.6 426.5,123.1 427.2,125.5 427.9,128.4 428.6,130.6 429.3,133.1 430.0,136.4 430.8,139.4 431.5,141.6 432.2,142.2 432.9,142.8 433.6,142.9 434.3,143.6 435.0,143.1 435.7,142.8 436.4,144.0 437.1,144.3 437.8,143.3 438.6,141.8 439.3,139.9 440.0,136.5 440.7,133.9 441.4,131.9 442.1,134.0 442.8,136.6 443.5,139.1 444.2,141.5 444.9,141.4 445.7,140.8 446.4,141.9 447.1,142.4 447.8,143.0 448.5,143.5 449.2,142.5 449.9,141.3 450.6,141.7 451.3,140.5 452.0,138.5 452.7,135.1 453.5,132.1 454.2,130.3 454.9,126.6 455.6,121.3 456.3,116.7 457.0,111.7 457.7,119.9 458.4,127.2 459.1,135.8 459.8,139.0 460.6,143.3 461.3,143.2 462.0,143.7 462.7,142.6 463.4,142.7 464.1,142.4 464.8,142.2 465.5,142.2 466.2,141.4 466.9,141.2 467.6,141.7 468.4,141.7 469.1,141.4 469.8,139.8 470.5,139.5 471.2,138.1 471.9,138.3 472.6,137.7 473.3,137.8 474.0,135.8 474.7,135.1 475.4,134.1 475.6,132.9 476.2,126.2 476.6,121.2 476.9,117.0 477.6,108.5 478.3,98.0 478.6,93.2 479.0,91.6 479.7,88.5 480.4,85.9 481.1,83.5 481.8,81.8 482.5,82.0 483.3,82.0 484.0,85.1 484.7,88.6 485.4,86.9 486.1,85.0 486.4,83.8 486.8,82.7 487.5,80.4 488.2,77.7 488.8,75.3 488.9,76.6 489.6,82.3 490.0,85.7 490.3,88.5 491.1,94.5 491.4,97.2 491.8,100.1 492.5,105.8 493.0,110.7 493.2,112.6 493.9,121.4 494.6,128.2 495.0,130.6 495.3,132.1 496.0,137.7 496.7,136.4 497.4,136.2 498.2,136.8 498.9,136.6 499.6,136.7 500.3,135.9 501.0,137.3 501.7,137.4 502.4,137.3 503.1,138.4 503.8,134.4 504.5,130.7 505.2,129.0 506.0,126.3 506.7,130.2 507.4,133.6 508.1,137.7 508.8,140.5 509.5,142.2 510.2,141.8 510.9,142.5 511.6,141.7 512.3,143.6 513.1,143.4 513.8,144.1 514.5,143.6 515.2,142.0 515.9,141.6 516.6,141.3 517.3,140.9 518.0,137.2 518.7,133.2 519.4,129.9 520.1,126.5 520.9,123.6 521.6,119.9 522.3,124.4 523.0,128.7 523.7,131.1 524.4,133.7 525.1,135.8 525.8,138.6 526.5,140.0 527.2,139.9 528.0,141.7 528.7,142.7 529.4,143.8 530.1,143.2 530.8,141.8 531.5,141.8 532.2,139.6 532.9,139.6 533.6,137.6 534.3,135.6 535.0,131.7 535.8,127.8 536.5,124.7 537.2,121.0 537.9,117.0 538.6,121.6 539.3,125.6 540.0,129.2 540.7,133.5 541.4,138.4 541.8,140.3 542.1,140.1 542.9,138.9 543.6,140.0 544.3,141.5 545.0,141.0 545.7,140.7 546.4,140.6 547.1,139.6 547.8,139.0 548.5,137.8 549.2,135.5 549.9,132.7 550.7,129.2 551.4,126.1 552.1,120.9 552.8,116.4 553.5,112.3 553.8,109.6 554.2,110.5 554.9,111.9 555.6,113.5 556.3,111.9 557.0,110.1 557.8,108.1 558.5,106.5 559.2,104.4 559.4,103.2 559.9,107.4 560.6,114.0 561.3,118.5 562.0,125.6 562.7,128.1 563.4,130.7 564.1,133.0 564.5,135.6 564.8,135.7 565.6,136.1 566.3,135.5 567.0,135.7 567.7,135.9 568.4,136.0 569.1,135.9 569.8,137.2 570.5,138.2 571.2,140.5 571.9,140.7 572.7,142.5 573.4,142.2 574.1,142.9 574.8,144.3 575.5,142.9 576.2,140.5 576.9,138.1 577.6,136.3 578.3,131.2 579.0,126.1 579.7,109.9 580.5,93.5 580.8,85.2 581.2,90.9 581.9,103.2 582.6,116.0 583.3,127.5 584.0,129.5 584.7,132.6 585.4,134.5 586.1,136.8 586.8,139.0 587.6,140.6 588.3,140.3 589.0,141.7 589.3,142.1 589.7,142.0 590.4,141.9 591.1,140.9 591.8,140.0 592.5,137.8 593.2,138.2 593.9,136.3 594.6,134.4 595.4,134.1 595.8,132.2 596.1,130.4 596.8,128.1 597.5,126.5 598.2,125.3 598.9,125.2 599.6,123.2 599.8,122.5 600.3,125.1 601.0,127.8 601.7,131.1 602.5,133.4 603.2,138.7 603.9,141.1 604.6,144.2 605.3,145.5 605.6,145.6 606.0,144.4 606.7,143.4 607.4,141.1 608.1,139.7 608.8,137.7 609.5,136.2 610.3,135.5 611.0,133.2 611.7,131.6 612.4,128.7 613.1,132.1 613.8,135.1 614.5,138.0 615.2,142.0 615.9,143.9 616.6,144.8 617.3,143.9 618.1,142.5 618.8,140.9 619.5,138.8 620.2,136.3 620.9,133.2 621.3,132.0 621.6,133.4 622.3,137.3 623.0,141.9 623.7,146.4 624.4,143.0 625.2,141.0 625.9,140.4 626.6,138.7 627.3,138.4 628.0,138.3 628.7,139.2 629.4,140.5 630.1,141.1 630.8,140.8 631.5,139.6 632.2,138.8 633.0,139.7 633.7,140.4 634.4,139.7 635.1,138.8 635.8,140.5 636.5,140.6 637.2,140.9 637.9,141.6 638.6,142.0 639.3,143.7 640.1,145.1 640.6,147.2 640.8,146.0 641.5,142.9 642.2,140.2 642.9,135.1 643.6,130.4 643.8,129.1" fill="none" stroke="#7a3fd0" stroke-width="0.6" stroke-linejoin="round" />
<path d="M425.08 150.40v-5.5M496.02 150.40v-5.5M566.98 150.40v-5.5M637.92 150.40v-5.5M460.55 150.40v-9M531.50 150.40v-9M602.45 150.40v-9M673.40 150.40v-9M389.60 140.33h5.5M389.60 120.19h5.5M389.60 100.04h5.5M389.60 79.90h5.5M389.60 59.76h5.5M389.60 39.61h5.5M389.60 19.47h5.5M389.60 130.26h9M389.60 110.11h9M389.60 89.97h9M389.60 69.83h9M389.60 49.69h9M389.60 29.54h9M389.60 9.40h9" stroke="#555" stroke-width="1.1" fill="none"/>
<path d="M389.60 9.40V150.40H673.40" stroke="#555" stroke-width="1.5" fill="none" stroke-linejoin="miter"/>
<text x="390.20" y="166.60" class="tk" text-anchor="middle">200</text>
<text x="461.15" y="166.60" class="tk" text-anchor="middle">300</text>
<text x="532.10" y="166.60" class="tk" text-anchor="middle">400</text>
<text x="603.05" y="166.60" class="tk" text-anchor="middle">500</text>
<text x="674.00" y="166.60" class="tk" text-anchor="middle">600</text>
<text x="386.30" y="155.00" class="tk" text-anchor="end">0</text>
<text x="386.30" y="134.86" class="tk" text-anchor="end">0.2</text>
<text x="386.30" y="114.71" class="tk" text-anchor="end">0.4</text>
<text x="386.30" y="94.57" class="tk" text-anchor="end">0.6</text>
<text x="386.30" y="74.43" class="tk" text-anchor="end">0.8</text>
<text x="386.30" y="54.29" class="tk" text-anchor="end">1</text>
<text x="386.30" y="34.14" class="tk" text-anchor="end">1.2</text>
<text x="386.30" y="14.00" class="tk" text-anchor="end">1.4</text>
<text x="531.50" y="187.40" class="tt" text-anchor="middle">#Residue</text>
<text transform="translate(361.30 79.90) rotate(-90)" class="tt" text-anchor="middle">RMSF (nm)</text>
<polyline points="98.0,339.9 126.4,336.4 154.7,336.1 183.0,325.5 211.3,208.7 239.6,262.0 268.0,335.2 296.3,339.9" fill="none" stroke="#333" stroke-width="0.85" stroke-linejoin="round" />
<polyline points="98.0,339.9 126.4,334.9 154.7,334.7 183.0,332.1 211.3,270.8 239.6,208.7 268.0,321.5 296.3,339.9" fill="none" stroke="#FFA500" stroke-width="0.85" stroke-linejoin="round" />
<polyline points="98.0,339.9 126.4,338.7 154.7,337.5 183.0,309.7 211.3,231.1 239.6,253.3 268.0,335.9 296.3,339.9" fill="none" stroke="#40E0D0" stroke-width="0.85" stroke-linejoin="round" />
<polyline points="98.0,339.9 126.4,337.1 154.7,329.3 183.0,226.1 211.3,251.4 239.6,319.8 268.0,339.9" fill="none" stroke="#8a4fd8" stroke-width="0.85" stroke-linejoin="round" />
<path d="M69.72 339.90v-5.5M126.36 339.90v-5.5M183.00 339.90v-5.5M239.64 339.90v-5.5M296.28 339.90v-5.5M98.04 339.90v-9M154.68 339.90v-9M211.32 339.90v-9M267.96 339.90v-9M324.60 339.90v-9M41.40 328.10h5.5M41.40 304.50h5.5M41.40 280.90h5.5M41.40 257.30h5.5M41.40 233.70h5.5M41.40 210.10h5.5M41.40 316.30h9M41.40 292.70h9M41.40 269.10h9M41.40 245.50h9M41.40 221.90h9M41.40 198.30h9" stroke="#555" stroke-width="1.1" fill="none"/>
<path d="M41.40 198.30V339.90H324.60" stroke="#555" stroke-width="1.5" fill="none" stroke-linejoin="miter"/>
<text x="42.00" y="356.50" class="tk" text-anchor="middle">0</text>
<text x="98.64" y="356.50" class="tk" text-anchor="middle">0.2</text>
<text x="155.28" y="356.50" class="tk" text-anchor="middle">0.4</text>
<text x="211.92" y="356.50" class="tk" text-anchor="middle">0.6</text>
<text x="268.56" y="356.50" class="tk" text-anchor="middle">0.8</text>
<text x="325.20" y="356.50" class="tk" text-anchor="middle">1</text>
<text x="38.10" y="344.50" class="tk" text-anchor="end">0</text>
<text x="38.10" y="320.90" class="tk" text-anchor="end">1</text>
<text x="38.10" y="297.30" class="tk" text-anchor="end">2</text>
<text x="38.10" y="273.70" class="tk" text-anchor="end">3</text>
<text x="38.10" y="250.10" class="tk" text-anchor="end">4</text>
<text x="38.10" y="226.50" class="tk" text-anchor="end">5</text>
<text x="38.10" y="202.90" class="tk" text-anchor="end">6</text>
<text x="183.00" y="376.50" class="tt" text-anchor="middle">RMSD (nm)</text>
<text transform="translate(23.60 269.10) rotate(-90)" class="tt" text-anchor="middle">PDF</text>
<polyline points="389.6,339.4 409.9,225.1 430.2,295.2 450.4,320.8 470.7,330.1 491.0,333.1 511.3,335.8 531.5,338.4 551.8,339.0 572.1,339.0 592.4,338.8 612.7,338.6 632.9,338.8 653.2,339.0 673.5,339.0" fill="none" stroke="#333" stroke-width="0.85" stroke-linejoin="round" />
<polyline points="389.6,339.4 409.9,218.9 430.2,302.5 450.4,321.2 470.7,330.7 491.0,334.9 511.3,336.2 531.5,337.8 551.8,338.8 572.1,339.0 592.4,339.0 612.7,338.8 632.9,338.2 653.2,338.6 673.5,338.8" fill="none" stroke="#FFA500" stroke-width="0.85" stroke-linejoin="round" />
<polyline points="389.6,339.4 409.9,221.9 430.2,306.6 450.4,327.4 470.7,327.2 491.0,330.1 511.3,331.7 531.5,337.4 551.8,338.4 572.1,338.6 592.4,337.8 612.7,338.0 632.9,338.8 653.2,339.0 673.5,339.0" fill="none" stroke="#40E0D0" stroke-width="0.85" stroke-linejoin="round" />
<polyline points="389.6,339.4 409.9,214.4 430.2,304.6 450.4,321.6 470.7,332.1 491.0,334.7 511.3,335.3 531.5,333.1 551.8,339.4 572.1,338.8 592.4,338.6 612.7,338.8 632.9,339.0 653.2,339.0 673.5,339.0" fill="none" stroke="#8a4fd8" stroke-width="0.85" stroke-linejoin="round" />
<path d="M409.88 339.40v-5.5M450.44 339.40v-5.5M490.99 339.40v-5.5M531.55 339.40v-5.5M572.11 339.40v-5.5M612.66 339.40v-5.5M653.22 339.40v-5.5M430.16 339.40v-9M470.71 339.40v-9M511.27 339.40v-9M551.83 339.40v-9M592.39 339.40v-9M632.94 339.40v-9M673.50 339.40v-9M389.60 329.27h5.5M389.60 309.01h5.5M389.60 288.76h5.5M389.60 268.50h5.5M389.60 248.24h5.5M389.60 227.99h5.5M389.60 207.73h5.5M389.60 319.14h9M389.60 298.89h9M389.60 278.63h9M389.60 258.37h9M389.60 238.11h9M389.60 217.86h9M389.60 197.60h9" stroke="#555" stroke-width="1.1" fill="none"/>
<path d="M389.60 197.60V339.40H673.50" stroke="#555" stroke-width="1.5" fill="none" stroke-linejoin="miter"/>
<text x="390.20" y="355.60" class="tk" text-anchor="middle">0</text>
<text x="430.76" y="355.60" class="tk" text-anchor="middle">0.2</text>
<text x="471.31" y="355.60" class="tk" text-anchor="middle">0.4</text>
<text x="511.87" y="355.60" class="tk" text-anchor="middle">0.6</text>
<text x="552.43" y="355.60" class="tk" text-anchor="middle">0.8</text>
<text x="592.99" y="355.60" class="tk" text-anchor="middle">1</text>
<text x="633.54" y="355.60" class="tk" text-anchor="middle">1.2</text>
<text x="674.10" y="355.60" class="tk" text-anchor="middle">1.4</text>
<text x="386.30" y="344.00" class="tk" text-anchor="end">0</text>
<text x="386.30" y="323.74" class="tk" text-anchor="end">1</text>
<text x="386.30" y="303.49" class="tk" text-anchor="end">2</text>
<text x="386.30" y="283.23" class="tk" text-anchor="end">3</text>
<text x="386.30" y="262.97" class="tk" text-anchor="end">4</text>
<text x="386.30" y="242.71" class="tk" text-anchor="end">5</text>
<text x="386.30" y="222.46" class="tk" text-anchor="end">6</text>
<text x="386.30" y="202.20" class="tk" text-anchor="end">7</text>
<text x="531.55" y="376.50" class="tt" text-anchor="middle">RMSF (nm)</text>
<text transform="translate(371.80 268.50) rotate(-90)" class="tt" text-anchor="middle">PDF</text>
<path d="M559.8 203.5H583.2" stroke="#000000" stroke-width="3.4"/>
<text x="587.8" y="205.9" class="lg">USP21</text>
<path d="M559.8 216.5H583.2" stroke="#FFA500" stroke-width="3.4"/>
<text x="587.8" y="218.9" class="lg">USP21-Ranmogenin A</text>
<path d="M559.8 229.5H583.2" stroke="#40E0D0" stroke-width="3.4"/>
<text x="587.8" y="231.9" class="lg">USP21-Tokorogenin</text>
<path d="M559.8 242.5H583.2" stroke="#581596" stroke-width="3.4"/>
<text x="587.8" y="244.9" class="lg">USP21- BAY-805</text>
<text x="0.6" y="12.3" class="pl">A</text>
<text x="347.3" y="13.3" class="pl">B</text>
</svg></body></html>
